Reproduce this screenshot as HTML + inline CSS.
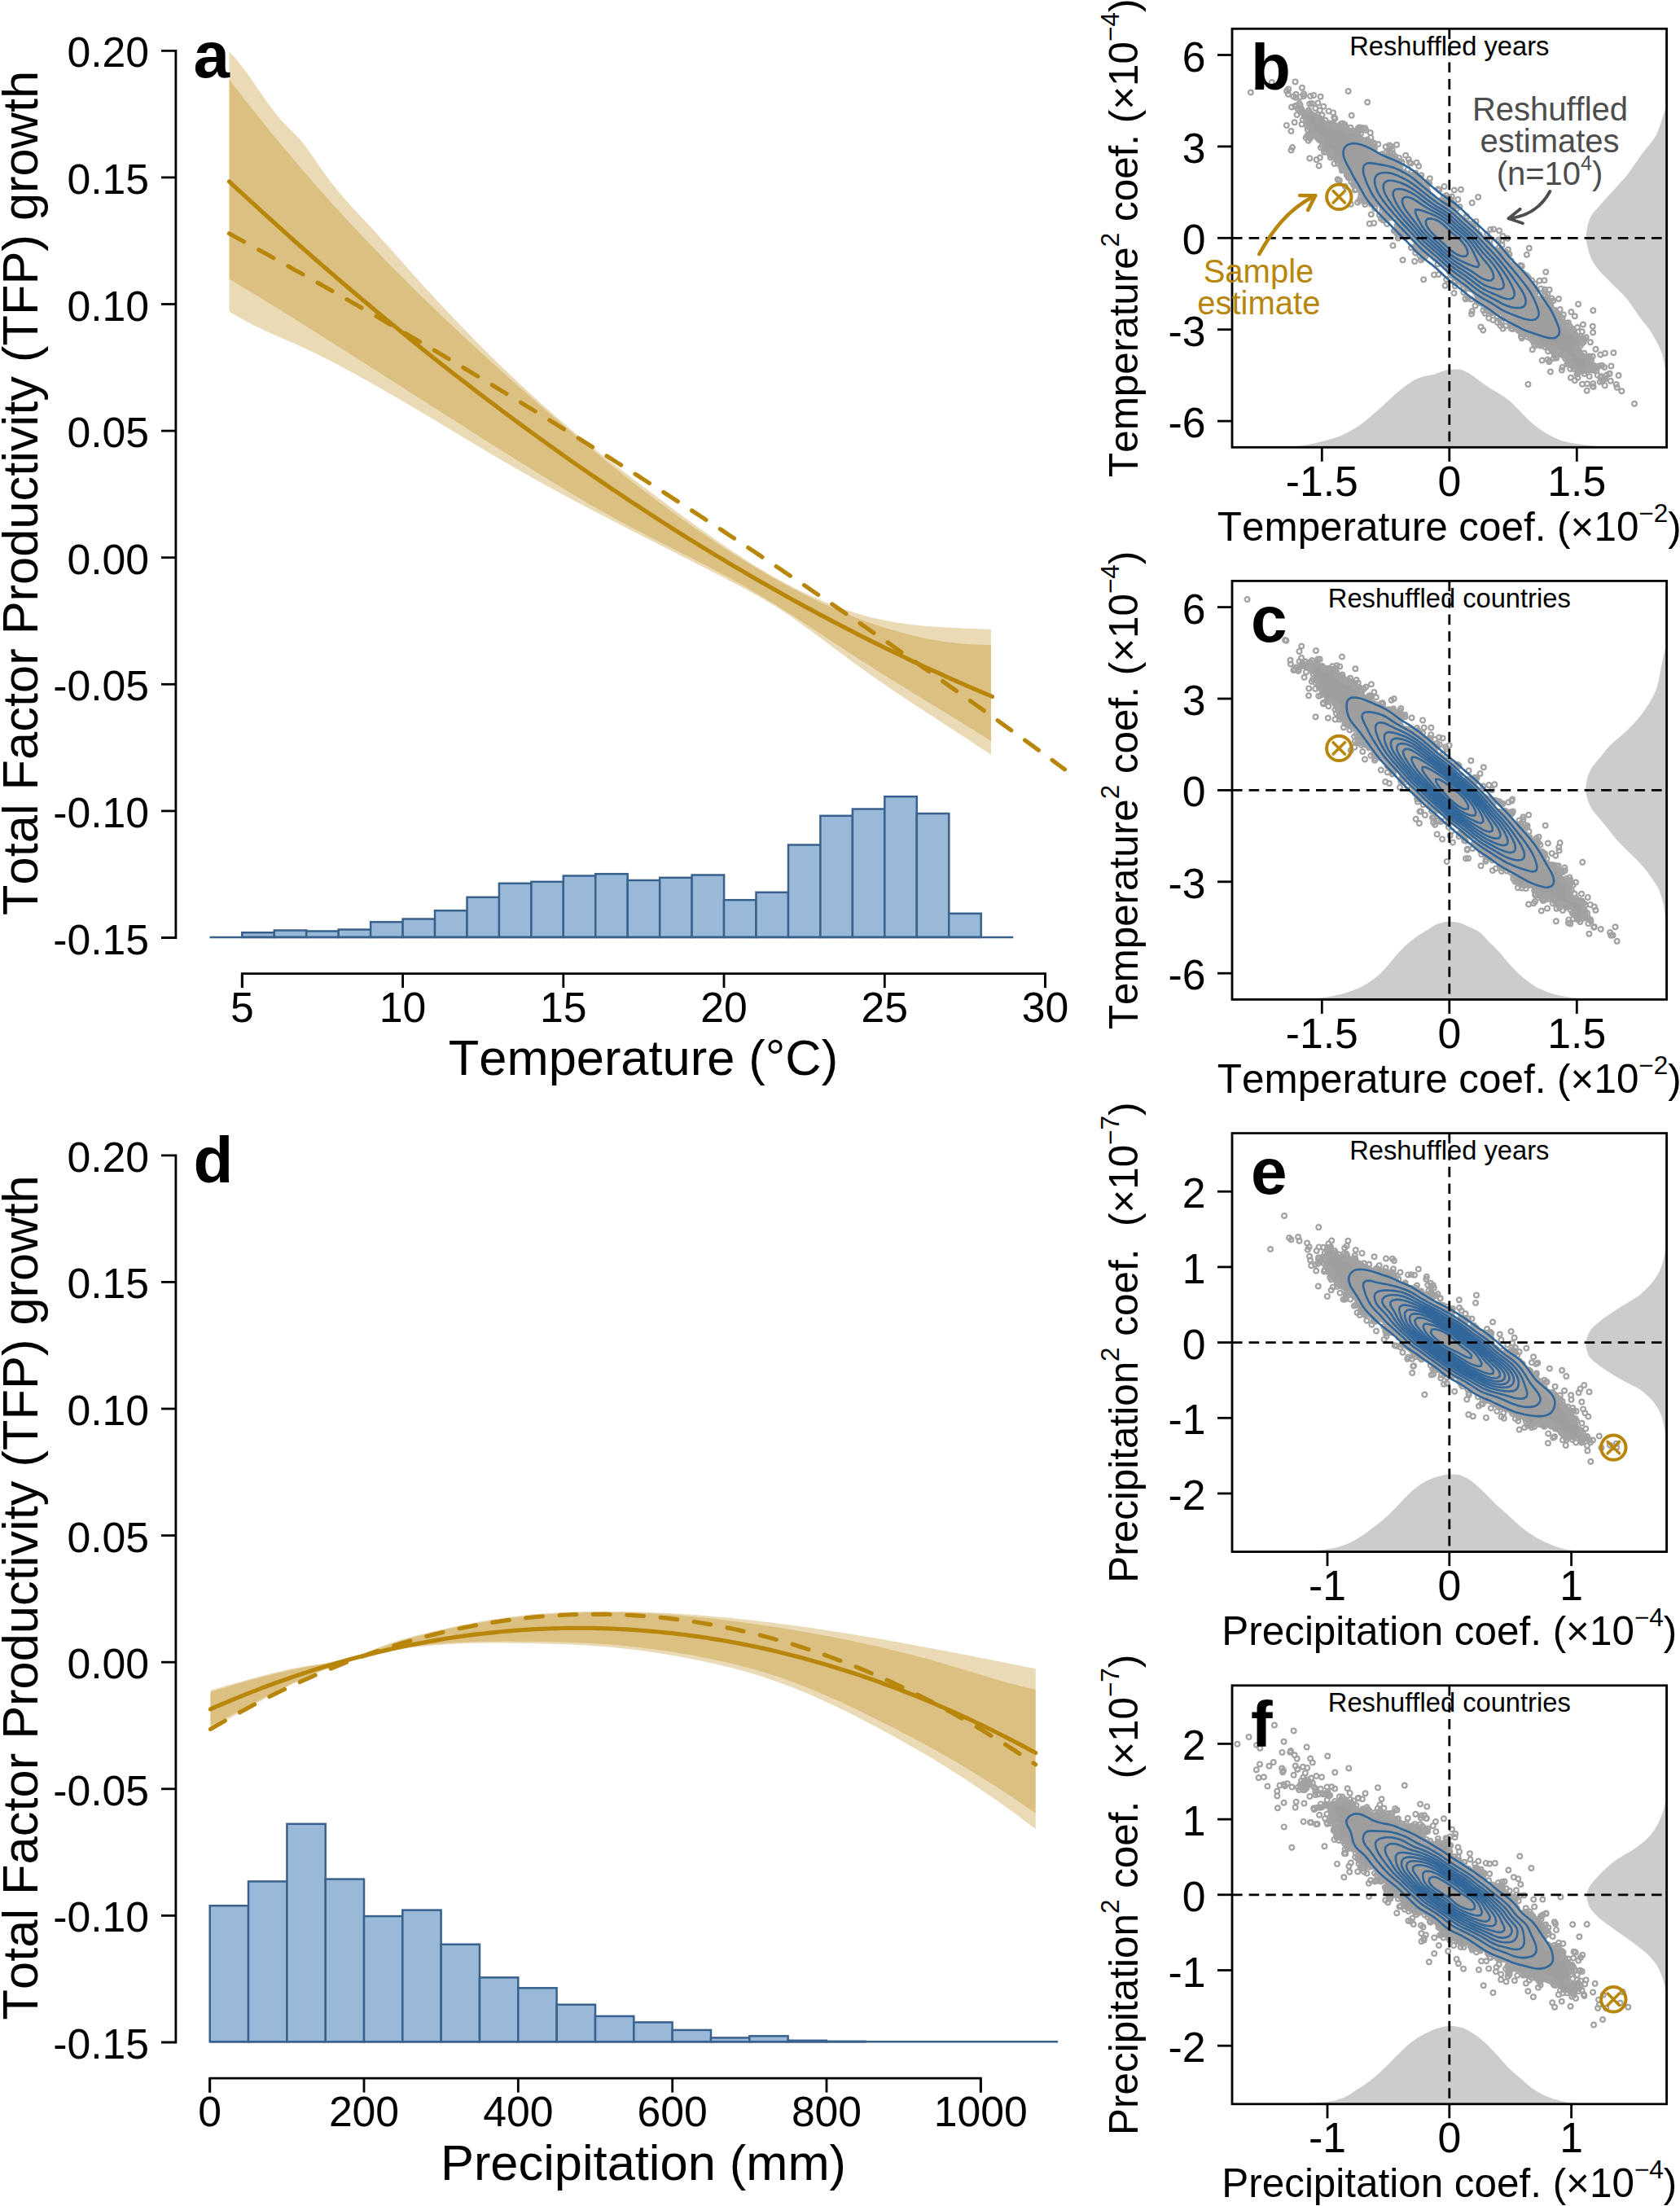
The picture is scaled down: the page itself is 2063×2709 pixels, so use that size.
<!DOCTYPE html>
<html lang="en"><head><meta charset="utf-8"><title>TFP growth response to temperature and precipitation</title><style>
html,body{margin:0;padding:0;background:#fff}
svg{display:block}
text{font-family:"Liberation Sans",sans-serif;fill:#000;font-kerning:none}
.ax{font-size:51.7px}
.rt{font-size:49.4px}
.big{font-size:61.4px}
.let{font-size:80px;font-weight:bold}
.ttl{font-size:32.7px}
.ann{font-size:40px}
.ann text{fill:inherit}
</style></head><body>
<svg width="2063" height="2709" viewBox="0 0 2063 2709">
<rect width="2063" height="2709" fill="#fff"/>
<polygon points="281.5,63.5 287.5,69.8 293.5,76.9 299.5,84.7 305.5,93.0 311.5,101.6 317.5,110.4 323.5,119.1 329.5,127.6 335.5,135.6 341.5,143.2 347.5,150.0 353.5,156.1 359.5,162.0 365.5,168.2 371.5,175.0 377.4,182.8 383.4,191.2 389.4,199.9 395.4,208.6 401.4,217.1 407.4,225.0 413.4,232.6 419.4,239.8 425.4,246.6 431.4,253.3 437.4,259.8 443.4,266.2 449.4,272.6 455.4,279.1 461.4,285.6 467.4,292.2 473.4,298.9 479.4,305.6 485.4,312.3 491.4,319.1 497.4,325.8 503.4,332.5 509.4,339.2 515.4,345.9 521.4,352.5 527.4,359.0 533.4,365.5 539.4,372.0 545.4,378.4 551.4,384.7 557.4,391.0 563.3,397.3 569.3,403.5 575.3,409.7 581.3,415.8 587.3,421.9 593.3,427.9 599.3,433.9 605.3,439.8 611.3,445.7 617.3,451.5 623.3,457.3 629.3,463.0 635.3,468.6 641.3,474.3 647.3,479.8 653.3,485.3 659.3,490.8 665.3,496.2 671.3,501.5 677.3,506.8 683.3,512.1 689.3,517.3 695.3,522.4 701.3,527.5 707.3,532.5 713.3,537.5 719.3,542.4 725.3,547.3 731.3,552.1 737.3,556.9 743.3,561.6 749.2,566.3 755.2,571.0 761.2,575.6 767.2,580.3 773.2,584.8 779.2,589.4 785.2,594.0 791.2,598.5 797.2,603.0 803.2,607.5 809.2,612.0 815.2,616.5 821.2,620.9 827.2,625.4 833.2,629.9 839.2,634.3 845.2,638.7 851.2,643.1 857.2,647.4 863.2,651.7 869.2,656.0 875.2,660.2 881.2,664.4 887.2,668.6 893.2,672.6 899.2,676.7 905.2,680.6 911.2,684.6 917.2,688.4 923.2,692.2 929.2,695.9 935.2,699.5 941.1,703.1 947.1,706.5 953.1,709.9 959.1,713.2 965.1,716.5 971.1,719.6 977.1,722.7 983.1,725.7 989.1,728.5 995.1,731.3 1001.1,734.1 1007.1,736.7 1013.1,739.2 1019.1,741.6 1025.1,744.0 1031.1,746.2 1037.1,748.3 1043.1,750.3 1049.1,752.3 1055.1,754.1 1061.1,755.8 1067.1,757.4 1073.1,758.9 1079.1,760.3 1085.1,761.5 1091.1,762.7 1097.1,763.8 1103.1,764.7 1109.1,765.6 1115.1,766.4 1121.1,767.2 1127.0,767.8 1133.0,768.4 1139.0,769.0 1145.0,769.4 1151.0,769.9 1157.0,770.3 1163.0,770.6 1169.0,770.9 1175.0,771.2 1181.0,771.5 1187.0,771.8 1193.0,772.0 1199.0,772.3 1205.0,772.5 1211.0,772.7 1217.0,773.0 1217.0,927.0 1211.0,922.9 1205.0,918.9 1199.0,914.9 1193.0,910.9 1187.0,907.0 1181.0,903.1 1175.0,899.1 1169.0,895.2 1163.0,891.3 1157.0,887.4 1151.0,883.5 1145.0,879.6 1139.0,875.7 1133.0,871.8 1127.0,867.9 1121.1,863.9 1115.1,860.0 1109.1,856.0 1103.1,852.0 1097.1,848.0 1091.1,843.9 1085.1,839.8 1079.1,835.7 1073.1,831.5 1067.1,827.3 1061.1,823.1 1055.1,818.8 1049.1,814.4 1043.1,810.0 1037.1,805.6 1031.1,801.1 1025.1,796.6 1019.1,792.1 1013.1,787.6 1007.1,783.1 1001.1,778.7 995.1,774.3 989.1,769.9 983.1,765.6 977.1,761.3 971.1,757.1 965.1,753.1 959.1,749.1 953.1,745.2 947.1,741.5 941.1,737.9 935.2,734.4 929.2,731.0 923.2,727.7 917.2,724.4 911.2,721.2 905.2,718.0 899.2,714.9 893.2,711.7 887.2,708.6 881.2,705.5 875.2,702.4 869.2,699.3 863.2,696.2 857.2,693.2 851.2,690.1 845.2,687.0 839.2,684.0 833.2,680.9 827.2,677.8 821.2,674.8 815.2,671.7 809.2,668.7 803.2,665.6 797.2,662.6 791.2,659.5 785.2,656.4 779.2,653.4 773.2,650.3 767.2,647.2 761.2,644.1 755.2,641.0 749.2,637.9 743.3,634.8 737.3,631.7 731.3,628.6 725.3,625.4 719.3,622.3 713.3,619.1 707.3,615.9 701.3,612.7 695.3,609.5 689.3,606.3 683.3,603.0 677.3,599.7 671.3,596.4 665.3,593.1 659.3,589.8 653.3,586.4 647.3,583.1 641.3,579.7 635.3,576.2 629.3,572.8 623.3,569.3 617.3,565.8 611.3,562.3 605.3,558.7 599.3,555.2 593.3,551.6 587.3,548.0 581.3,544.4 575.3,540.9 569.3,537.3 563.3,533.7 557.4,530.1 551.4,526.5 545.4,522.9 539.4,519.3 533.4,515.7 527.4,512.1 521.4,508.5 515.4,505.0 509.4,501.4 503.4,497.9 497.4,494.3 491.4,490.8 485.4,487.3 479.4,483.9 473.4,480.4 467.4,476.9 461.4,473.5 455.4,470.1 449.4,466.7 443.4,463.4 437.4,460.1 431.4,456.8 425.4,453.5 419.4,450.3 413.4,447.1 407.4,444.0 401.4,440.9 395.4,437.9 389.4,434.9 383.4,432.0 377.4,429.2 371.5,426.4 365.5,423.7 359.5,421.0 353.5,418.4 347.5,415.8 341.5,413.2 335.5,410.5 329.5,407.9 323.5,405.1 317.5,402.3 311.5,399.4 305.5,396.3 299.5,393.1 293.5,389.8 287.5,386.2 281.5,382.5" fill="#B8860B" fill-opacity="0.3"/>
<polygon points="281.5,97.5 287.5,105.4 293.5,113.1 299.5,120.9 305.5,128.5 311.5,136.1 317.5,143.7 323.5,151.1 329.5,158.5 335.5,165.9 341.5,173.2 347.5,180.4 353.5,187.5 359.5,194.6 365.5,201.7 371.5,208.7 377.4,215.6 383.4,222.5 389.4,229.3 395.4,236.1 401.4,242.8 407.4,249.5 413.4,256.1 419.4,262.7 425.4,269.2 431.4,275.7 437.4,282.1 443.4,288.5 449.4,294.8 455.4,301.1 461.4,307.3 467.4,313.5 473.4,319.7 479.4,325.8 485.4,331.9 491.4,337.9 497.4,343.9 503.4,349.9 509.4,355.8 515.4,361.7 521.4,367.5 527.4,373.4 533.4,379.1 539.4,384.9 545.4,390.6 551.4,396.3 557.4,402.0 563.3,407.6 569.3,413.2 575.3,418.7 581.3,424.3 587.3,429.8 593.3,435.3 599.3,440.8 605.3,446.2 611.3,451.6 617.3,457.0 623.3,462.4 629.3,467.8 635.3,473.1 641.3,478.4 647.3,483.7 653.3,489.0 659.3,494.2 665.3,499.5 671.3,504.7 677.3,509.9 683.3,515.0 689.3,520.2 695.3,525.3 701.3,530.3 707.3,535.4 713.3,540.4 719.3,545.4 725.3,550.4 731.3,555.4 737.3,560.3 743.3,565.2 749.2,570.0 755.2,574.8 761.2,579.6 767.2,584.4 773.2,589.1 779.2,593.8 785.2,598.4 791.2,603.0 797.2,607.6 803.2,612.2 809.2,616.7 815.2,621.1 821.2,625.5 827.2,629.9 833.2,634.3 839.2,638.6 845.2,642.8 851.2,647.0 857.2,651.2 863.2,655.3 869.2,659.4 875.2,663.5 881.2,667.5 887.2,671.4 893.2,675.3 899.2,679.2 905.2,683.0 911.2,686.7 917.2,690.4 923.2,694.1 929.2,697.7 935.2,701.2 941.1,704.7 947.1,708.2 953.1,711.5 959.1,714.9 965.1,718.2 971.1,721.4 977.1,724.5 983.1,727.6 989.1,730.7 995.1,733.7 1001.1,736.6 1007.1,739.5 1013.1,742.2 1019.1,745.0 1025.1,747.6 1031.1,750.2 1037.1,752.8 1043.1,755.2 1049.1,757.6 1055.1,759.9 1061.1,762.2 1067.1,764.4 1073.1,766.5 1079.1,768.5 1085.1,770.4 1091.1,772.3 1097.1,774.1 1103.1,775.8 1109.1,777.4 1115.1,779.0 1121.1,780.5 1127.0,781.8 1133.0,783.2 1139.0,784.4 1145.0,785.5 1151.0,786.5 1157.0,787.5 1163.0,788.4 1169.0,789.1 1175.0,789.8 1181.0,790.4 1187.0,790.9 1193.0,791.3 1199.0,791.6 1205.0,791.8 1211.0,792.0 1217.0,792.0 1217.0,910.0 1211.0,906.2 1205.0,902.4 1199.0,898.7 1193.0,894.9 1187.0,891.2 1181.0,887.5 1175.0,883.8 1169.0,880.1 1163.0,876.4 1157.0,872.7 1151.0,869.1 1145.0,865.4 1139.0,861.7 1133.0,858.1 1127.0,854.4 1121.1,850.7 1115.1,847.0 1109.1,843.3 1103.1,839.6 1097.1,835.9 1091.1,832.2 1085.1,828.5 1079.1,824.7 1073.1,820.9 1067.1,817.1 1061.1,813.3 1055.1,809.5 1049.1,805.6 1043.1,801.7 1037.1,797.8 1031.1,793.8 1025.1,789.9 1019.1,785.9 1013.1,782.0 1007.1,778.0 1001.1,774.0 995.1,770.1 989.1,766.2 983.1,762.2 977.1,758.3 971.1,754.5 965.1,750.7 959.1,746.9 953.1,743.1 947.1,739.4 941.1,735.8 935.2,732.2 929.2,728.7 923.2,725.2 917.2,721.7 911.2,718.3 905.2,714.9 899.2,711.6 893.2,708.3 887.2,705.1 881.2,701.9 875.2,698.7 869.2,695.6 863.2,692.5 857.2,689.4 851.2,686.3 845.2,683.3 839.2,680.2 833.2,677.2 827.2,674.1 821.2,671.1 815.2,668.1 809.2,665.0 803.2,662.0 797.2,658.9 791.2,655.8 785.2,652.7 779.2,649.6 773.2,646.4 767.2,643.2 761.2,640.0 755.2,636.7 749.2,633.4 743.3,630.1 737.3,626.7 731.3,623.3 725.3,619.9 719.3,616.4 713.3,612.9 707.3,609.3 701.3,605.8 695.3,602.2 689.3,598.6 683.3,595.0 677.3,591.3 671.3,587.6 665.3,583.9 659.3,580.2 653.3,576.5 647.3,572.8 641.3,569.0 635.3,565.3 629.3,561.5 623.3,557.8 617.3,554.0 611.3,550.2 605.3,546.4 599.3,542.7 593.3,538.9 587.3,535.1 581.3,531.3 575.3,527.5 569.3,523.6 563.3,519.8 557.4,516.0 551.4,512.2 545.4,508.4 539.4,504.5 533.4,500.7 527.4,496.9 521.4,493.0 515.4,489.2 509.4,485.4 503.4,481.6 497.4,477.7 491.4,473.9 485.4,470.1 479.4,466.2 473.4,462.4 467.4,458.6 461.4,454.7 455.4,450.9 449.4,447.1 443.4,443.3 437.4,439.5 431.4,435.6 425.4,431.8 419.4,428.0 413.4,424.2 407.4,420.4 401.4,416.7 395.4,412.9 389.4,409.1 383.4,405.3 377.4,401.6 371.5,397.8 365.5,394.1 359.5,390.3 353.5,386.6 347.5,382.8 341.5,379.1 335.5,375.4 329.5,371.7 323.5,368.0 317.5,364.3 311.5,360.7 305.5,357.0 299.5,353.4 293.5,349.7 287.5,346.1 281.5,342.5" fill="#B8860B" fill-opacity="0.3"/>
<polyline points="281.5,222.9 289.4,230.3 297.4,237.6 305.3,244.9 313.3,252.2 321.2,259.4 329.1,266.7 337.1,273.8 345.0,281.0 353.0,288.1 360.9,295.2 368.8,302.2 376.8,309.2 384.7,316.2 392.7,323.1 400.6,330.0 408.6,336.9 416.5,343.7 424.4,350.5 432.4,357.2 440.3,364.0 448.3,370.7 456.2,377.3 464.1,383.9 472.1,390.5 480.0,397.1 488.0,403.6 495.9,410.1 503.8,416.5 511.8,423.0 519.7,429.3 527.7,435.7 535.6,442.0 543.5,448.3 551.5,454.5 559.4,460.7 567.4,466.9 575.3,473.0 583.2,479.1 591.2,485.2 599.1,491.2 607.1,497.2 615.0,503.2 622.9,509.1 630.9,515.0 638.8,520.9 646.8,526.7 654.7,532.5 662.7,538.3 670.6,544.0 678.5,549.7 686.5,555.3 694.4,561.0 702.4,566.6 710.3,572.1 718.2,577.6 726.2,583.1 734.1,588.5 742.1,594.0 750.0,599.3 757.9,604.7 765.9,610.0 773.8,615.3 781.8,620.5 789.7,625.7 797.6,630.9 805.6,636.0 813.5,641.1 821.5,646.2 829.4,651.2 837.3,656.2 845.3,661.2 853.2,666.1 861.2,671.0 869.1,675.9 877.1,680.7 885.0,685.5 892.9,690.2 900.9,694.9 908.8,699.6 916.8,704.3 924.7,708.9 932.6,713.5 940.6,718.0 948.5,722.5 956.5,727.0 964.4,731.5 972.3,735.9 980.3,740.3 988.2,744.6 996.2,748.9 1004.1,753.2 1012.0,757.4 1020.0,761.6 1027.9,765.8 1035.9,769.9 1043.8,774.0 1051.7,778.1 1059.7,782.1 1067.6,786.1 1075.6,790.1 1083.5,794.0 1091.4,797.9 1099.4,801.7 1107.3,805.5 1115.3,809.3 1123.2,813.1 1131.2,816.8 1139.1,820.5 1147.0,824.1 1155.0,827.7 1162.9,831.3 1170.9,834.9 1178.8,838.4 1186.7,841.9 1194.7,845.3 1202.6,848.7 1210.6,852.1 1218.5,855.4" fill="none" stroke="#B8860B" stroke-width="5.2" stroke-linecap="round" stroke-linejoin="round"/>
<polyline points="281.5,286.8 289.5,291.2 297.4,295.5 305.4,299.9 313.3,304.3 321.3,308.7 329.2,313.1 337.2,317.5 345.1,322.0 353.1,326.4 361.0,330.9 369.0,335.3 376.9,339.8 384.9,344.3 392.8,348.8 400.8,353.3 408.8,357.8 416.7,362.4 424.7,366.9 432.6,371.5 440.6,376.1 448.5,380.6 456.5,385.2 464.4,389.8 472.4,394.5 480.3,399.1 488.3,403.7 496.2,408.4 504.2,413.1 512.2,417.7 520.1,422.4 528.1,427.1 536.0,431.8 544.0,436.6 551.9,441.3 559.9,446.0 567.8,450.8 575.8,455.6 583.7,460.4 591.7,465.2 599.6,470.0 607.6,474.8 615.5,479.6 623.5,484.5 631.5,489.3 639.4,494.2 647.4,499.1 655.3,503.9 663.3,508.8 671.2,513.8 679.2,518.7 687.1,523.6 695.1,528.6 703.0,533.5 711.0,538.5 718.9,543.5 726.9,548.5 734.8,553.5 742.8,558.5 750.8,563.5 758.7,568.6 766.7,573.6 774.6,578.7 782.6,583.8 790.5,588.9 798.5,594.0 806.4,599.1 814.4,604.2 822.3,609.3 830.3,614.5 838.2,619.6 846.2,624.8 854.2,630.0 862.1,635.2 870.1,640.4 878.0,645.6 886.0,650.8 893.9,656.1 901.9,661.3 909.8,666.6 917.8,671.9 925.7,677.2 933.7,682.5 941.6,687.8 949.6,693.1 957.5,698.4 965.5,703.8 973.5,709.1 981.4,714.5 989.4,719.9 997.3,725.3 1005.3,730.7 1013.2,736.1 1021.2,741.5 1029.1,747.0 1037.1,752.4 1045.0,757.9 1053.0,763.4 1060.9,768.9 1068.9,774.4 1076.8,779.9 1084.8,785.4 1092.8,790.9 1100.7,796.5 1108.7,802.0 1116.6,807.6 1124.6,813.2 1132.5,818.8 1140.5,824.4 1148.4,830.0 1156.4,835.6 1164.3,841.3 1172.3,846.9 1180.2,852.6 1188.2,858.3 1196.2,864.0 1204.1,869.7 1212.1,875.4 1220.0,881.1 1228.0,886.8 1235.9,892.6 1243.9,898.3 1251.8,904.1 1259.8,909.9 1267.7,915.7 1275.7,921.5 1283.6,927.3 1291.6,933.1 1299.5,939.0 1307.5,944.8" fill="none" stroke="#B8860B" stroke-width="5.2" stroke-linecap="round" stroke-linejoin="round" stroke-dasharray="20.7 20.7"/>
<g fill="#9AB9D8" stroke="#38628D" stroke-width="2.5" stroke-linejoin="miter">
<rect x="297.3" y="1145.2" width="39.5" height="5.7"/>
<rect x="336.8" y="1142.5" width="39.5" height="8.4"/>
<rect x="376.2" y="1143.5" width="39.5" height="7.4"/>
<rect x="415.7" y="1141.5" width="39.5" height="9.4"/>
<rect x="455.1" y="1132.2" width="39.5" height="18.7"/>
<rect x="494.6" y="1128.5" width="39.5" height="22.4"/>
<rect x="534.0" y="1118.2" width="39.5" height="32.7"/>
<rect x="573.5" y="1101.8" width="39.5" height="49.1"/>
<rect x="612.9" y="1084.8" width="39.5" height="66.1"/>
<rect x="652.4" y="1082.8" width="39.5" height="68.1"/>
<rect x="691.8" y="1075.5" width="39.5" height="75.4"/>
<rect x="731.2" y="1073.2" width="39.5" height="77.7"/>
<rect x="770.7" y="1081.0" width="39.5" height="69.9"/>
<rect x="810.2" y="1077.8" width="39.5" height="73.1"/>
<rect x="849.6" y="1074.5" width="39.5" height="76.4"/>
<rect x="889.0" y="1105.2" width="39.5" height="45.7"/>
<rect x="928.5" y="1095.8" width="39.5" height="55.1"/>
<rect x="968.0" y="1037.5" width="39.5" height="113.4"/>
<rect x="1007.4" y="1001.8" width="39.5" height="149.1"/>
<rect x="1046.9" y="993.5" width="39.5" height="157.4"/>
<rect x="1086.3" y="978.2" width="39.5" height="172.7"/>
<rect x="1125.8" y="999.0" width="39.5" height="151.9"/>
<rect x="1165.2" y="1121.8" width="39.5" height="29.1"/>
<path d="M257.5,1150.9H1244.3" fill="none"/>
</g>
<path d="M198,62.3H215.9V1151.5H198" fill="none" stroke="#000" stroke-width="2.8"/>
<text x="183" y="82.3" text-anchor="end" class="ax">0.20</text>
<path d="M198,217.9H215.9" stroke="#000" stroke-width="2.8"/>
<text x="183" y="237.9" text-anchor="end" class="ax">0.15</text>
<path d="M198,373.5H215.9" stroke="#000" stroke-width="2.8"/>
<text x="183" y="393.5" text-anchor="end" class="ax">0.10</text>
<path d="M198,529.1H215.9" stroke="#000" stroke-width="2.8"/>
<text x="183" y="549.1" text-anchor="end" class="ax">0.05</text>
<path d="M198,684.7H215.9" stroke="#000" stroke-width="2.8"/>
<text x="183" y="704.7" text-anchor="end" class="ax">0.00</text>
<path d="M198,840.3H215.9" stroke="#000" stroke-width="2.8"/>
<text x="183" y="860.3" text-anchor="end" class="ax">-0.05</text>
<path d="M198,995.9H215.9" stroke="#000" stroke-width="2.8"/>
<text x="183" y="1015.9" text-anchor="end" class="ax">-0.10</text>
<text x="183" y="1171.5" text-anchor="end" class="ax">-0.15</text>
<path d="M297.3,1213.1V1195.6H1283.5V1213.1" fill="none" stroke="#000" stroke-width="2.8"/>
<path d="M297.3,1195.6V1213.1" stroke="#000" stroke-width="2.8"/>
<text x="297.3" y="1254.6" text-anchor="middle" class="ax">5</text>
<path d="M494.6,1195.6V1213.1" stroke="#000" stroke-width="2.8"/>
<text x="494.6" y="1254.6" text-anchor="middle" class="ax">10</text>
<path d="M691.8,1195.6V1213.1" stroke="#000" stroke-width="2.8"/>
<text x="691.8" y="1254.6" text-anchor="middle" class="ax">15</text>
<path d="M889.0,1195.6V1213.1" stroke="#000" stroke-width="2.8"/>
<text x="889.0" y="1254.6" text-anchor="middle" class="ax">20</text>
<path d="M1086.3,1195.6V1213.1" stroke="#000" stroke-width="2.8"/>
<text x="1086.3" y="1254.6" text-anchor="middle" class="ax">25</text>
<path d="M1283.5,1195.6V1213.1" stroke="#000" stroke-width="2.8"/>
<text x="1283.5" y="1254.6" text-anchor="middle" class="ax">30</text>
<text x="790" y="1320.1" text-anchor="middle" class="big">Temperature (°C)</text>
<text transform="translate(45.6,605.4) rotate(-90)" text-anchor="middle" class="big">Total Factor Productivity (TFP) growth</text>
<text x="237.5" y="95.1" class="let">a</text>
<polygon points="258.4,2075.6 264.4,2073.9 270.4,2072.2 276.4,2070.5 282.4,2068.8 288.4,2067.1 294.4,2065.4 300.4,2063.7 306.4,2062.0 312.4,2060.4 318.4,2058.8 324.4,2057.2 330.4,2055.7 336.3,2054.2 342.3,2052.8 348.3,2051.4 354.3,2050.1 360.3,2048.8 366.3,2047.7 372.3,2046.6 378.3,2045.6 384.3,2044.7 390.3,2043.9 396.3,2043.1 402.3,2042.2 408.3,2041.3 414.3,2040.3 420.3,2039.1 426.3,2037.7 432.3,2036.0 438.3,2034.0 444.3,2031.7 450.3,2029.3 456.3,2026.8 462.3,2024.2 468.3,2021.8 474.3,2019.5 480.2,2017.4 486.2,2015.5 492.2,2013.6 498.2,2011.9 504.2,2010.3 510.2,2008.8 516.2,2007.3 522.2,2005.8 528.2,2004.3 534.2,2002.9 540.2,2001.5 546.2,2000.2 552.2,1998.8 558.2,1997.5 564.2,1996.3 570.2,1995.1 576.2,1993.9 582.2,1992.7 588.2,1991.6 594.2,1990.6 600.2,1989.6 606.2,1988.6 612.2,1987.7 618.2,1986.8 624.1,1986.0 630.1,1985.2 636.1,1984.4 642.1,1983.7 648.1,1983.1 654.1,1982.5 660.1,1982.0 666.1,1981.5 672.1,1981.1 678.1,1980.7 684.1,1980.3 690.1,1980.0 696.1,1979.8 702.1,1979.5 708.1,1979.3 714.1,1979.2 720.1,1979.1 726.1,1979.0 732.1,1978.9 738.1,1978.9 744.1,1978.8 750.1,1978.9 756.1,1978.9 762.1,1979.0 768.0,1979.1 774.0,1979.2 780.0,1979.3 786.0,1979.5 792.0,1979.7 798.0,1979.9 804.0,1980.2 810.0,1980.4 816.0,1980.7 822.0,1981.1 828.0,1981.4 834.0,1981.8 840.0,1982.2 846.0,1982.6 852.0,1983.0 858.0,1983.4 864.0,1983.9 870.0,1984.4 876.0,1984.9 882.0,1985.5 888.0,1986.0 894.0,1986.6 900.0,1987.2 906.0,1987.8 911.9,1988.4 917.9,1989.1 923.9,1989.8 929.9,1990.5 935.9,1991.2 941.9,1991.9 947.9,1992.6 953.9,1993.4 959.9,1994.2 965.9,1994.9 971.9,1995.7 977.9,1996.6 983.9,1997.4 989.9,1998.3 995.9,1999.1 1001.9,2000.0 1007.9,2000.9 1013.9,2001.8 1019.9,2002.7 1025.9,2003.7 1031.9,2004.6 1037.9,2005.6 1043.9,2006.5 1049.9,2007.5 1055.8,2008.5 1061.8,2009.5 1067.8,2010.5 1073.8,2011.5 1079.8,2012.6 1085.8,2013.6 1091.8,2014.7 1097.8,2015.8 1103.8,2016.8 1109.8,2017.9 1115.8,2019.0 1121.8,2020.1 1127.8,2021.2 1133.8,2022.3 1139.8,2023.4 1145.8,2024.6 1151.8,2025.7 1157.8,2026.8 1163.8,2028.0 1169.8,2029.1 1175.8,2030.3 1181.8,2031.5 1187.8,2032.6 1193.8,2033.8 1199.7,2035.0 1205.7,2036.2 1211.7,2037.3 1217.7,2038.5 1223.7,2039.7 1229.7,2040.9 1235.7,2042.1 1241.7,2043.3 1247.7,2044.5 1253.7,2045.7 1259.7,2046.9 1265.7,2048.1 1271.7,2049.3 1271.7,2246.0 1265.7,2241.4 1259.7,2236.9 1253.7,2232.5 1247.7,2228.0 1241.7,2223.7 1235.7,2219.3 1229.7,2215.1 1223.7,2210.8 1217.7,2206.6 1211.7,2202.5 1205.7,2198.4 1199.7,2194.4 1193.8,2190.4 1187.8,2186.4 1181.8,2182.5 1175.8,2178.7 1169.8,2174.9 1163.8,2171.1 1157.8,2167.4 1151.8,2163.7 1145.8,2160.1 1139.8,2156.6 1133.8,2153.0 1127.8,2149.5 1121.8,2146.1 1115.8,2142.7 1109.8,2139.3 1103.8,2135.9 1097.8,2132.6 1091.8,2129.3 1085.8,2126.0 1079.8,2122.8 1073.8,2119.6 1067.8,2116.4 1061.8,2113.3 1055.8,2110.2 1049.9,2107.1 1043.9,2104.1 1037.9,2101.1 1031.9,2098.2 1025.9,2095.3 1019.9,2092.5 1013.9,2089.7 1007.9,2086.9 1001.9,2084.2 995.9,2081.6 989.9,2079.1 983.9,2076.6 977.9,2074.1 971.9,2071.7 965.9,2069.4 959.9,2067.2 953.9,2065.0 947.9,2063.0 941.9,2060.9 935.9,2059.0 929.9,2057.1 923.9,2055.3 917.9,2053.5 911.9,2051.8 906.0,2050.2 900.0,2048.6 894.0,2047.1 888.0,2045.6 882.0,2044.2 876.0,2042.8 870.0,2041.5 864.0,2040.2 858.0,2038.9 852.0,2037.7 846.0,2036.5 840.0,2035.4 834.0,2034.3 828.0,2033.2 822.0,2032.2 816.0,2031.2 810.0,2030.2 804.0,2029.3 798.0,2028.5 792.0,2027.6 786.0,2026.8 780.0,2026.1 774.0,2025.3 768.0,2024.7 762.1,2024.0 756.1,2023.4 750.1,2022.8 744.1,2022.3 738.1,2021.8 732.1,2021.4 726.1,2020.9 720.1,2020.5 714.1,2020.2 708.1,2019.9 702.1,2019.6 696.1,2019.3 690.1,2019.1 684.1,2018.9 678.1,2018.7 672.1,2018.5 666.1,2018.4 660.1,2018.2 654.1,2018.1 648.1,2018.0 642.1,2017.9 636.1,2017.8 630.1,2017.7 624.1,2017.7 618.2,2017.6 612.2,2017.6 606.2,2017.6 600.2,2017.6 594.2,2017.7 588.2,2017.8 582.2,2017.9 576.2,2018.0 570.2,2018.2 564.2,2018.5 558.2,2018.7 552.2,2019.1 546.2,2019.4 540.2,2019.9 534.2,2020.3 528.2,2020.9 522.2,2021.5 516.2,2022.1 510.2,2022.8 504.2,2023.6 498.2,2024.5 492.2,2025.4 486.2,2026.4 480.2,2027.5 474.3,2028.7 468.3,2029.9 462.3,2031.2 456.3,2032.6 450.3,2034.1 444.3,2035.7 438.3,2037.3 432.3,2039.1 426.3,2040.9 420.3,2042.8 414.3,2044.9 408.3,2047.0 402.3,2049.2 396.3,2051.5 390.3,2054.0 384.3,2056.5 378.3,2059.1 372.3,2061.9 366.3,2064.7 360.3,2067.6 354.3,2070.6 348.3,2073.7 342.3,2076.8 336.3,2080.0 330.4,2083.2 324.4,2086.5 318.4,2089.8 312.4,2093.1 306.4,2096.5 300.4,2099.9 294.4,2103.2 288.4,2106.6 282.4,2109.9 276.4,2113.2 270.4,2116.5 264.4,2119.8 258.4,2123.0" fill="#B8860B" fill-opacity="0.3"/>
<polygon points="258.4,2078.0 264.4,2076.1 270.4,2074.2 276.4,2072.4 282.4,2070.6 288.4,2068.8 294.4,2067.0 300.4,2065.3 306.4,2063.6 312.4,2061.9 318.4,2060.3 324.4,2058.7 330.4,2057.2 336.3,2055.7 342.3,2054.3 348.3,2052.9 354.3,2051.5 360.3,2050.2 366.3,2048.9 372.3,2047.7 378.3,2046.6 384.3,2045.5 390.3,2044.5 396.3,2043.4 402.3,2042.4 408.3,2041.3 414.3,2040.1 420.3,2038.8 426.3,2037.4 432.3,2035.8 438.3,2033.9 444.3,2031.9 450.3,2029.8 456.3,2027.6 462.3,2025.4 468.3,2023.2 474.3,2021.1 480.2,2019.0 486.2,2017.1 492.2,2015.2 498.2,2013.4 504.2,2011.7 510.2,2010.1 516.2,2008.4 522.2,2006.9 528.2,2005.4 534.2,2003.9 540.2,2002.5 546.2,2001.1 552.2,1999.8 558.2,1998.5 564.2,1997.2 570.2,1996.0 576.2,1994.9 582.2,1993.8 588.2,1992.7 594.2,1991.7 600.2,1990.7 606.2,1989.8 612.2,1988.9 618.2,1988.1 624.1,1987.3 630.1,1986.5 636.1,1985.8 642.1,1985.2 648.1,1984.5 654.1,1983.9 660.1,1983.4 666.1,1982.9 672.1,1982.4 678.1,1982.0 684.1,1981.6 690.1,1981.3 696.1,1981.0 702.1,1980.7 708.1,1980.5 714.1,1980.3 720.1,1980.1 726.1,1980.0 732.1,1979.9 738.1,1979.9 744.1,1979.9 750.1,1979.9 756.1,1979.9 762.1,1980.0 768.0,1980.2 774.0,1980.3 780.0,1980.5 786.0,1980.8 792.0,1981.0 798.0,1981.3 804.0,1981.7 810.0,1982.0 816.0,1982.4 822.0,1982.8 828.0,1983.3 834.0,1983.7 840.0,1984.2 846.0,1984.8 852.0,1985.3 858.0,1985.9 864.0,1986.5 870.0,1987.1 876.0,1987.8 882.0,1988.5 888.0,1989.2 894.0,1989.9 900.0,1990.7 906.0,1991.4 911.9,1992.2 917.9,1993.0 923.9,1993.9 929.9,1994.7 935.9,1995.6 941.9,1996.5 947.9,1997.4 953.9,1998.3 959.9,1999.3 965.9,2000.3 971.9,2001.3 977.9,2002.3 983.9,2003.3 989.9,2004.3 995.9,2005.4 1001.9,2006.5 1007.9,2007.6 1013.9,2008.7 1019.9,2009.8 1025.9,2011.0 1031.9,2012.2 1037.9,2013.4 1043.9,2014.6 1049.9,2015.9 1055.8,2017.2 1061.8,2018.5 1067.8,2019.8 1073.8,2021.1 1079.8,2022.5 1085.8,2023.9 1091.8,2025.3 1097.8,2026.8 1103.8,2028.3 1109.8,2029.8 1115.8,2031.3 1121.8,2032.8 1127.8,2034.4 1133.8,2036.0 1139.8,2037.6 1145.8,2039.3 1151.8,2041.0 1157.8,2042.7 1163.8,2044.5 1169.8,2046.2 1175.8,2048.0 1181.8,2049.8 1187.8,2051.7 1193.8,2053.5 1199.7,2055.3 1205.7,2057.1 1211.7,2058.9 1217.7,2060.7 1223.7,2062.4 1229.7,2064.2 1235.7,2065.9 1241.7,2067.5 1247.7,2069.1 1253.7,2070.7 1259.7,2072.2 1265.7,2073.6 1271.7,2075.0 1271.7,2226.7 1265.7,2222.5 1259.7,2218.3 1253.7,2214.2 1247.7,2210.2 1241.7,2206.1 1235.7,2202.2 1229.7,2198.2 1223.7,2194.3 1217.7,2190.5 1211.7,2186.7 1205.7,2182.9 1199.7,2179.2 1193.8,2175.5 1187.8,2171.9 1181.8,2168.3 1175.8,2164.8 1169.8,2161.3 1163.8,2157.8 1157.8,2154.4 1151.8,2151.0 1145.8,2147.7 1139.8,2144.4 1133.8,2141.1 1127.8,2137.9 1121.8,2134.7 1115.8,2131.5 1109.8,2128.4 1103.8,2125.2 1097.8,2122.1 1091.8,2119.1 1085.8,2116.0 1079.8,2113.0 1073.8,2110.0 1067.8,2107.0 1061.8,2104.0 1055.8,2101.1 1049.9,2098.2 1043.9,2095.4 1037.9,2092.6 1031.9,2089.8 1025.9,2087.1 1019.9,2084.4 1013.9,2081.8 1007.9,2079.2 1001.9,2076.7 995.9,2074.2 989.9,2071.8 983.9,2069.4 977.9,2067.1 971.9,2064.9 965.9,2062.7 959.9,2060.6 953.9,2058.5 947.9,2056.6 941.9,2054.7 935.9,2052.9 929.9,2051.1 923.9,2049.4 917.9,2047.8 911.9,2046.2 906.0,2044.7 900.0,2043.2 894.0,2041.8 888.0,2040.4 882.0,2039.1 876.0,2037.9 870.0,2036.6 864.0,2035.4 858.0,2034.3 852.0,2033.1 846.0,2032.1 840.0,2031.0 834.0,2030.0 828.0,2029.0 822.0,2028.1 816.0,2027.2 810.0,2026.3 804.0,2025.5 798.0,2024.7 792.0,2023.9 786.0,2023.2 780.0,2022.5 774.0,2021.9 768.0,2021.2 762.1,2020.7 756.1,2020.1 750.1,2019.6 744.1,2019.2 738.1,2018.7 732.1,2018.3 726.1,2018.0 720.1,2017.6 714.1,2017.4 708.1,2017.1 702.1,2016.9 696.1,2016.7 690.1,2016.5 684.1,2016.3 678.1,2016.2 672.1,2016.1 666.1,2016.0 660.1,2015.9 654.1,2015.8 648.1,2015.8 642.1,2015.7 636.1,2015.7 630.1,2015.7 624.1,2015.6 618.2,2015.6 612.2,2015.7 606.2,2015.7 600.2,2015.8 594.2,2015.9 588.2,2016.0 582.2,2016.2 576.2,2016.4 570.2,2016.6 564.2,2016.9 558.2,2017.3 552.2,2017.6 546.2,2018.1 540.2,2018.5 534.2,2019.1 528.2,2019.6 522.2,2020.3 516.2,2021.0 510.2,2021.8 504.2,2022.6 498.2,2023.5 492.2,2024.5 486.2,2025.6 480.2,2026.7 474.3,2027.9 468.3,2029.2 462.3,2030.5 456.3,2032.0 450.3,2033.5 444.3,2035.1 438.3,2036.7 432.3,2038.5 426.3,2040.3 420.3,2042.3 414.3,2044.3 408.3,2046.4 402.3,2048.6 396.3,2050.9 390.3,2053.2 384.3,2055.7 378.3,2058.3 372.3,2060.9 366.3,2063.7 360.3,2066.5 354.3,2069.4 348.3,2072.3 342.3,2075.3 336.3,2078.4 330.4,2081.5 324.4,2084.6 318.4,2087.8 312.4,2091.0 306.4,2094.2 300.4,2097.4 294.4,2100.6 288.4,2103.7 282.4,2106.9 276.4,2110.0 270.4,2113.0 264.4,2116.1 258.4,2119.0" fill="#B8860B" fill-opacity="0.3"/>
<polyline points="258.4,2098.9 266.4,2095.4 274.4,2092.0 282.3,2088.6 290.3,2085.3 298.3,2082.1 306.3,2078.9 314.3,2075.8 322.2,2072.7 330.2,2069.7 338.2,2066.8 346.2,2064.0 354.1,2061.2 362.1,2058.4 370.1,2055.7 378.1,2053.1 386.1,2050.6 394.0,2048.1 402.0,2045.7 410.0,2043.3 418.0,2041.0 426.0,2038.7 433.9,2036.6 441.9,2034.4 449.9,2032.4 457.9,2030.4 465.8,2028.5 473.8,2026.6 481.8,2024.8 489.8,2023.0 497.8,2021.3 505.7,2019.7 513.7,2018.2 521.7,2016.7 529.7,2015.2 537.7,2013.9 545.6,2012.5 553.6,2011.3 561.6,2010.1 569.6,2009.0 577.5,2007.9 585.5,2006.9 593.5,2006.0 601.5,2005.1 609.5,2004.3 617.4,2003.5 625.4,2002.8 633.4,2002.2 641.4,2001.6 649.4,2001.1 657.3,2000.7 665.3,2000.3 673.3,2000.0 681.3,1999.7 689.3,1999.5 697.2,1999.4 705.2,1999.3 713.2,1999.3 721.2,1999.3 729.1,1999.4 737.1,1999.6 745.1,1999.9 753.1,2000.2 761.1,2000.5 769.0,2000.9 777.0,2001.4 785.0,2002.0 793.0,2002.6 801.0,2003.3 808.9,2004.0 816.9,2004.8 824.9,2005.6 832.9,2006.6 840.8,2007.5 848.8,2008.6 856.8,2009.7 864.8,2010.8 872.8,2012.1 880.7,2013.4 888.7,2014.7 896.7,2016.1 904.7,2017.6 912.7,2019.1 920.6,2020.7 928.6,2022.4 936.6,2024.1 944.6,2025.9 952.6,2027.8 960.5,2029.7 968.5,2031.7 976.5,2033.7 984.5,2035.8 992.4,2037.9 1000.4,2040.2 1008.4,2042.4 1016.4,2044.8 1024.4,2047.2 1032.3,2049.7 1040.3,2052.2 1048.3,2054.8 1056.3,2057.4 1064.3,2060.2 1072.2,2062.9 1080.2,2065.8 1088.2,2068.7 1096.2,2071.6 1104.1,2074.7 1112.1,2077.7 1120.1,2080.9 1128.1,2084.1 1136.1,2087.4 1144.0,2090.7 1152.0,2094.1 1160.0,2097.6 1168.0,2101.1 1176.0,2104.7 1183.9,2108.3 1191.9,2112.0 1199.9,2115.8 1207.9,2119.6 1215.8,2123.5 1223.8,2127.5 1231.8,2131.5 1239.8,2135.6 1247.8,2139.7 1255.7,2143.9 1263.7,2148.2 1271.7,2152.5" fill="none" stroke="#B8860B" stroke-width="5.2" stroke-linecap="round" stroke-linejoin="round"/>
<polyline points="258.4,2123.5 266.4,2118.8 274.4,2114.2 282.3,2109.6 290.3,2105.1 298.3,2100.7 306.3,2096.4 314.3,2092.1 322.2,2088.0 330.2,2083.9 338.2,2079.9 346.2,2076.0 354.1,2072.1 362.1,2068.4 370.1,2064.7 378.1,2061.1 386.1,2057.6 394.0,2054.1 402.0,2050.8 410.0,2047.5 418.0,2044.3 426.0,2041.2 433.9,2038.1 441.9,2035.2 449.9,2032.3 457.9,2029.5 465.8,2026.8 473.8,2024.1 481.8,2021.6 489.8,2019.1 497.8,2016.7 505.7,2014.4 513.7,2012.2 521.7,2010.0 529.7,2007.9 537.7,2006.0 545.6,2004.0 553.6,2002.2 561.6,2000.5 569.6,1998.8 577.5,1997.2 585.5,1995.7 593.5,1994.3 601.5,1992.9 609.5,1991.7 617.4,1990.5 625.4,1989.4 633.4,1988.3 641.4,1987.4 649.4,1986.5 657.3,1985.7 665.3,1985.0 673.3,1984.4 681.3,1983.9 689.3,1983.4 697.2,1983.0 705.2,1982.7 713.2,1982.5 721.2,1982.3 729.1,1982.3 737.1,1982.3 745.1,1982.4 753.1,1982.6 761.1,1982.8 769.0,1983.2 777.0,1983.6 785.0,1984.1 793.0,1984.7 801.0,1985.4 808.9,1986.1 816.9,1986.9 824.9,1987.8 832.9,1988.8 840.8,1989.9 848.8,1991.0 856.8,1992.2 864.8,1993.6 872.8,1994.9 880.7,1996.4 888.7,1998.0 896.7,1999.6 904.7,2001.3 912.7,2003.1 920.6,2004.9 928.6,2006.9 936.6,2008.9 944.6,2011.0 952.6,2013.2 960.5,2015.5 968.5,2017.8 976.5,2020.3 984.5,2022.8 992.4,2025.4 1000.4,2028.1 1008.4,2030.8 1016.4,2033.6 1024.4,2036.6 1032.3,2039.6 1040.3,2042.6 1048.3,2045.8 1056.3,2049.0 1064.3,2052.3 1072.2,2055.7 1080.2,2059.2 1088.2,2062.8 1096.2,2066.4 1104.1,2070.1 1112.1,2073.9 1120.1,2077.8 1128.1,2081.8 1136.1,2085.8 1144.0,2089.9 1152.0,2094.1 1160.0,2098.4 1168.0,2102.8 1176.0,2107.2 1183.9,2111.8 1191.9,2116.4 1199.9,2121.0 1207.9,2125.8 1215.8,2130.7 1223.8,2135.6 1231.8,2140.6 1239.8,2145.7 1247.8,2150.8 1255.7,2156.1 1263.7,2161.4 1271.7,2166.8" fill="none" stroke="#B8860B" stroke-width="5.2" stroke-linecap="round" stroke-linejoin="round" stroke-dasharray="20.7 20.7"/>
<g fill="#9AB9D8" stroke="#38628D" stroke-width="2.5" stroke-linejoin="miter">
<rect x="257.7" y="2340.2" width="47.3" height="167.1"/>
<rect x="305.0" y="2310.4" width="47.3" height="196.9"/>
<rect x="352.4" y="2239.8" width="47.3" height="267.5"/>
<rect x="399.7" y="2307.6" width="47.3" height="199.7"/>
<rect x="447.0" y="2353.1" width="47.3" height="154.2"/>
<rect x="494.3" y="2345.6" width="47.3" height="161.7"/>
<rect x="541.7" y="2387.7" width="47.3" height="119.6"/>
<rect x="589.0" y="2428.4" width="47.3" height="78.9"/>
<rect x="636.3" y="2441.3" width="47.3" height="66.0"/>
<rect x="683.7" y="2461.7" width="47.3" height="45.6"/>
<rect x="731.0" y="2475.9" width="47.3" height="31.4"/>
<rect x="778.3" y="2483.4" width="47.3" height="23.9"/>
<rect x="825.7" y="2492.9" width="47.3" height="14.4"/>
<rect x="873.0" y="2502.4" width="47.3" height="4.9"/>
<rect x="920.3" y="2500.3" width="47.3" height="7.0"/>
<rect x="967.6" y="2505.8" width="47.3" height="1.5"/>
<rect x="1015.0" y="2506.8" width="47.3" height="0.5"/>
<path d="M257.7,2507.3H1299.0" fill="none"/>
</g>
<path d="M198,1418.8H215.9V2508.0H198" fill="none" stroke="#000" stroke-width="2.8"/>
<text x="183" y="1438.8" text-anchor="end" class="ax">0.20</text>
<path d="M198,1574.4H215.9" stroke="#000" stroke-width="2.8"/>
<text x="183" y="1594.4" text-anchor="end" class="ax">0.15</text>
<path d="M198,1730.0H215.9" stroke="#000" stroke-width="2.8"/>
<text x="183" y="1750.0" text-anchor="end" class="ax">0.10</text>
<path d="M198,1885.6H215.9" stroke="#000" stroke-width="2.8"/>
<text x="183" y="1905.6" text-anchor="end" class="ax">0.05</text>
<path d="M198,2041.2H215.9" stroke="#000" stroke-width="2.8"/>
<text x="183" y="2061.2" text-anchor="end" class="ax">0.00</text>
<path d="M198,2196.8H215.9" stroke="#000" stroke-width="2.8"/>
<text x="183" y="2216.8" text-anchor="end" class="ax">-0.05</text>
<path d="M198,2352.4H215.9" stroke="#000" stroke-width="2.8"/>
<text x="183" y="2372.4" text-anchor="end" class="ax">-0.10</text>
<text x="183" y="2528.0" text-anchor="end" class="ax">-0.15</text>
<path d="M257.7,2569.6V2552.1H1204.3V2569.6" fill="none" stroke="#000" stroke-width="2.8"/>
<path d="M257.7,2552.1V2569.6" stroke="#000" stroke-width="2.8"/>
<text x="257.7" y="2611.1" text-anchor="middle" class="ax">0</text>
<path d="M447.0,2552.1V2569.6" stroke="#000" stroke-width="2.8"/>
<text x="447.0" y="2611.1" text-anchor="middle" class="ax">200</text>
<path d="M636.3,2552.1V2569.6" stroke="#000" stroke-width="2.8"/>
<text x="636.3" y="2611.1" text-anchor="middle" class="ax">400</text>
<path d="M825.7,2552.1V2569.6" stroke="#000" stroke-width="2.8"/>
<text x="825.7" y="2611.1" text-anchor="middle" class="ax">600</text>
<path d="M1015.0,2552.1V2569.6" stroke="#000" stroke-width="2.8"/>
<text x="1015.0" y="2611.1" text-anchor="middle" class="ax">800</text>
<path d="M1204.3,2552.1V2569.6" stroke="#000" stroke-width="2.8"/>
<text x="1204.3" y="2611.1" text-anchor="middle" class="ax">1000</text>
<text x="790" y="2676.6" text-anchor="middle" class="big">Precipitation (mm)</text>
<text transform="translate(45.6,1961.9) rotate(-90)" text-anchor="middle" class="big">Total Factor Productivity (TFP) growth</text>
<text x="237.5" y="1451.6" class="let">d</text>
<defs>
<marker id="rg" markerUnits="userSpaceOnUse" markerWidth="8" markerHeight="8" refX="4" refY="4" overflow="visible"><circle cx="4" cy="4" r="2.9" fill="none" stroke="#A2A2A2" stroke-width="2.2"/></marker>
<clipPath id="clipb"><rect x="1513.0" y="35.3" width="533.6" height="514.0"/></clipPath>
<clipPath id="clipc"><rect x="1513.0" y="713.4" width="533.6" height="514.0"/></clipPath>
<clipPath id="clipe"><rect x="1513.0" y="1391.6" width="533.6" height="514.0"/></clipPath>
<clipPath id="clipf"><rect x="1513.0" y="2069.8" width="533.6" height="514.0"/></clipPath>
</defs>
<g id="pb">
<g clip-path="url(#clipb)">
<polygon points="2046.6,125.0 2046.6,125.0 2046.1,128.0 2045.4,130.9 2044.7,133.9 2043.9,136.9 2042.9,139.9 2042.0,142.8 2041.1,145.8 2040.2,148.8 2039.3,151.8 2038.3,154.7 2037.2,157.7 2036.0,160.7 2034.7,163.7 2033.3,166.6 2031.5,169.6 2029.4,172.6 2027.2,175.6 2024.8,178.5 2022.3,181.5 2019.8,184.5 2017.4,187.5 2015.2,190.4 2013.1,193.4 2011.0,196.4 2009.0,199.4 2007.0,202.3 2004.9,205.3 2002.9,208.3 2000.7,211.2 1998.5,214.2 1996.1,217.2 1993.6,220.2 1991.0,223.1 1988.4,226.1 1985.6,229.1 1982.9,232.1 1980.1,235.0 1977.3,238.0 1974.6,241.0 1971.9,244.0 1969.2,246.9 1966.5,249.9 1963.9,252.9 1961.3,255.9 1958.6,258.8 1956.1,261.8 1954.1,264.8 1952.6,267.8 1951.4,270.7 1950.4,273.7 1949.6,276.7 1949.0,279.7 1948.5,282.6 1948.1,285.6 1947.8,288.6 1947.7,291.6 1947.8,294.5 1948.3,297.5 1948.9,300.5 1949.6,303.4 1950.3,306.4 1951.1,309.4 1952.1,312.4 1953.1,315.3 1954.4,318.3 1956.0,321.3 1957.8,324.3 1959.9,327.2 1962.1,330.2 1964.6,333.2 1967.3,336.2 1970.2,339.1 1973.1,342.1 1976.0,345.1 1979.0,348.1 1982.0,351.0 1985.0,354.0 1988.1,357.0 1991.2,360.0 1994.2,362.9 1996.9,365.9 1999.3,368.9 2001.4,371.9 2003.4,374.8 2005.4,377.8 2007.5,380.8 2009.5,383.8 2011.6,386.7 2013.7,389.7 2015.9,392.7 2018.2,395.6 2020.7,398.6 2023.1,401.6 2025.3,404.6 2027.3,407.5 2029.1,410.5 2030.8,413.5 2032.5,416.5 2034.1,419.4 2035.8,422.4 2037.3,425.4 2038.6,428.4 2039.7,431.3 2040.8,434.3 2041.7,437.3 2042.5,440.3 2043.1,443.2 2043.7,446.2 2044.1,449.2 2044.6,452.2 2045.0,455.1 2045.3,458.1 2045.7,461.1 2046.0,464.1 2046.3,467.0 2046.6,470.0 2046.6,470.0" fill="#CCCCCC"/>
<polygon points="1578.0,549.3 1578.0,549.3 1581.0,549.1 1584.0,548.9 1587.0,548.6 1589.9,548.3 1592.9,547.9 1595.9,547.5 1598.9,547.2 1601.9,546.7 1604.9,546.2 1607.9,545.7 1610.8,545.1 1613.8,544.4 1616.8,543.7 1619.8,543.0 1622.8,542.3 1625.8,541.6 1628.8,540.8 1631.7,540.0 1634.7,539.1 1637.7,538.2 1640.7,537.2 1643.7,536.1 1646.7,534.9 1649.7,533.5 1652.6,532.1 1655.6,530.6 1658.6,529.0 1661.6,527.3 1664.6,525.6 1667.6,523.7 1670.6,521.6 1673.5,519.4 1676.5,517.0 1679.5,514.5 1682.5,511.9 1685.5,509.3 1688.5,506.8 1691.4,504.2 1694.4,501.6 1697.4,498.9 1700.4,496.1 1703.4,493.3 1706.4,490.5 1709.4,487.8 1712.3,485.1 1715.3,482.5 1718.3,480.0 1721.3,477.6 1724.3,475.2 1727.3,473.0 1730.3,470.9 1733.2,468.9 1736.2,467.1 1739.2,465.5 1742.2,464.2 1745.2,463.2 1748.2,462.3 1751.2,461.7 1754.1,461.1 1757.1,460.6 1760.1,460.0 1763.1,459.1 1766.1,457.9 1769.1,456.6 1772.1,455.7 1775.0,454.8 1778.0,454.1 1781.0,453.9 1784.0,453.7 1787.0,453.6 1790.0,453.5 1793.0,453.7 1795.9,454.6 1798.9,456.0 1801.9,457.6 1804.9,459.1 1807.9,461.1 1810.9,463.2 1813.9,465.5 1816.8,467.7 1819.8,469.8 1822.8,472.0 1825.8,474.1 1828.8,476.1 1831.8,477.9 1834.8,479.7 1837.7,481.4 1840.7,483.3 1843.7,485.2 1846.7,487.1 1849.7,489.2 1852.7,491.4 1855.7,493.9 1858.6,496.8 1861.6,499.9 1864.6,503.1 1867.6,506.1 1870.6,509.2 1873.6,512.3 1876.6,515.2 1879.5,518.0 1882.5,520.6 1885.5,523.0 1888.5,525.3 1891.5,527.5 1894.5,529.5 1897.4,531.4 1900.4,533.2 1903.4,534.8 1906.4,536.3 1909.4,537.8 1912.4,539.1 1915.4,540.3 1918.3,541.2 1921.3,542.0 1924.3,542.7 1927.3,543.4 1930.3,544.0 1933.3,544.5 1936.3,545.0 1939.2,545.5 1942.2,545.9 1945.2,546.3 1948.2,546.7 1951.2,547.0 1954.2,547.3 1957.2,547.6 1960.1,547.9 1963.1,548.1 1966.1,548.3 1969.1,548.5 1972.1,548.7 1975.1,548.8 1978.1,549.0 1981.0,549.1 1984.0,549.2 1987.0,549.3 1990.0,549.3 1990.0,549.3" fill="#CCCCCC"/>
<path d="M1590.5,116.2 1592.5,116.6 1594.2,117.9 1595.6,119.6 1594.4,121.2 1592.3,120.6 1590.3,119.6 1589.2,117.9ZM1609.0,126.2 1611.0,126.6 1612.3,128.3 1611.3,130.1 1609.4,129.9 1608.1,128.1ZM1594.5,127.8 1596.4,128.5 1596.9,130.6 1597.8,132.6 1599.3,134.3 1601.0,135.6 1603.0,136.4 1605.1,135.9 1606.9,134.6 1608.6,133.2 1610.4,134.1 1611.6,136.0 1613.2,137.5 1615.2,138.4 1617.2,139.3 1619.0,140.4 1621.2,141.0 1623.1,141.7 1624.3,143.6 1625.5,145.5 1627.0,147.0 1628.5,148.6 1630.2,150.0 1632.2,150.8 1634.3,150.2 1636.2,149.2 1638.0,150.2 1639.2,152.1 1641.0,153.4 1643.1,153.8 1645.0,152.8 1646.9,151.6 1649.0,151.3 1650.9,152.4 1652.4,154.0 1653.8,155.7 1655.7,156.7 1657.9,156.7 1659.8,157.8 1661.6,159.0 1663.7,159.4 1665.7,158.5 1667.4,157.1 1669.3,156.1 1671.5,156.5 1673.7,156.9 1675.8,157.5 1676.5,159.3 1674.9,160.7 1673.1,162.0 1671.8,163.8 1670.7,165.7 1670.7,167.8 1671.8,169.7 1673.3,171.3 1675.3,172.2 1677.4,172.0 1679.5,171.7 1681.3,173.0 1683.3,173.9 1685.5,174.1 1687.1,175.6 1689.0,176.7 1690.1,178.5 1689.1,180.4 1688.3,182.4 1687.6,184.5 1687.8,186.6 1689.0,188.5 1690.9,189.6 1693.0,190.3 1695.1,189.9 1697.1,189.1 1699.3,188.7 1701.2,187.7 1702.5,186.0 1703.0,183.9 1702.3,181.8 1703.2,179.9 1705.1,178.8 1707.2,178.6 1709.1,179.7 1710.4,181.4 1710.2,183.6 1709.9,185.8 1710.6,187.8 1711.8,189.7 1713.3,191.3 1715.0,192.7 1717.0,193.5 1719.1,194.2 1721.2,194.9 1723.3,195.0 1724.3,196.8 1723.0,198.5 1721.5,200.1 1720.3,202.0 1720.1,204.1 1721.1,206.0 1722.6,207.7 1724.1,209.2 1725.5,211.0 1727.2,212.3 1729.3,212.8 1731.5,212.7 1733.4,213.6 1735.6,213.6 1737.6,212.7 1739.5,213.5 1741.3,214.8 1743.2,215.9 1744.5,217.5 1744.4,219.7 1745.1,221.8 1746.6,223.4 1748.6,224.3 1750.7,223.8 1752.8,223.6 1754.1,225.2 1753.1,227.0 1751.9,228.8 1751.5,231.0 1752.5,232.9 1753.6,234.8 1754.4,236.9 1755.7,238.7 1757.3,240.1 1758.9,241.6 1759.8,243.6 1761.0,245.5 1762.6,246.9 1764.6,247.9 1766.7,247.5 1768.6,246.4 1770.2,244.9 1771.5,243.1 1772.8,241.3 1774.6,240.1 1776.7,239.9 1778.6,241.0 1780.8,241.5 1782.9,241.6 1784.5,243.1 1785.4,245.1 1786.3,247.1 1787.7,248.8 1789.2,250.4 1790.6,252.1 1791.6,254.0 1790.2,255.6 1788.6,257.0 1787.1,258.6 1786.1,260.6 1786.3,262.7 1787.6,264.5 1789.4,265.6 1791.4,266.6 1793.4,267.6 1795.4,268.4 1797.5,267.9 1799.6,267.8 1800.8,269.6 1801.6,271.6 1803.0,273.3 1804.9,274.4 1807.0,274.9 1809.1,274.6 1810.6,276.1 1811.5,278.1 1812.8,279.9 1813.2,282.0 1813.1,284.1 1814.1,286.1 1815.6,287.7 1817.2,289.2 1818.9,290.6 1820.9,291.4 1823.1,291.3 1825.1,292.2 1827.2,292.9 1828.8,294.4 1829.5,296.4 1829.4,298.6 1830.2,300.6 1831.1,302.6 1832.4,304.4 1834.2,305.5 1836.4,306.0 1838.4,305.2 1840.2,303.9 1841.5,302.2 1843.4,301.2 1844.8,302.8 1845.9,304.7 1847.5,306.2 1849.5,307.1 1851.3,308.4 1852.5,310.1 1853.4,312.1 1852.7,314.2 1852.7,316.3 1853.8,318.2 1855.2,319.9 1856.0,321.9 1857.0,323.9 1858.6,325.3 1860.4,326.6 1862.4,327.4 1864.6,327.1 1866.6,326.2 1868.2,327.3 1867.6,329.3 1867.5,331.5 1868.5,333.4 1870.0,335.1 1871.8,336.3 1873.7,337.5 1875.4,338.9 1876.9,340.5 1878.3,342.2 1880.0,343.5 1881.8,344.8 1883.5,346.2 1885.0,347.7 1885.0,349.9 1885.5,352.0 1886.7,353.8 1888.1,355.5 1887.2,357.4 1886.2,359.3 1885.8,361.4 1886.5,363.5 1887.8,365.3 1889.6,366.5 1891.6,367.3 1893.7,366.8 1895.5,365.5 1896.7,363.7 1897.2,361.6 1897.7,359.5 1899.7,359.7 1900.8,361.6 1901.8,363.5 1903.3,365.1 1905.3,366.1 1907.0,367.5 1907.4,369.5 1906.0,371.2 1905.0,373.1 1904.8,375.3 1905.7,377.3 1907.0,379.0 1908.8,380.4 1910.3,381.9 1911.9,383.5 1913.7,384.7 1915.8,385.3 1917.9,385.0 1919.6,386.4 1919.3,388.5 1918.8,390.6 1919.3,392.7 1920.5,394.5 1922.4,395.6 1924.5,396.3 1926.2,397.8 1927.3,399.6 1928.6,401.4 1930.2,403.0 1932.1,404.0 1933.8,405.3 1935.7,406.5 1937.3,408.0 1938.5,409.8 1940.0,411.4 1942.0,412.3 1944.2,412.2 1946.2,413.1 1947.8,414.5 1948.4,416.6 1947.1,418.4 1945.4,419.7 1943.8,421.2 1942.4,422.9 1941.0,424.6 1939.6,426.3 1938.9,428.4 1939.5,430.5 1940.8,432.2 1942.7,433.2 1944.8,433.8 1946.6,435.1 1948.4,436.4 1950.4,437.0 1952.6,437.5 1954.4,438.6 1954.5,440.7 1954.3,442.9 1954.6,445.1 1955.6,447.0 1957.2,448.5 1959.1,449.5 1961.0,450.6 1961.6,452.6 1960.9,454.7 1960.8,456.8 1960.1,458.8 1958.0,458.7 1955.8,458.7 1953.8,457.8 1951.7,457.2 1949.6,457.9 1947.7,458.9 1945.5,459.1 1943.5,458.4 1941.3,458.5 1939.5,459.7 1938.2,461.5 1936.6,462.9 1935.1,461.6 1935.6,459.5 1935.6,457.3 1934.6,455.4 1933.0,453.9 1930.9,453.1 1928.8,452.9 1927.1,451.5 1925.6,449.8 1924.0,448.4 1924.1,446.3 1924.5,444.2 1923.5,442.2 1922.1,440.6 1920.8,438.8 1919.4,437.2 1917.4,436.2 1915.2,436.6 1913.4,437.7 1911.7,439.1 1909.6,439.0 1908.7,437.2 1908.2,435.0 1907.1,433.2 1905.3,431.9 1903.3,431.2 1901.2,430.7 1899.8,429.1 1898.2,427.5 1896.5,426.1 1894.6,425.0 1892.5,424.8 1890.4,424.4 1888.3,423.7 1886.2,424.2 1884.3,423.3 1883.3,421.3 1882.3,419.4 1880.9,417.6 1879.3,416.2 1877.5,414.9 1875.5,414.1 1873.3,413.6 1871.2,414.1 1869.2,414.9 1867.5,413.7 1867.7,411.5 1867.2,409.4 1866.0,407.6 1864.3,406.2 1862.6,404.8 1860.6,403.8 1858.5,404.0 1856.3,403.9 1854.6,402.6 1852.8,401.3 1851.7,399.5 1852.8,397.7 1853.9,395.8 1853.8,393.6 1852.6,391.8 1850.9,390.4 1848.9,389.7 1846.8,390.5 1845.2,392.0 1844.1,393.9 1844.3,396.0 1845.4,397.9 1847.1,399.3 1848.1,401.1 1846.7,402.8 1844.7,402.7 1843.1,401.2 1841.8,399.5 1840.5,397.7 1838.8,396.3 1838.3,394.4 1840.0,392.9 1841.8,391.7 1843.1,389.9 1843.5,387.8 1842.6,385.8 1841.0,384.3 1839.1,383.3 1837.0,383.7 1835.1,384.9 1833.8,386.7 1831.9,387.6 1830.1,386.5 1828.0,385.7 1825.9,386.1 1824.0,385.0 1822.5,383.4 1821.3,381.6 1821.8,379.5 1822.0,377.3 1821.1,375.4 1819.6,373.7 1817.8,372.6 1815.6,372.4 1813.5,372.4 1812.1,370.8 1810.9,369.0 1809.7,367.2 1810.7,365.4 1812.0,363.6 1812.5,361.5 1811.7,359.5 1810.3,357.8 1808.5,356.5 1806.5,355.6 1804.4,355.1 1802.2,354.9 1800.3,355.8 1798.3,355.7 1797.3,353.8 1796.8,351.7 1795.7,349.8 1794.0,348.4 1791.9,347.7 1789.8,348.4 1787.9,347.9 1786.6,346.1 1786.2,344.0 1785.7,341.9 1784.4,340.1 1782.7,338.7 1781.3,337.0 1780.2,335.1 1779.3,333.1 1778.5,331.0 1777.9,328.9 1776.8,327.0 1775.1,325.7 1773.0,325.0 1771.1,324.0 1769.0,323.2 1766.9,322.8 1765.5,321.1 1764.5,319.2 1762.8,317.8 1761.0,316.5 1760.1,314.5 1759.2,312.5 1757.6,311.0 1755.6,310.2 1753.6,310.9 1751.9,312.3 1750.4,314.0 1748.5,313.5 1747.3,311.7 1745.8,310.0 1743.9,308.9 1741.8,309.0 1739.8,309.9 1737.9,309.0 1737.1,307.0 1737.8,304.9 1738.0,302.8 1738.7,300.7 1739.2,298.6 1738.7,296.5 1737.5,294.6 1736.0,293.1 1734.3,291.6 1732.6,290.3 1730.6,289.3 1728.5,289.7 1726.7,290.9 1724.7,291.6 1722.8,290.6 1720.6,290.2 1718.6,291.0 1716.7,290.1 1715.8,288.1 1714.7,286.3 1713.1,284.7 1712.5,282.7 1713.9,281.0 1714.9,279.1 1715.3,276.9 1715.8,274.8 1716.1,272.7 1715.3,270.7 1713.8,269.1 1711.9,268.0 1709.9,266.9 1707.8,267.0 1705.9,268.1 1704.0,269.3 1702.0,270.0 1700.0,270.9 1697.9,270.5 1696.2,269.2 1695.1,267.3 1694.2,265.3 1694.8,263.3 1696.0,261.5 1696.9,259.4 1696.8,257.3 1695.7,255.4 1694.0,254.2 1692.1,253.0 1690.4,251.7 1688.4,250.8 1686.3,251.3 1684.1,251.4 1682.2,250.3 1680.2,249.7 1678.1,250.4 1676.0,250.4 1674.6,248.8 1672.9,247.4 1671.1,246.1 1670.1,244.3 1670.4,242.1 1671.1,240.0 1670.8,237.9 1669.9,235.9 1668.5,234.2 1666.5,233.2 1664.6,232.1 1663.4,230.3 1662.3,228.4 1661.2,226.5 1660.0,224.6 1658.7,222.9 1657.7,221.0 1656.2,219.3 1654.8,217.6 1653.7,215.7 1653.0,213.6 1652.0,211.7 1650.3,210.3 1648.5,209.0 1647.5,207.1 1646.5,205.2 1645.1,203.4 1643.6,201.8 1641.7,200.8 1639.8,199.8 1638.5,198.0 1637.4,196.1 1635.7,194.7 1633.9,193.4 1633.1,191.4 1632.1,189.4 1630.5,188.0 1628.5,187.1 1626.4,186.7 1624.8,185.1 1623.7,183.3 1622.3,181.6 1622.5,179.5 1623.4,177.5 1623.2,175.4 1621.9,173.6 1620.2,172.2 1618.6,170.7 1617.1,169.1 1615.3,167.8 1613.2,167.3 1611.2,168.1 1609.6,169.6 1608.2,171.3 1606.3,172.1 1604.6,170.7 1603.6,168.8 1604.4,166.8 1605.7,165.0 1606.6,163.0 1606.2,160.9 1605.3,158.9 1605.0,156.7 1604.1,154.7 1603.6,152.6 1602.7,150.6 1601.3,148.9 1599.8,147.3 1598.9,145.3 1597.8,143.4 1597.5,141.2 1597.0,139.1 1595.8,137.4 1594.3,135.8 1593.1,133.9 1591.7,132.2 1591.0,130.3 1592.6,128.9ZM1841.5,293.8 1843.4,294.4 1844.3,296.2 1843.0,297.8 1841.1,297.2 1840.2,295.4ZM1973.0,459.7 1975.0,460.2 1974.9,462.4 1974.0,464.5 1972.7,466.3 1970.9,467.8 1968.8,468.8 1966.6,469.3 1965.1,467.7 1965.1,465.4 1965.0,463.2 1967.0,462.2 1969.2,462.2 1971.3,461.2Z" fill="#9E9E9E" fill-rule="evenodd"/>
<polyline points="1813.5,290.0 1965.2,435.5 1966.1,462.3 1710.4,301.6 1635.8,191.3 1692.2,177.1 1766.4,337.0 1623.3,173.7 1802.8,366.5 1838.5,388.4 1841.0,283.3 1821.4,381.3 1942.7,407.2 1710.2,188.2 1888.6,422.6 1651.7,229.1 1921.4,399.6 1917.9,395.8 1685.7,183.4 1763.1,249.0 1952.5,438.1 1604.8,149.0 1768.8,319.5 1763.2,310.1 1952.9,420.3 1655.7,218.2 1851.1,292.7 1748.4,232.0 1902.6,443.5 1706.9,266.7 1950.6,444.9 1957.7,454.0 1833.2,392.9 1914.0,367.0 1889.8,367.2 1713.1,196.3 1717.8,269.7 1649.0,207.8 1662.1,227.3 1641.2,155.4 1655.6,112.0 1754.0,225.7 1955.9,474.6 1669.3,232.4 1607.0,135.8 1944.5,419.9 1867.1,406.8 1741.8,301.8 1921.8,436.3 1770.5,322.6 1810.0,284.2 1928.3,452.9 1828.3,390.7 1666.0,168.0 1882.3,365.2 1851.7,314.8 1750.8,236.0 1606.6,172.7 1918.3,390.4 1752.6,309.8 1737.3,290.0 1535.8,113.5 1699.4,270.6 1947.7,414.2 1805.6,355.0 1647.3,156.1 1692.8,192.4 1884.8,363.8 1911.6,432.5 1644.8,221.7 1608.1,127.5 1731.3,287.1 1615.3,133.1 1724.5,212.9 1839.9,294.4 1716.2,271.0 1834.6,309.2 1786.7,351.3 1672.5,158.4 1779.8,326.9 1848.8,318.3 1853.3,388.1 1923.5,396.7 1721.9,210.9 1885.5,418.2 1886.8,367.8 1605.2,155.6 1670.5,242.9 1868.5,404.5 1801.0,276.1 1634.7,190.6 1987.5,461.1 1620.8,193.6 1721.3,288.8 1910.2,387.0 1687.3,193.0 1888.3,370.0 1742.2,221.2 1905.1,430.1 1842.3,382.2 1731.9,215.9 1638.5,200.9 1860.3,330.8 1622.7,173.3 1845.3,290.0 1642.8,200.6 1898.2,334.0 1686.9,188.9 1652.6,155.8 1761.7,316.7 1777.2,325.7 1592.5,140.9 1960.5,455.6 1838.9,395.9 1823.6,384.8 1621.5,118.8 1659.6,141.7 1800.7,267.3 1787.1,345.9 1808.7,279.2 1731.5,217.4 1625.2,130.8 1675.2,172.8 1715.8,265.2 1914.0,386.9 1759.4,249.7 1956.2,471.0 1748.9,312.0 1807.9,355.2 1936.9,413.7 1631.6,153.2 1738.1,310.4 1763.8,250.4 1939.4,456.3 1761.6,308.6 1856.0,328.9 1790.3,244.9 1588.3,118.5 1909.0,436.5 1621.8,181.2 1613.0,117.1 1561.7,101.1 1590.3,130.3 1679.1,125.5 1966.7,448.8 1601.0,115.3 1762.8,310.7 1905.6,366.4 1691.6,247.5 1684.6,189.7 1885.6,416.7 1604.5,146.9 1712.4,267.6 1742.8,305.2 1733.2,290.2 1734.5,215.0 1632.7,189.3 1887.1,369.7 1773.5,228.9 1793.9,232.7 1618.5,169.8 1755.6,307.4 1681.7,274.7 1683.3,168.9 1653.6,215.0 1716.6,292.4 1774.6,350.8 1669.6,156.4 1580.0,111.8 1770.3,250.0 1734.8,288.9 1830.0,301.5 1752.4,240.1 1742.9,306.8 1949.4,440.9 1654.6,159.4 1619.6,203.6 1772.7,324.6 1742.1,204.0 1928.5,404.7 1951.7,437.7 1847.3,389.3 1668.0,157.0 1804.0,274.6 1722.5,319.3 1876.1,345.3 1716.9,275.6 1719.6,204.6 1881.9,361.6 1634.8,186.2 1970.9,433.8 1635.5,153.4 1750.2,314.4 1745.3,215.3 1970.8,465.8 1930.9,404.1 1938.1,430.8 1596.6,129.3 1715.6,276.5 1933.7,467.2 1796.0,349.5 1695.7,193.6 1585.4,161.0 1909.1,381.0 1882.4,364.2 1945.6,416.6 1587.0,181.0 1751.7,233.5 1893.3,370.9 1881.7,429.3 1793.2,268.1 1641.6,195.8 1691.1,250.1 1963.4,449.6 1873.0,337.6 1659.4,223.5 1834.0,380.4 1599.8,147.0 1850.7,388.4 1874.1,342.2 1976.6,458.8 1595.4,127.0 1598.5,152.6 1967.2,449.1 1642.6,155.9 1887.2,419.6 1830.1,304.4 1596.8,137.5 1914.7,388.3 1737.1,320.9 1744.5,224.3 1619.7,171.6 1925.0,441.9 1884.8,348.6 1940.6,412.8 1686.4,188.3 1639.4,145.6 1918.4,451.0 1689.4,191.4 1924.6,399.8 1591.4,115.8 1890.3,344.8 1597.6,136.4 1826.4,293.8 1842.5,399.9 1591.6,129.8 1868.4,408.7 1607.0,135.3 1965.6,463.4 1818.4,401.5 1749.6,231.0 1891.7,424.3 1648.7,205.2 1817.5,291.5 1658.7,160.9 1586.0,131.5 1621.8,172.1 1747.8,307.4 1761.4,248.3 1741.8,294.5 1829.2,382.3 1709.9,262.5 1616.6,196.1 1694.0,264.3 1956.1,408.3 1956.3,381.3 1663.8,233.3 1890.9,367.9 1783.2,338.5 1736.7,293.3 1953.9,443.0 1759.0,245.0 1760.6,315.3 1740.2,292.8 1952.2,449.2 1687.9,182.8 1756.9,246.5 1813.1,280.7 1937.4,431.5 1941.0,424.0 1890.2,370.3 1711.2,193.2 1953.4,442.6 1697.3,255.6 1579.8,153.9 1651.2,157.1 1888.2,366.9 1741.2,300.1 1919.3,434.8 1633.8,193.4 1907.6,380.9 1956.9,448.9 1985.6,475.8 1738.0,305.8 1687.8,176.7 1901.1,431.5 1893.6,442.6 1761.4,246.5 1925.9,396.2 1917.8,454.5 1765.5,324.2 1726.1,190.7 1900.2,441.5 1822.3,376.4 1637.4,153.0 1685.7,185.0 1809.1,283.8 1888.7,369.3 1638.2,144.3 1776.1,343.1 1621.1,168.7 1740.6,307.8 1876.8,341.1 1779.8,333.6 1864.5,334.8 1802.9,275.9 1698.4,270.1 1919.1,436.4 1851.8,306.6 1841.0,303.9 1668.4,171.6 1884.0,422.6 1920.3,436.3 1686.1,181.6 1896.4,358.2 1647.8,209.3 1610.7,167.0 1809.9,282.6 1631.9,152.1 1740.0,294.9 1845.6,403.6 1658.8,250.8 1615.9,165.2 1667.8,167.3 1933.8,388.3 1927.3,405.8 1618.1,140.8 1967.7,467.9 1799.5,366.5 1743.1,313.6 1610.8,127.1 1677.3,159.8 1738.5,290.6 1752.3,223.6 1875.8,343.1 1909.1,436.2 1956.4,451.5 1834.0,281.4 1873.4,409.8 1633.6,153.4 1831.5,384.2 1649.3,155.5 1639.5,156.5 1713.3,191.9 1698.8,193.1 1892.1,354.5 1646.6,152.1 1824.2,294.9 1685.5,185.2 1874.8,409.7 1937.0,402.0 1715.2,286.2 1843.5,395.1 1671.9,156.9 1741.5,299.3 1936.3,459.5 1738.8,301.7 1679.5,173.3 1875.1,340.3 1688.5,246.8 1870.7,339.0 1781.8,337.7 1638.2,153.4 1785.7,263.2 1978.4,449.6 1767.4,233.2 1782.8,241.4 1868.7,326.7 1897.8,362.6 1939.6,435.3 1684.2,182.8 1961.7,460.7 1721.6,199.2 1706.0,267.5 1896.9,355.5 1863.7,405.3 1791.8,345.1 1630.4,153.8 1808.0,277.2 1937.4,463.7 1589.6,150.3 1972.9,460.4 1772.9,241.5 1696.2,190.0 1886.8,355.5 1879.5,415.7 1816.0,358.8 1869.6,335.1 1783.0,259.3 1628.2,186.4 1760.1,312.0 1686.2,175.2 1942.7,456.0 1738.3,212.6 1768.4,317.6 1653.7,207.7 1850.8,320.4 1695.8,268.7 1590.5,100.4 1679.1,175.6 1831.8,309.1 1935.6,428.9 1764.3,318.1 1785.4,360.0 1582.2,109.4 1816.2,288.3 1785.1,264.5 1849.3,309.6 1814.3,286.8 1887.0,369.2 1846.3,390.0 1830.2,281.8 1742.1,296.4 1656.5,212.3 1843.3,380.8 1717.2,282.7 1859.0,326.2 1709.9,262.1 1748.1,343.3 1902.2,444.1 1600.9,118.0 1729.8,214.7 1636.5,153.3 1810.5,357.7 1641.9,154.8 1604.0,138.2 1752.6,234.0 1813.2,361.3 1691.3,193.5 1685.7,189.4 1916.2,394.0 1854.1,387.1 1603.6,169.1 1928.2,405.7 1776.1,239.9 1704.8,264.7 1702.9,265.4 1608.2,194.4 1758.9,311.3 1758.3,310.0 1616.8,143.9 1650.9,156.9 1890.1,423.6 1701.6,180.3 1732.4,200.6 1755.1,241.0 1805.3,351.5 1630.5,152.9 1742.5,305.0 1855.7,403.5 1711.8,283.5 1709.3,263.8 1687.1,273.9 1640.6,194.6 1977.7,467.8 1964.7,468.8 1884.3,365.0 1683.8,250.6 1618.4,126.4 1751.9,233.0 1807.0,385.6 1637.1,138.4 1740.3,295.6 1717.2,279.9 1686.7,190.7 1814.5,357.5 1789.8,342.1 1883.9,363.6 1769.0,318.9 1786.7,338.4 1919.9,386.6 1632.9,151.5 1874.8,312.8 1910.8,439.3 1809.7,274.5 1779.4,242.0 1609.0,118.0 1852.7,390.7 1867.8,337.2 1943.9,398.5 1749.2,229.8 1908.5,384.6 1686.1,189.0 1925.6,445.4 1785.7,233.5 1728.1,217.1 1773.0,324.4 1698.1,255.4 1882.5,418.1 1867.8,413.2 1908.8,380.8 1703.0,275.0 1924.3,447.1 1949.0,471.2 1805.6,353.0 1726.2,215.3 1718.2,276.7 1718.0,193.9 1598.9,107.8 1804.0,350.7 1766.2,315.9 1784.7,266.0 1774.2,320.7 1795.8,272.1 1751.6,239.9 1697.2,260.0 1813.8,370.6 1679.3,173.1 1938.9,431.4 1750.3,314.8 1727.1,287.6 1658.4,156.8 1892.4,369.1 1861.8,327.9 1940.9,436.5 1623.6,179.0 1769.5,246.2 1907.3,432.1 1765.4,318.4 1790.3,266.4 1774.9,323.0 1631.6,136.4 1684.0,186.7 1871.6,341.5 1642.6,220.3 1753.3,235.1 1812.1,284.7 1819.1,369.5 1877.2,411.1 1751.9,307.8 1945.3,458.9 1932.2,449.4 1844.3,295.5 1671.4,238.0 1761.4,310.7 1834.5,381.3 1829.6,295.1 1608.7,153.7 1948.5,454.2 1799.7,367.3 1601.7,140.4 1591.3,119.8 1671.0,164.1 1955.7,400.7 1740.1,298.7 1739.7,299.4 1610.3,166.7 1744.9,319.3 1851.1,318.0 1902.6,355.7 1959.5,428.8 1848.9,400.3 1779.5,325.3 1907.3,369.3 1851.1,321.2 1669.2,230.0 1877.7,304.7 1679.0,171.6 1615.3,165.6 1605.6,159.1 1945.2,433.8 1900.7,426.2 1708.1,262.5 1778.5,330.1 1684.4,180.5 1758.9,249.5 1814.4,358.7 1826.1,287.4 1758.2,241.9 1783.1,263.0 1757.5,248.0 1684.1,250.4 1676.1,157.2 1815.1,242.1 1797.6,353.8 1801.5,354.3 1706.1,178.4 1960.4,452.3 1772.7,321.4 1938.0,373.4 1585.4,184.4 1581.8,115.7 1698.5,254.8 1854.8,395.5 1729.8,195.8 1731.5,217.2 1708.2,264.4 1908.4,429.6 1919.1,435.2 1637.2,151.1 1885.0,424.6 1661.6,160.4 1717.8,202.7 1734.9,291.3 1885.4,359.7 1724.0,213.7 1593.6,133.1 1840.4,382.8 1834.5,306.3 1886.1,420.4 1883.6,365.7 1836.6,308.6 1874.9,338.8 1885.5,416.9 1852.5,389.0 1984.6,472.0 1885.6,368.9 1915.3,388.7 1593.1,132.9 1721.4,212.8 1850.1,386.3 1867.1,325.9 1857.4,403.9 1725.5,291.7 1800.7,265.5 1792.4,254.0 1949.1,437.8 1918.5,391.6 1608.7,170.0 1655.4,216.1 1773.7,246.3 1929.3,383.1 1907.8,440.0 1812.9,358.9 1797.2,359.0 1900.8,371.3 1860.9,329.7 1755.2,306.7 1876.4,471.9 1927.9,401.1 1715.0,177.7 1747.1,317.1 1970.7,473.4 1707.4,262.8 1903.8,456.5 1716.8,289.6 1870.2,406.7 1934.9,429.5 1676.2,251.1 1605.3,166.5 1728.3,217.1 1765.8,232.2 1731.3,288.8 1623.5,141.3 1713.3,282.4 1646.5,204.6 1970.1,451.0 1863.7,329.1 1685.7,189.8 1620.8,135.6 1881.0,344.6 1732.9,304.1 1690.4,193.6 1668.0,158.3 1648.7,151.6 1756.5,240.2 1853.9,389.7 1761.7,249.9 1948.6,479.8 1786.9,268.4 1628.9,153.4 1789.0,256.1 1739.5,199.8 1808.1,352.2 1665.2,232.7 1922.2,440.3 1717.1,269.3 1744.1,218.6 1755.8,219.2 1617.1,168.6 1976.1,459.0 1676.2,247.6 1739.0,292.7 1892.1,424.5 1708.1,179.7 1825.4,298.8 1915.6,380.0 1855.5,320.3 1682.7,163.1 1667.1,248.4 1950.3,437.7 1853.9,325.3 1866.0,406.9 1853.4,312.2 1666.9,165.6 1719.3,269.2 1956.6,474.9 1957.8,449.6 1896.4,344.2 1928.0,442.4 1840.4,296.0 1951.5,439.7 1781.8,260.8 1627.5,147.7 1675.3,240.7 1651.3,153.1 1932.4,453.0 1912.4,435.6 1786.1,338.4 1730.8,199.6 1807.6,249.1 1806.4,367.5 1741.5,296.6 1897.5,426.5 1911.3,439.4 1695.5,193.2 1932.9,408.0 1852.2,388.9 1910.5,387.9 1900.4,361.0 1903.7,374.0 1850.0,387.8 1657.8,214.4 1683.7,263.3 1669.8,246.3 1755.0,225.4 1951.7,462.2 1598.4,134.2 1662.1,225.3 1625.9,186.7 1821.2,405.4 1811.5,375.4 1785.4,266.4 1868.6,415.3 1679.3,246.9 1688.0,255.9 1991.3,480.2 1633.2,186.5 1943.0,471.7 1670.8,172.6 1699.5,255.5 1608.5,156.9 1821.9,371.4 1669.8,168.4 1785.4,251.1 2007.0,495.8 1812.5,271.9 1701.5,188.1 1697.2,189.3 1672.0,236.6 1709.7,184.1 1728.8,207.9 1882.4,355.3 1761.0,337.4 1864.4,331.2 1758.6,241.6 1904.5,376.0 1664.7,226.5 1867.1,336.3 1815.0,291.0 1817.5,371.9 1633.2,152.5 1942.9,421.3 1685.4,248.1 1793.6,346.7 1691.3,190.3 1928.9,463.8 1653.6,211.7 1888.6,369.0 1688.4,189.8 1981.3,433.2 1908.0,432.4 1596.4,119.1 1673.6,172.0 1786.4,344.7 1784.7,259.6 1876.0,345.6 1807.6,382.1 1749.8,231.2 1939.0,430.9 1882.3,418.6 1951.5,454.3 1895.5,367.8 1955.7,437.4 1913.2,434.7 1900.2,424.7 1937.8,457.4 1875.5,413.7 1666.9,168.3 1689.5,190.2 1844.5,300.9 1942.5,436.2 1649.0,204.9" fill="none" stroke="none" marker-start="url(#rg)" marker-mid="url(#rg)" marker-end="url(#rg)"/>
<path d="M1657.0,176.9 1660.9,176.1 1664.9,176.3 1668.9,177.0 1672.7,178.1 1676.5,179.5 1680.2,181.1 1683.8,182.9 1687.3,184.8 1690.8,186.8 1694.3,188.8 1697.8,190.6 1701.5,192.3 1705.2,193.8 1708.9,195.3 1712.6,196.9 1716.3,198.5 1719.9,200.3 1723.4,202.2 1726.9,204.2 1730.3,206.2 1733.7,208.4 1737.0,210.7 1740.1,213.2 1743.2,215.7 1746.2,218.4 1749.2,221.1 1752.2,223.8 1755.2,226.4 1758.3,229.0 1761.3,231.6 1764.4,234.1 1767.5,236.7 1770.7,239.2 1774.0,241.5 1777.3,243.7 1780.7,245.9 1784.0,248.1 1787.3,250.4 1790.4,253.0 1793.4,255.6 1796.3,258.4 1799.1,261.2 1802.0,264.1 1804.8,266.9 1807.8,269.6 1810.8,272.3 1813.8,275.0 1816.7,277.7 1819.6,280.4 1822.5,283.2 1825.5,285.9 1828.4,288.6 1831.4,291.3 1834.3,294.1 1837.2,296.8 1840.0,299.7 1842.7,302.7 1845.4,305.7 1847.9,308.8 1850.5,311.9 1853.0,315.0 1855.7,318.0 1858.4,320.9 1861.2,323.8 1864.1,326.6 1866.9,329.5 1869.6,332.4 1872.3,335.4 1874.9,338.4 1877.5,341.5 1880.0,344.7 1882.4,347.8 1884.8,351.1 1887.1,354.4 1889.3,357.7 1891.5,361.1 1893.6,364.5 1895.8,367.8 1898.1,371.1 1900.3,374.5 1902.6,377.8 1904.7,381.2 1906.6,384.7 1908.3,388.3 1910.0,392.0 1911.6,395.7 1913.1,399.4 1914.4,403.2 1915.0,407.1 1914.2,411.0 1911.5,413.9 1907.7,415.2 1903.7,415.3 1899.7,414.6 1895.9,413.5 1892.1,412.2 1888.3,410.9 1884.5,409.7 1880.7,408.5 1876.8,407.2 1873.1,405.8 1869.5,404.1 1865.9,402.2 1862.4,400.4 1858.8,398.5 1855.2,396.7 1851.6,394.9 1848.1,393.0 1844.6,391.0 1841.2,388.9 1837.9,386.6 1834.7,384.2 1831.5,381.8 1828.2,379.5 1824.9,377.3 1821.5,375.1 1818.1,373.0 1814.6,370.9 1811.3,368.7 1808.0,366.5 1804.8,364.1 1801.6,361.5 1798.6,359.0 1795.4,356.4 1792.3,354.0 1789.1,351.5 1785.9,349.1 1782.7,346.7 1779.6,344.1 1776.6,341.5 1773.6,338.8 1770.7,336.0 1767.8,333.3 1764.9,330.5 1761.9,327.9 1758.8,325.3 1755.6,322.9 1752.4,320.4 1749.3,317.9 1746.2,315.4 1743.2,312.7 1740.3,309.9 1737.4,307.1 1734.7,304.2 1732.0,301.2 1729.2,298.3 1726.4,295.4 1723.6,292.6 1720.7,289.8 1717.9,287.0 1715.0,284.1 1712.2,281.3 1709.4,278.4 1706.6,275.5 1703.8,272.7 1700.9,269.9 1698.0,267.1 1695.2,264.3 1692.4,261.4 1689.7,258.4 1687.0,255.4 1684.4,252.4 1681.8,249.3 1679.4,246.1 1677.2,242.8 1675.1,239.3 1673.1,235.8 1671.2,232.3 1669.2,228.8 1667.2,225.4 1665.1,222.0 1663.1,218.5 1661.1,215.0 1659.3,211.4 1657.4,207.9 1655.5,204.3 1653.6,200.8 1651.9,197.2 1650.4,193.5 1649.6,189.5 1649.6,185.5 1650.9,181.7 1653.5,178.7ZM1678.0,200.7 1681.9,200.1 1685.9,200.6 1689.9,201.3 1693.8,201.9 1697.8,202.6 1701.7,203.3 1705.6,204.2 1709.5,205.3 1713.2,206.6 1716.9,208.2 1720.5,210.0 1724.0,211.9 1727.5,213.9 1730.9,216.0 1734.2,218.3 1737.4,220.7 1740.5,223.2 1743.5,225.8 1746.6,228.4 1749.7,230.9 1752.8,233.5 1755.9,236.0 1759.0,238.5 1762.1,241.0 1765.3,243.5 1768.5,245.8 1771.8,248.1 1775.2,250.2 1778.5,252.4 1781.8,254.7 1785.0,257.1 1788.1,259.7 1791.0,262.4 1793.9,265.2 1796.8,267.9 1799.7,270.7 1802.7,273.4 1805.7,276.1 1808.7,278.7 1811.6,281.4 1814.5,284.1 1817.4,287.0 1820.2,289.8 1823.0,292.7 1825.8,295.5 1828.7,298.3 1831.5,301.1 1834.4,303.9 1837.1,306.9 1839.8,309.8 1842.4,312.9 1844.9,316.0 1847.4,319.1 1850.0,322.1 1852.6,325.2 1855.2,328.2 1857.9,331.2 1860.5,334.3 1863.0,337.4 1865.5,340.5 1868.0,343.7 1870.5,346.8 1872.9,349.9 1875.3,353.1 1877.6,356.4 1879.8,359.8 1881.7,363.3 1883.5,366.9 1885.1,370.5 1886.7,374.2 1888.1,378.0 1889.2,381.8 1889.6,385.8 1888.6,389.6 1885.6,392.1 1881.7,393.0 1877.7,392.8 1873.8,392.0 1869.9,390.9 1866.1,389.6 1862.4,388.2 1858.6,386.8 1854.9,385.4 1851.2,383.8 1847.6,382.1 1844.1,380.3 1840.6,378.2 1837.3,376.0 1833.9,373.9 1830.5,371.7 1827.0,369.7 1823.5,367.8 1820.1,365.8 1816.6,363.7 1813.3,361.5 1810.1,359.2 1806.9,356.7 1803.8,354.1 1800.8,351.6 1797.6,349.1 1794.4,346.7 1791.2,344.3 1787.9,342.0 1784.7,339.6 1781.6,337.1 1778.5,334.5 1775.6,331.8 1772.6,329.1 1769.7,326.4 1766.8,323.7 1763.8,321.0 1760.7,318.4 1757.6,315.9 1754.5,313.4 1751.4,310.8 1748.4,308.2 1745.4,305.5 1742.5,302.7 1739.7,299.9 1737.0,297.0 1734.2,294.1 1731.5,291.2 1728.7,288.3 1725.9,285.4 1723.1,282.5 1720.3,279.7 1717.6,276.8 1714.8,273.9 1712.1,270.9 1709.3,268.0 1706.6,265.1 1703.8,262.2 1701.1,259.3 1698.4,256.3 1695.8,253.3 1693.3,250.2 1690.8,247.0 1688.4,243.8 1686.2,240.4 1684.2,237.0 1682.4,233.4 1680.7,229.8 1679.0,226.2 1677.5,222.5 1676.1,218.7 1674.8,214.9 1674.0,211.0 1673.9,207.0 1675.0,203.2ZM1699.0,212.0 1703.0,212.0 1707.0,212.6 1710.9,213.6 1714.7,215.0 1718.4,216.6 1722.0,218.3 1725.6,220.2 1729.1,222.2 1732.5,224.3 1735.8,226.6 1739.0,229.0 1742.2,231.5 1745.3,234.0 1748.5,236.5 1751.6,239.0 1754.8,241.5 1758.0,244.0 1761.2,246.4 1764.4,248.8 1767.8,251.0 1771.2,253.2 1774.6,255.3 1778.0,257.5 1781.2,259.9 1784.3,262.4 1787.3,265.1 1790.3,267.9 1793.2,270.7 1796.1,273.4 1799.1,276.1 1802.1,278.8 1805.2,281.4 1808.2,284.1 1811.1,286.9 1813.9,289.8 1816.6,292.8 1819.3,295.7 1822.1,298.7 1824.8,301.6 1827.6,304.5 1830.4,307.4 1833.2,310.3 1835.9,313.3 1838.5,316.3 1841.1,319.4 1843.7,322.6 1846.2,325.7 1848.7,328.8 1851.2,332.0 1853.6,335.2 1856.0,338.4 1858.4,341.7 1860.7,345.0 1863.0,348.3 1865.3,351.6 1867.5,355.0 1869.6,358.4 1871.5,361.9 1872.9,365.7 1873.7,369.7 1873.2,373.6 1870.8,376.7 1867.0,378.0 1863.0,378.1 1859.0,377.7 1855.0,376.9 1851.2,375.7 1847.4,374.2 1843.8,372.5 1840.3,370.5 1836.8,368.5 1833.3,366.6 1829.7,364.8 1826.1,362.9 1822.5,361.1 1819.1,359.0 1815.7,356.8 1812.4,354.5 1809.3,352.0 1806.2,349.4 1803.0,346.9 1799.9,344.4 1796.6,342.0 1793.3,339.7 1790.0,337.4 1786.8,335.0 1783.6,332.6 1780.4,330.1 1777.4,327.4 1774.4,324.7 1771.4,322.0 1768.5,319.3 1765.5,316.6 1762.5,313.9 1759.4,311.3 1756.3,308.7 1753.3,306.0 1750.3,303.4 1747.3,300.7 1744.4,297.9 1741.5,295.1 1738.7,292.1 1736.0,289.2 1733.3,286.2 1730.5,283.3 1727.8,280.4 1725.0,277.5 1722.2,274.5 1719.5,271.6 1716.8,268.6 1714.2,265.5 1711.5,262.5 1708.9,259.4 1706.3,256.3 1703.8,253.2 1701.3,250.1 1698.8,246.9 1696.5,243.6 1694.3,240.2 1692.3,236.7 1690.6,233.1 1689.2,229.3 1688.3,225.4 1688.0,221.4 1688.9,217.5 1691.4,214.4 1695.0,212.7ZM1705.0,221.8 1709.0,221.7 1712.9,222.4 1716.8,223.4 1720.6,224.8 1724.3,226.3 1727.9,228.0 1731.4,230.0 1734.8,232.1 1738.1,234.3 1741.4,236.7 1744.6,239.1 1747.7,241.5 1750.9,244.0 1754.1,246.4 1757.3,248.8 1760.6,251.1 1764.0,253.3 1767.4,255.4 1770.8,257.4 1774.2,259.6 1777.5,261.8 1780.7,264.3 1783.7,266.9 1786.6,269.6 1789.5,272.4 1792.5,275.1 1795.4,277.8 1798.5,280.4 1801.5,283.0 1804.5,285.7 1807.4,288.5 1810.2,291.4 1812.8,294.3 1815.4,297.4 1818.0,300.4 1820.6,303.5 1823.3,306.5 1826.0,309.4 1828.8,312.3 1831.5,315.3 1834.2,318.2 1836.8,321.3 1839.3,324.4 1841.7,327.6 1844.1,330.8 1846.4,334.1 1848.7,337.4 1850.9,340.8 1852.9,344.2 1854.9,347.7 1856.7,351.2 1858.3,354.9 1859.6,358.7 1859.8,362.7 1857.9,366.0 1854.1,367.2 1850.1,367.0 1846.2,365.9 1842.5,364.5 1838.8,362.9 1835.1,361.3 1831.4,359.7 1827.8,358.1 1824.2,356.4 1820.7,354.5 1817.3,352.3 1814.1,349.9 1810.9,347.5 1807.8,345.0 1804.6,342.5 1801.4,340.1 1798.1,337.8 1794.8,335.6 1791.5,333.3 1788.2,331.0 1785.0,328.6 1781.8,326.2 1778.7,323.6 1775.7,321.0 1772.8,318.3 1769.9,315.5 1766.9,312.8 1763.9,310.1 1760.9,307.5 1757.9,304.8 1754.9,302.2 1751.9,299.6 1748.9,296.9 1746.0,294.1 1743.2,291.3 1740.5,288.3 1737.8,285.3 1735.2,282.3 1732.5,279.4 1729.8,276.4 1727.1,273.5 1724.4,270.5 1721.7,267.5 1719.1,264.4 1716.6,261.3 1714.2,258.2 1711.8,254.9 1709.4,251.7 1707.2,248.4 1705.0,245.1 1702.9,241.6 1701.0,238.1 1699.5,234.4 1698.7,230.5 1699.0,226.5 1701.3,223.3ZM1717.0,232.0 1721.0,232.3 1724.9,233.3 1728.6,234.7 1732.2,236.4 1735.7,238.4 1739.1,240.5 1742.3,242.8 1745.5,245.2 1748.8,247.6 1752.0,249.9 1755.3,252.2 1758.7,254.3 1762.1,256.4 1765.6,258.4 1769.0,260.4 1772.5,262.5 1775.8,264.7 1778.9,267.2 1781.9,269.8 1784.8,272.6 1787.7,275.4 1790.7,278.1 1793.7,280.7 1796.7,283.3 1799.7,285.9 1802.7,288.6 1805.5,291.4 1808.2,294.4 1810.8,297.5 1813.3,300.6 1815.7,303.8 1818.2,306.9 1820.7,310.0 1823.4,313.0 1826.1,316.0 1828.8,318.9 1831.4,321.9 1833.9,325.0 1836.3,328.3 1838.5,331.6 1840.6,335.0 1842.6,338.5 1844.3,342.1 1845.8,345.8 1846.7,349.7 1846.0,353.5 1842.5,355.3 1838.6,355.1 1834.6,354.3 1830.8,353.3 1827.0,351.9 1823.4,350.3 1819.9,348.3 1816.6,346.1 1813.3,343.7 1810.2,341.3 1806.9,338.9 1803.7,336.6 1800.4,334.4 1797.0,332.2 1793.6,330.0 1790.3,327.8 1787.0,325.5 1783.8,323.2 1780.6,320.7 1777.6,318.1 1774.6,315.4 1771.7,312.7 1768.8,310.0 1765.8,307.3 1762.9,304.6 1759.9,301.9 1756.9,299.3 1753.9,296.6 1750.9,293.9 1748.0,291.2 1745.2,288.3 1742.6,285.3 1740.0,282.3 1737.4,279.2 1734.9,276.1 1732.2,273.1 1729.6,270.1 1727.0,267.1 1724.4,264.0 1721.9,260.8 1719.6,257.6 1717.4,254.3 1715.4,250.8 1713.5,247.3 1711.9,243.6 1710.7,239.8 1710.7,235.8 1713.1,232.8ZM1725.0,242.0 1729.0,242.0 1732.8,243.3 1736.5,245.0 1739.9,247.2 1743.2,249.4 1746.6,251.7 1750.0,253.8 1753.5,255.9 1757.0,257.8 1760.5,259.7 1764.1,261.6 1767.7,263.5 1771.1,265.6 1774.4,267.9 1777.6,270.4 1780.6,273.1 1783.5,275.9 1786.4,278.7 1789.4,281.4 1792.5,284.0 1795.5,286.6 1798.6,289.2 1801.5,292.0 1804.2,295.0 1806.8,298.1 1809.2,301.3 1811.5,304.6 1813.8,308.0 1816.1,311.3 1818.5,314.5 1821.0,317.6 1823.7,320.7 1826.3,323.8 1828.7,327.0 1831.0,330.3 1832.8,333.9 1834.0,337.8 1834.0,341.7 1831.1,344.4 1827.1,344.5 1823.3,343.3 1819.6,341.6 1816.2,339.5 1812.9,337.2 1809.5,334.9 1806.2,332.7 1802.7,330.6 1799.2,328.6 1795.8,326.5 1792.3,324.5 1788.9,322.3 1785.5,320.1 1782.3,317.7 1779.2,315.2 1776.1,312.5 1773.2,309.7 1770.2,307.0 1767.3,304.2 1764.4,301.5 1761.4,298.8 1758.4,296.1 1755.3,293.4 1752.4,290.7 1749.5,287.9 1746.8,284.9 1744.2,281.8 1741.8,278.5 1739.4,275.3 1737.0,272.1 1734.5,268.9 1732.0,265.7 1729.5,262.6 1727.1,259.3 1724.9,255.9 1723.1,252.3 1721.9,248.5 1722.1,244.5ZM1738.0,257.6 1741.9,257.4 1745.8,258.5 1749.6,259.8 1753.4,261.2 1757.1,262.6 1760.9,264.2 1764.5,265.9 1768.1,267.8 1771.5,269.9 1774.6,272.4 1777.6,275.1 1780.5,277.9 1783.5,280.7 1786.4,283.4 1789.5,286.0 1792.6,288.6 1795.6,291.3 1798.5,294.1 1801.3,297.0 1803.7,300.2 1806.0,303.6 1808.0,307.1 1809.8,310.7 1811.5,314.3 1813.2,318.0 1814.9,321.6 1816.4,325.4 1814.7,328.1 1810.7,327.2 1806.9,325.9 1803.1,324.5 1799.4,322.9 1795.7,321.3 1792.1,319.5 1788.6,317.5 1785.2,315.4 1782.0,313.0 1778.9,310.4 1775.9,307.7 1772.9,304.9 1770.0,302.2 1767.1,299.4 1764.1,296.7 1761.1,294.0 1758.1,291.3 1755.1,288.5 1752.3,285.7 1749.7,282.6 1747.3,279.3 1745.2,275.9 1743.2,272.4 1741.4,268.8 1739.6,265.2 1738.1,261.5ZM1753.0,268.6 1757.0,268.4 1761.0,269.3 1764.8,270.7 1768.3,272.7 1771.6,275.1 1774.6,277.8 1777.5,280.6 1780.4,283.5 1783.4,286.2 1786.5,288.8 1789.7,291.4 1792.7,294.1 1795.5,297.0 1798.1,300.2 1800.3,303.6 1801.8,307.4 1802.4,311.4 1800.3,314.6 1796.3,314.9 1792.4,313.9 1788.7,312.2 1785.2,310.1 1782.0,307.7 1778.9,305.1 1775.8,302.3 1772.9,299.5 1769.9,296.8 1767.0,294.0 1764.0,291.2 1761.0,288.5 1758.0,285.7 1755.3,282.7 1753.0,279.3 1751.3,275.7 1750.7,271.7Z" fill="none" stroke="#31679A" stroke-width="2.6" stroke-linejoin="round"/>
</g>
<path d="M1513.0,292.3H2046.6M1779.8,35.3V549.3" fill="none" stroke="#000" stroke-width="2.8" stroke-dasharray="12.6 8"/>
<rect x="1513.0" y="35.3" width="533.6" height="514.0" fill="none" stroke="#000" stroke-width="2.8"/>
<path d="M1495,67.5H1513.0" stroke="#000" stroke-width="2.8"/>
<text x="1480.5" y="87.5" text-anchor="end" class="ax">6</text>
<path d="M1495,179.9H1513.0" stroke="#000" stroke-width="2.8"/>
<text x="1480.5" y="199.9" text-anchor="end" class="ax">3</text>
<path d="M1495,292.3H1513.0" stroke="#000" stroke-width="2.8"/>
<text x="1480.5" y="312.3" text-anchor="end" class="ax">0</text>
<path d="M1495,404.7H1513.0" stroke="#000" stroke-width="2.8"/>
<text x="1480.5" y="424.7" text-anchor="end" class="ax">-3</text>
<path d="M1495,517.1H1513.0" stroke="#000" stroke-width="2.8"/>
<text x="1480.5" y="537.1" text-anchor="end" class="ax">-6</text>
<path d="M1623.3,549.3V566.8" stroke="#000" stroke-width="2.8"/>
<text x="1623.3" y="608.8" text-anchor="middle" class="ax">-1.5</text>
<path d="M1779.8,549.3V566.8" stroke="#000" stroke-width="2.8"/>
<text x="1779.8" y="608.8" text-anchor="middle" class="ax">0</text>
<path d="M1936.3,549.3V566.8" stroke="#000" stroke-width="2.8"/>
<text x="1936.3" y="608.8" text-anchor="middle" class="ax">1.5</text>
<text x="1779.8" y="67.5" text-anchor="middle" class="ttl">Reshuffled years</text>
<text x="1536" y="110.0" class="let">b</text>
<text x="1779.8" y="663.8" text-anchor="middle" class="rt">Temperature coef. (×10<tspan dy="-23" font-size="31.5">−2</tspan><tspan dy="23">)</tspan></text>
<text transform="translate(1397,292.3) rotate(-90)" text-anchor="middle" class="rt">Temperature<tspan dy="-23" font-size="31.5">2</tspan><tspan dy="23"> coef. (×10</tspan><tspan dy="-23" font-size="31.5">−4</tspan><tspan dy="23">)</tspan></text>
<g stroke="#B8860B" fill="none" stroke-linecap="round"><circle cx="1644.3" cy="241.8" r="15.2" stroke-width="4"/><path d="M1637.1,234.6l14.4,14.4m0,-14.4l-14.4,14.4" stroke-width="3.6"/></g>
</g>
<g id="pc">
<g clip-path="url(#clipc)">
<polygon points="2046.6,785.0 2046.6,785.0 2046.1,788.0 2045.6,791.0 2045.1,793.9 2044.6,796.9 2044.0,799.9 2043.4,802.9 2042.8,805.8 2042.1,808.8 2041.4,811.8 2040.8,814.8 2040.1,817.7 2039.6,820.7 2039.0,823.7 2038.5,826.7 2038.0,829.6 2037.5,832.6 2036.9,835.6 2036.2,838.6 2035.5,841.5 2034.6,844.5 2033.5,847.5 2032.2,850.5 2030.7,853.5 2029.2,856.4 2027.5,859.4 2025.8,862.4 2024.0,865.4 2022.1,868.3 2020.1,871.3 2018.0,874.3 2015.8,877.3 2013.4,880.2 2010.9,883.2 2008.3,886.2 2005.7,889.2 2002.9,892.1 2000.0,895.1 1996.9,898.1 1993.5,901.1 1990.0,904.0 1986.4,907.0 1982.9,910.0 1979.6,913.0 1976.6,916.0 1973.8,918.9 1971.3,921.9 1969.0,924.9 1966.7,927.9 1964.4,930.8 1961.8,933.8 1959.2,936.8 1956.8,939.8 1954.8,942.7 1953.1,945.7 1951.6,948.7 1950.4,951.7 1949.4,954.6 1948.8,957.6 1948.2,960.6 1947.7,963.6 1947.4,966.5 1947.2,969.5 1947.4,972.5 1947.9,975.5 1948.6,978.5 1949.4,981.4 1950.4,984.4 1951.6,987.4 1953.1,990.4 1954.7,993.3 1956.7,996.3 1959.1,999.3 1961.8,1002.3 1964.3,1005.2 1966.7,1008.2 1969.1,1011.2 1971.5,1014.2 1973.9,1017.1 1976.3,1020.1 1978.6,1023.1 1980.9,1026.1 1983.3,1029.0 1985.9,1032.0 1988.8,1035.0 1991.8,1038.0 1994.8,1041.0 1997.8,1043.9 2000.8,1046.9 2003.9,1049.9 2006.8,1052.9 2009.8,1055.8 2012.6,1058.8 2015.4,1061.8 2018.1,1064.8 2020.6,1067.7 2023.0,1070.7 2025.1,1073.7 2027.2,1076.7 2029.2,1079.6 2031.1,1082.6 2033.1,1085.6 2035.0,1088.6 2036.7,1091.5 2038.0,1094.5 2039.0,1097.5 2040.0,1100.5 2040.9,1103.5 2041.7,1106.4 2042.4,1109.4 2043.1,1112.4 2043.6,1115.4 2044.0,1118.3 2044.3,1121.3 2044.6,1124.3 2044.9,1127.3 2045.1,1130.2 2045.3,1133.2 2045.5,1136.2 2045.6,1139.2 2045.8,1142.1 2045.9,1145.1 2046.1,1148.1 2046.2,1151.1 2046.4,1154.0 2046.5,1157.0 2046.6,1160.0 2046.6,1160.0" fill="#CCCCCC"/>
<polygon points="1596.0,1227.4 1596.0,1227.4 1599.0,1227.3 1602.0,1227.1 1604.9,1226.9 1607.9,1226.7 1610.9,1226.4 1613.9,1226.1 1616.8,1225.8 1619.8,1225.5 1622.8,1225.2 1625.8,1224.8 1628.7,1224.4 1631.7,1223.9 1634.7,1223.4 1637.7,1222.9 1640.6,1222.3 1643.6,1221.6 1646.6,1220.9 1649.6,1220.1 1652.5,1219.2 1655.5,1218.3 1658.5,1217.3 1661.5,1216.2 1664.4,1215.1 1667.4,1213.9 1670.4,1212.5 1673.4,1211.0 1676.3,1209.3 1679.3,1207.5 1682.3,1205.6 1685.3,1203.5 1688.2,1201.3 1691.2,1199.0 1694.2,1196.4 1697.2,1193.3 1700.2,1190.1 1703.1,1186.8 1706.1,1183.4 1709.1,1179.7 1712.1,1176.0 1715.0,1172.5 1718.0,1169.3 1721.0,1166.2 1724.0,1163.2 1726.9,1160.4 1729.9,1157.8 1732.9,1155.3 1735.9,1152.9 1738.8,1150.7 1741.8,1148.7 1744.8,1146.8 1747.8,1145.0 1750.7,1143.3 1753.7,1141.5 1756.7,1139.6 1759.7,1137.5 1762.6,1135.7 1765.6,1134.4 1768.6,1133.5 1771.6,1132.7 1774.5,1132.1 1777.5,1131.8 1780.5,1131.7 1783.5,1131.9 1786.5,1132.3 1789.4,1132.7 1792.4,1133.3 1795.4,1134.2 1798.4,1135.5 1801.3,1136.9 1804.3,1138.3 1807.3,1139.6 1810.3,1140.9 1813.2,1142.4 1816.2,1144.2 1819.2,1146.6 1822.2,1149.7 1825.1,1153.0 1828.1,1156.2 1831.1,1159.2 1834.1,1162.1 1837.0,1165.0 1840.0,1168.0 1843.0,1171.3 1846.0,1174.9 1848.9,1178.6 1851.9,1182.2 1854.9,1185.6 1857.9,1188.7 1860.8,1191.8 1863.8,1194.7 1866.8,1197.4 1869.8,1200.0 1872.8,1202.5 1875.7,1204.8 1878.7,1207.0 1881.7,1209.0 1884.7,1210.9 1887.6,1212.7 1890.6,1214.3 1893.6,1215.6 1896.6,1216.8 1899.5,1217.9 1902.5,1219.0 1905.5,1220.0 1908.5,1220.9 1911.4,1221.7 1914.4,1222.4 1917.4,1223.0 1920.4,1223.5 1923.3,1224.0 1926.3,1224.5 1929.3,1224.9 1932.3,1225.2 1935.2,1225.6 1938.2,1225.9 1941.2,1226.1 1944.2,1226.4 1947.1,1226.6 1950.1,1226.8 1953.1,1226.9 1956.1,1227.1 1959.0,1227.2 1962.0,1227.3 1965.0,1227.4 1965.0,1227.4" fill="#CCCCCC"/>
<path d="M1598.0,809.4 1599.9,810.1 1601.7,811.4 1603.6,812.5 1605.6,813.4 1607.7,812.9 1609.5,811.7 1611.4,810.9 1613.5,811.5 1615.6,811.0 1617.5,809.8 1619.4,810.2 1619.5,812.3 1619.9,814.4 1621.1,816.2 1623.0,817.3 1624.7,818.8 1626.5,820.0 1628.6,820.5 1630.8,820.5 1632.9,820.1 1634.7,818.9 1636.6,818.0 1638.8,818.0 1640.9,817.1 1642.9,817.6 1643.0,819.6 1641.7,821.3 1640.9,823.4 1641.7,825.4 1643.0,827.1 1644.9,828.2 1647.1,828.7 1648.7,830.1 1649.7,832.0 1651.2,833.6 1653.2,834.5 1655.4,834.1 1657.3,833.0 1659.2,833.4 1661.1,834.6 1663.2,835.1 1665.3,835.2 1666.8,836.8 1667.9,838.7 1668.0,840.8 1668.9,842.8 1670.4,844.4 1672.3,845.5 1673.5,847.3 1672.9,849.4 1672.3,851.5 1673.0,853.5 1674.3,855.3 1676.2,856.3 1678.3,856.1 1680.2,854.9 1682.0,853.7 1684.0,854.2 1684.4,856.3 1685.1,858.4 1686.5,860.1 1688.0,861.7 1689.4,863.4 1691.2,864.6 1693.3,864.8 1695.3,863.8 1697.3,864.0 1698.2,866.0 1698.7,868.1 1699.9,869.9 1701.7,871.1 1703.9,871.3 1706.0,871.0 1708.2,871.0 1710.3,870.4 1712.2,871.3 1714.0,872.5 1716.1,872.9 1718.2,872.2 1720.0,873.3 1721.1,875.1 1722.9,876.5 1724.8,877.5 1725.5,879.4 1723.6,880.2 1721.5,880.8 1719.7,882.1 1718.6,884.0 1718.7,886.1 1719.3,888.2 1720.1,890.3 1721.2,892.2 1722.8,893.6 1724.8,894.5 1726.9,895.1 1729.1,895.5 1731.1,894.7 1733.2,894.7 1735.3,895.5 1737.4,895.1 1739.3,894.1 1741.3,894.8 1743.2,895.9 1745.2,896.9 1746.7,898.5 1747.7,900.4 1748.8,902.3 1750.4,903.7 1752.5,904.5 1754.5,903.7 1756.5,902.7 1758.0,904.2 1757.5,906.2 1756.9,908.3 1757.6,910.4 1759.0,912.1 1760.9,913.2 1763.0,913.2 1765.0,912.2 1766.9,912.7 1767.7,914.6 1766.3,916.3 1764.6,917.7 1763.1,919.2 1762.1,921.2 1762.3,923.3 1763.5,925.1 1765.2,926.6 1767.2,927.4 1769.3,927.0 1771.2,927.9 1772.5,929.7 1773.8,931.4 1775.6,932.7 1777.4,933.9 1779.4,934.9 1781.5,935.7 1783.5,936.4 1785.3,937.8 1787.2,938.8 1789.4,939.0 1790.6,940.6 1789.2,942.2 1787.4,943.4 1786.2,945.3 1785.8,947.4 1786.7,949.4 1788.1,951.0 1790.1,952.0 1792.0,953.1 1793.2,955.0 1794.3,956.9 1796.1,958.1 1798.2,958.3 1800.2,957.4 1802.3,956.7 1804.5,956.6 1806.6,956.1 1808.7,955.4 1810.7,954.5 1812.7,954.9 1813.3,956.9 1812.2,958.8 1811.3,960.8 1810.4,962.8 1810.0,964.9 1810.9,966.9 1812.6,968.4 1814.4,969.5 1816.6,970.1 1818.2,971.3 1818.4,973.5 1819.2,975.5 1820.6,977.2 1822.5,978.3 1824.4,979.4 1826.3,980.4 1828.5,980.5 1830.5,981.1 1832.4,982.2 1834.5,982.9 1835.6,984.7 1834.3,986.4 1833.2,988.3 1833.2,990.4 1834.3,992.3 1835.8,993.9 1837.4,995.4 1839.4,996.4 1841.5,996.0 1843.3,994.8 1845.1,993.6 1847.0,994.5 1848.9,995.6 1850.7,996.9 1852.8,997.4 1854.9,996.9 1856.6,998.1 1855.7,999.9 1854.3,1001.6 1853.5,1003.7 1854.0,1005.7 1855.0,1007.7 1856.3,1009.5 1858.1,1010.8 1860.1,1011.5 1862.2,1010.7 1863.9,1009.3 1865.4,1007.7 1867.2,1006.4 1869.2,1005.8 1870.4,1007.4 1870.5,1009.6 1871.6,1011.6 1873.3,1012.9 1875.0,1014.2 1875.1,1016.3 1873.7,1018.0 1872.7,1019.9 1872.7,1022.0 1873.8,1023.9 1875.5,1025.3 1877.4,1026.5 1878.9,1028.1 1880.6,1029.5 1882.6,1030.4 1884.7,1029.9 1886.7,1029.3 1888.1,1030.8 1888.9,1032.9 1889.9,1034.9 1891.0,1036.7 1891.2,1038.8 1890.4,1040.9 1891.2,1042.9 1892.5,1044.6 1894.3,1045.9 1896.0,1047.3 1897.8,1048.5 1899.4,1050.1 1899.5,1052.2 1899.6,1054.4 1899.4,1056.5 1900.0,1058.6 1901.3,1060.3 1903.3,1061.4 1905.4,1061.9 1907.6,1062.1 1909.7,1062.6 1911.9,1062.7 1914.0,1063.2 1915.6,1064.7 1917.5,1065.8 1919.7,1066.0 1921.4,1067.2 1921.3,1069.3 1919.8,1070.9 1918.7,1072.8 1918.7,1074.9 1919.8,1076.8 1921.6,1078.0 1923.7,1078.6 1925.8,1078.0 1927.7,1078.9 1929.0,1080.6 1930.3,1082.3 1932.2,1083.5 1933.1,1085.3 1931.9,1087.2 1930.6,1088.9 1929.9,1091.0 1930.1,1093.2 1929.3,1095.2 1928.5,1097.2 1929.1,1099.3 1930.4,1101.0 1932.3,1102.1 1934.4,1102.3 1936.3,1101.2 1938.3,1101.1 1940.1,1102.3 1942.2,1103.0 1944.3,1103.5 1945.9,1105.0 1947.6,1106.4 1949.2,1107.9 1950.1,1109.7 1948.5,1111.2 1946.8,1112.5 1945.7,1114.4 1945.7,1116.5 1946.7,1118.5 1948.1,1120.2 1949.2,1122.0 1949.0,1124.2 1949.8,1126.2 1951.4,1127.7 1953.0,1129.2 1953.7,1131.2 1952.9,1133.2 1950.9,1133.0 1949.8,1131.2 1948.6,1129.3 1946.7,1128.2 1944.6,1128.0 1942.7,1129.1 1941.3,1130.8 1939.4,1131.4 1937.6,1130.1 1935.7,1128.9 1933.7,1128.2 1931.6,1127.6 1931.3,1125.6 1931.4,1123.5 1930.5,1121.5 1929.6,1119.4 1928.4,1117.6 1926.8,1116.1 1924.9,1115.0 1922.8,1114.6 1920.9,1113.5 1918.8,1112.8 1916.8,1113.7 1915.1,1115.0 1913.0,1115.4 1911.3,1113.9 1910.2,1112.1 1908.6,1110.6 1906.8,1109.4 1905.5,1107.6 1904.1,1105.9 1902.2,1104.9 1900.1,1104.3 1898.0,1104.8 1896.0,1105.8 1894.0,1105.6 1892.3,1104.2 1890.2,1103.4 1888.1,1103.4 1886.4,1101.9 1885.3,1100.0 1884.8,1097.9 1884.5,1095.8 1883.9,1093.7 1884.0,1091.5 1883.1,1089.5 1881.5,1088.0 1879.4,1087.3 1877.4,1088.1 1875.7,1089.5 1874.1,1091.0 1872.0,1091.0 1869.8,1090.7 1867.7,1090.6 1865.7,1089.7 1864.3,1088.0 1863.4,1086.0 1862.1,1084.3 1860.6,1082.7 1859.2,1081.0 1858.1,1079.1 1858.1,1076.9 1857.6,1074.8 1856.3,1073.0 1854.7,1071.5 1852.8,1070.5 1850.7,1070.0 1848.6,1069.1 1846.5,1068.9 1844.4,1069.4 1842.6,1068.2 1840.9,1066.9 1839.4,1065.3 1840.0,1063.2 1840.5,1061.1 1839.7,1059.1 1838.2,1057.5 1836.3,1056.5 1834.1,1056.4 1832.0,1056.4 1829.9,1055.5 1827.8,1055.6 1825.7,1056.0 1824.3,1054.5 1823.4,1052.5 1822.0,1050.8 1820.1,1049.7 1818.8,1047.9 1818.1,1045.8 1817.0,1044.0 1815.8,1042.1 1814.0,1040.8 1812.3,1039.5 1810.8,1037.9 1809.9,1036.0 1810.8,1034.0 1811.6,1031.9 1810.8,1029.9 1809.4,1028.3 1807.4,1027.3 1805.2,1027.2 1803.2,1028.0 1801.5,1029.3 1800.3,1031.2 1798.4,1031.9 1797.0,1030.2 1795.7,1028.5 1793.8,1027.3 1792.3,1025.8 1791.8,1023.7 1793.1,1022.0 1794.2,1020.1 1794.4,1018.0 1793.3,1016.1 1791.7,1014.6 1789.7,1013.7 1787.5,1013.4 1785.5,1014.2 1783.5,1013.6 1781.9,1012.1 1780.0,1011.0 1778.2,1009.8 1776.3,1008.7 1774.8,1007.2 1775.0,1005.1 1775.5,1003.0 1774.6,1001.0 1773.1,999.4 1771.2,998.3 1769.5,996.9 1767.5,995.9 1765.4,995.6 1763.3,994.9 1762.0,993.2 1760.3,991.7 1758.3,990.9 1756.2,991.1 1754.4,990.0 1753.0,988.3 1752.1,986.3 1750.8,984.5 1749.0,983.3 1746.9,982.9 1744.9,983.9 1742.9,984.7 1741.0,983.6 1739.9,981.8 1740.0,979.6 1739.7,977.5 1738.5,975.6 1737.1,973.9 1735.9,972.1 1734.2,970.6 1732.6,969.2 1732.5,967.1 1733.0,965.0 1732.1,963.0 1730.6,961.4 1728.7,960.4 1726.5,960.8 1724.7,962.0 1722.9,963.0 1721.2,961.7 1720.2,959.8 1720.5,957.7 1721.1,955.6 1722.0,953.5 1721.8,951.4 1720.8,949.5 1719.2,947.9 1717.4,946.7 1715.3,946.5 1713.3,947.5 1711.9,949.1 1710.2,950.5 1708.7,949.3 1708.2,947.1 1707.1,945.3 1705.4,943.9 1703.9,942.2 1703.7,940.1 1704.0,937.9 1703.1,935.9 1701.9,934.1 1700.6,932.3 1698.8,931.2 1696.6,930.8 1694.5,930.7 1692.3,930.4 1690.4,931.4 1688.4,932.2 1686.8,930.8 1685.3,929.2 1683.9,927.6 1684.7,925.6 1685.5,923.6 1684.9,921.5 1683.5,919.9 1681.6,918.9 1679.4,918.3 1677.3,918.6 1675.2,918.6 1673.3,917.4 1671.7,915.9 1669.9,914.7 1667.7,914.2 1665.9,913.1 1664.4,911.5 1663.7,909.5 1664.0,907.4 1663.2,905.4 1663.8,903.4 1665.0,901.6 1665.5,899.5 1664.6,897.5 1663.0,896.0 1660.9,895.3 1658.9,896.0 1656.9,895.5 1655.2,894.0 1653.3,892.9 1651.6,891.6 1651.2,889.5 1650.4,887.5 1649.3,885.6 1647.5,884.3 1645.4,883.8 1643.3,883.4 1641.5,882.1 1641.3,880.0 1641.3,877.9 1640.5,875.9 1640.0,873.8 1639.1,871.8 1638.1,869.8 1637.0,867.9 1636.3,865.8 1635.2,863.9 1633.5,862.5 1631.4,861.8 1629.3,862.4 1627.5,863.6 1625.6,864.0 1625.1,862.2 1626.2,860.2 1626.4,858.1 1625.4,856.2 1623.7,854.9 1621.8,853.8 1620.6,852.0 1620.3,849.9 1619.2,848.0 1617.5,846.6 1616.1,844.9 1616.5,842.8 1616.0,840.7 1614.7,838.9 1612.9,837.7 1611.3,836.2 1611.5,834.1 1612.5,832.2 1613.0,830.1 1612.2,828.1 1611.2,826.1 1609.8,824.4 1608.2,822.9 1606.6,821.4 1604.6,820.4 1602.5,820.8 1600.5,821.8 1598.4,821.8 1596.3,822.6 1594.5,823.8 1592.4,823.5 1590.5,822.4 1589.4,820.7 1590.9,819.2 1592.9,818.3 1594.6,816.9 1595.5,814.9 1595.4,812.7 1596.4,810.8ZM1759.5,1003.4 1761.6,1004.2 1763.3,1005.9 1765.1,1007.4 1765.1,1009.5 1763.5,1011.2 1761.4,1011.9 1759.9,1010.1 1760.1,1007.7 1759.2,1005.5ZM1927.5,1129.4 1929.1,1129.9 1929.2,1131.6 1928.1,1132.9 1926.5,1132.4 1926.4,1130.7Z" fill="#9E9E9E" fill-rule="evenodd"/>
<polyline points="1947.4,1127.5 1832.0,970.1 1806.3,934.1 1703.5,930.5 1836.7,1055.2 1857.4,1068.4 1879.8,1031.8 1726.0,952.7 1744.9,996.5 1717.7,884.1 1793.6,1013.6 1686.6,918.3 1790.3,1013.1 1838.3,998.1 1839.7,1058.2 1644.8,883.5 1752.0,980.9 1760.8,989.0 1893.5,1046.0 1952.7,1129.2 1711.7,858.0 1868.6,1090.5 1798.1,960.4 1856.3,983.4 1797.0,959.5 1822.2,979.8 1812.6,957.4 1610.7,836.8 1832.2,993.0 1836.6,1066.6 1930.9,1121.6 1598.2,793.5 1898.4,1063.3 1889.1,1034.7 1856.8,1014.6 1952.7,1110.9 1760.3,922.1 1797.2,962.7 1793.3,959.3 1835.5,996.3 1762.0,1012.7 1871.7,1012.5 1641.5,817.2 1718.6,891.7 1663.0,904.5 1657.5,896.4 1777.6,1000.8 1629.6,820.8 1719.4,945.6 1856.5,1068.0 1807.2,956.4 1755.9,988.0 1815.7,1034.0 1764.8,913.2 1675.9,932.5 1794.2,958.6 1818.1,1039.6 1624.9,864.3 1669.2,844.6 1841.2,996.7 1854.7,1010.3 1886.0,1090.5 1849.3,1002.0 1738.6,1005.8 1811.4,968.6 1668.1,845.2 1860.7,1072.4 1686.6,864.0 1642.7,869.9 1703.9,940.8 1647.9,806.5 1853.3,1068.2 1665.5,835.1 1764.3,990.5 1631.3,867.2 1721.8,879.0 1923.1,1114.5 1740.1,980.8 1670.4,851.8 1790.7,941.1 1705.4,871.3 1672.3,849.3 1810.5,971.0 1921.3,1065.6 1688.0,933.7 1787.6,1010.4 1957.7,1138.0 1778.2,1003.8 1911.1,1109.5 1651.4,888.4 1902.8,1062.3 1899.6,1061.3 1686.8,926.4 1705.2,932.8 1669.8,844.5 1638.5,863.4 1837.6,983.5 1847.6,997.2 1762.2,924.2 1598.1,808.1 1827.4,983.0 1814.8,1029.1 1926.6,1090.0 1817.8,978.2 1943.2,1058.8 1742.4,899.7 1856.7,1010.4 1914.6,1044.4 1652.2,836.8 1721.3,879.9 1771.3,997.9 1780.6,1026.1 1803.7,957.2 1782.1,1007.5 1767.1,905.5 1886.8,1032.8 1615.2,845.9 1741.6,979.8 1789.3,954.8 1618.8,837.8 1883.2,1109.3 1656.2,838.3 1909.8,1107.7 1854.1,1006.9 1594.8,822.3 1980.5,1148.5 1695.8,945.6 1697.6,863.2 1957.7,1113.5 1681.0,918.3 1649.9,893.3 1895.1,1106.1 1885.1,1099.1 1661.5,894.7 1928.3,1080.5 1830.2,982.6 1876.8,1029.6 1931.7,1086.8 1775.9,936.1 1877.5,1021.0 1602.8,818.5 1603.9,825.3 1911.2,1063.3 1623.9,819.1 1704.8,930.9 1724.1,950.2 1847.3,995.4 1763.7,994.1 1607.6,816.0 1811.0,954.7 1682.5,859.0 1782.7,949.1 1929.9,1093.4 1628.6,860.8 1703.7,948.5 1765.4,994.7 1817.1,1043.2 1725.4,880.3 1748.6,893.5 1915.6,1035.1 1940.4,1132.1 1771.1,1030.4 1822.6,1045.9 1808.1,1042.0 1709.7,950.6 1783.5,936.8 1791.4,1027.1 1733.0,969.4 1747.0,884.4 1636.1,859.5 1687.1,867.1 1896.4,1051.5 1828.3,964.1 1778.2,937.7 1710.7,872.3 1817.8,1044.4 1756.4,988.9 1603.0,812.6 1904.5,1064.6 1859.6,1070.5 1779.7,935.6 1673.2,923.0 1851.8,1007.0 1683.9,840.3 1875.0,1016.0 1707.6,936.6 1648.3,828.4 1805.6,1026.4 1719.3,876.1 1648.1,834.4 1665.5,902.1 1902.0,1063.7 1706.2,939.8 1760.4,924.2 1615.4,838.4 1760.1,1010.0 1623.5,817.9 1699.9,930.8 1818.1,971.4 1795.0,1022.6 1608.4,817.2 1724.4,948.7 1655.4,835.0 1832.3,993.3 1579.4,786.7 1594.2,823.9 1821.6,982.6 1911.4,1115.8 1723.7,950.3 1913.7,1063.2 1776.1,998.5 1870.4,1003.3 1759.9,918.4 1957.3,1138.7 1743.4,996.5 1914.2,1040.5 1733.8,899.1 1671.6,915.0 1873.7,1025.9 1618.2,809.6 1896.0,1105.3 1940.5,1106.3 1852.6,1011.4 1886.3,1041.5 1936.5,1128.5 1776.5,919.7 1710.9,870.3 1945.8,1124.6 1698.2,926.2 1754.9,913.9 1654.2,838.0 1819.4,1040.8 1774.5,995.4 1778.9,1002.1 1677.3,843.5 1789.6,1013.2 1856.4,1010.2 1602.4,812.5 1726.1,895.4 1901.1,1099.7 1778.9,1015.7 1612.2,833.8 1773.6,1008.0 1578.0,786.0 1607.7,815.9 1935.0,1102.7 1919.0,1070.9 1595.5,812.3 1798.0,1032.1 1698.0,864.6 1700.1,931.1 1775.2,1000.0 1769.2,1009.1 1736.4,972.0 1629.4,823.4 1728.0,965.4 1897.2,1100.2 1865.4,1007.5 1782.5,944.6 1791.8,959.7 1923.3,1079.0 1810.1,1035.8 1896.7,1104.7 1683.4,927.8 1886.3,1088.1 1977.0,1145.1 1766.5,991.6 1949.1,1121.5 1760.9,1004.0 1784.9,953.8 1807.7,958.9 1674.5,912.8 1884.8,1091.1 1832.4,987.8 1736.1,964.1 1805.0,1024.3 1674.9,845.8 1639.4,871.5 1748.5,980.1 1884.2,1093.7 1615.5,880.3 1704.4,935.5 1810.7,961.2 1761.2,924.3 1710.5,872.8 1922.1,1112.1 1794.0,1016.0 1792.9,960.4 1928.0,1102.4 1742.2,977.2 1829.3,980.7 1918.9,1117.9 1965.7,1141.0 1917.2,1070.8 1813.1,969.4 1873.7,1091.1 1700.4,871.0 1747.1,900.3 1663.6,892.0 1607.0,854.3 1765.4,995.1 1860.3,1082.6 1880.9,1083.8 1640.6,825.1 1763.2,992.0 1708.0,874.8 1870.5,1006.3 1929.0,1117.7 1793.5,959.6 1877.0,1110.5 1891.7,1045.9 1766.7,993.5 1705.9,962.0 1672.8,857.8 1771.5,906.4 1742.0,981.3 1641.9,830.4 1606.3,815.8 1589.9,822.0 1777.2,998.1 1843.9,1069.9 1680.8,855.9 1824.7,1049.9 1735.3,962.2 1789.0,953.7 1857.0,981.6 1631.0,861.2 1684.3,854.6 1721.4,955.7 1791.8,955.3 1665.5,893.8 1627.9,821.5 1758.0,996.0 1704.8,872.2 1738.1,974.5 1872.7,1086.8 1790.6,958.9 1985.6,1155.8 1787.2,939.4 1772.0,925.6 1664.1,842.7 1608.9,820.5 1818.6,1038.9 1925.9,1133.4 1901.4,1101.6 1663.4,917.6 1897.1,1048.5 1719.1,891.5 1933.5,1097.6 1612.5,827.6 1883.7,1088.5 1652.0,883.5 1761.6,918.5 1816.1,1032.7 1690.3,865.2 1795.6,1023.1 1619.2,854.7 1695.0,926.2 1666.6,912.2 1692.8,869.5 1700.4,871.8 1926.7,1113.1 1776.6,1057.9 1818.5,1063.2 1784.4,953.2 1951.4,1146.7 1790.1,938.9 1835.8,982.8 1800.0,1054.2 1624.8,821.6 1755.4,985.7 1824.7,1055.3 1906.8,1109.4 1880.0,1085.4 1701.1,960.1 1720.2,870.1 1720.4,948.3 1695.0,869.6 1810.0,966.8 1831.4,1052.3 1838.2,1000.6 1782.7,1020.2 1776.0,933.6 1855.6,1071.7 1793.5,1013.5 1800.0,961.1 1738.5,970.0 1703.3,872.4 1803.0,1053.9 1675.8,858.7 1833.3,993.2 1897.6,1013.7 1747.5,988.1 1820.4,981.0 1621.8,853.8 1878.4,1028.3 1785.6,949.2 1929.6,1102.5 1761.4,922.1 1946.2,1118.8 1718.6,891.0 1857.8,996.5 1795.4,959.3 1901.5,1104.0 1857.7,1013.4 1620.7,809.4 1895.5,1047.6 1801.3,956.9 1767.9,914.4 1915.0,1114.7 1742.0,977.5 1885.4,1097.6 1688.6,926.2 1927.3,1077.4 1723.9,953.4 1879.3,1085.4 1888.6,1102.6 1788.7,1009.0 1608.8,813.3 1919.0,1079.9 1695.4,930.7 1814.7,1035.5 1764.9,917.0 1607.2,845.4 1873.6,1016.3 1652.0,836.3 1908.4,1104.3 1891.4,1037.6 1900.8,1035.5 1703.3,935.1 1829.8,985.1 1645.4,829.8 1671.4,855.8 1786.2,949.8 1687.3,850.0 1797.6,1019.1 1802.7,961.1 1781.4,1007.4 1708.6,859.8 1841.7,1063.2 1664.3,821.2 1852.3,985.2 1892.7,1118.5 1658.7,921.4 1682.4,854.7 1791.7,940.5 1953.5,1131.2 1872.7,1026.2 1732.4,957.4 1791.7,953.5 1924.8,1082.0 1926.3,1129.4 1823.4,1048.4 1949.7,1101.9 1705.5,938.7 1796.2,1015.2 1840.5,999.8 1757.3,893.6 1785.6,952.9 1754.4,989.6 1821.0,978.8 1862.6,1082.8 1904.6,1065.3 1719.5,893.9 1726.1,953.3 1889.5,1027.7 1813.6,955.0 1720.1,891.5 1641.7,867.2 1720.5,894.1 1885.4,1087.3 1645.1,818.4 1921.8,1111.8 1761.6,923.9 1931.9,1128.2 1863.9,1090.2 1944.9,1116.0 1796.0,1014.5 1814.5,1030.5 1803.5,946.3 1722.2,950.9 1837.8,1055.0 1757.1,902.2 1634.5,821.5 1638.3,861.5 1798.4,961.4 1725.8,953.8 1687.2,923.0 1797.1,962.2 1768.2,995.1 1718.2,890.9 1930.3,1104.5 1829.5,1053.4 1785.2,941.2 1783.8,947.6 1615.9,799.1 1584.4,810.8 1725.1,877.7 1785.0,952.8 1694.9,870.1 1627.8,822.2 1811.8,1035.5 1619.1,817.7 1819.8,1042.4 1854.8,997.3 1870.2,1023.2 1619.8,844.5 1899.3,1054.6 1740.8,984.6 1944.7,1122.0 1823.4,979.1 1888.9,1096.0 1836.3,1055.2 1806.1,964.4 1717.7,881.4 1723.0,953.2 1814.2,1031.2 1943.8,1127.5 1689.2,931.4 1848.6,996.1 1749.8,1000.9 1716.3,891.6 1819.2,1049.2 1840.5,997.6 1681.5,916.9 1584.9,815.5 1914.3,1075.7 1946.5,1121.5 1858.1,1078.8 1939.1,1127.9 1640.8,876.0 1832.9,986.8 1916.0,1110.8 1742.9,1011.1 1610.9,811.0 1667.7,838.4 1718.9,872.7 1696.9,926.8 1901.9,1061.5 1779.5,1009.2 1856.9,1014.7 1887.8,1042.9 1782.8,949.3 1718.2,894.6 1811.0,1024.7 1739.8,894.0 1794.7,1015.3 1927.5,1100.8 1689.8,856.3 1755.4,906.2 1832.8,1068.9 1741.1,897.0 1959.4,1117.8 1757.5,915.8 1791.9,1023.8 1775.2,917.2 1925.8,1100.7 1719.0,966.8 1792.7,956.7 1778.0,1000.2 1814.4,1033.7 1782.9,949.1 1775.3,933.2 1783.9,1034.6 1665.0,892.3 1640.9,828.1 1722.9,898.1 1837.0,996.8 1724.0,946.9 1726.3,953.5 1588.4,822.9 1835.0,1052.0 1760.4,922.6 1611.4,824.1 1630.8,881.7 1845.3,987.1 1938.1,1129.5 1910.8,1131.3 1639.5,883.4 1669.1,911.9 1815.5,1031.8 1710.7,950.2 1768.8,929.3 1886.6,1029.3 1658.0,832.7 1844.4,987.1 1705.8,874.3 1821.2,965.6 1821.2,1046.2 1779.6,915.3 1801.6,1043.7 1845.1,1066.5 1791.8,959.0 1652.5,888.4 1713.8,875.2 1810.7,969.2 1821.8,942.2 1905.6,1047.9 1772.6,933.6 1859.0,1075.7 1742.2,900.1 1780.6,1008.0 1921.7,1069.0 1792.7,951.8 1718.5,894.9 1947.1,1111.3 1877.1,1000.7 1894.3,1048.3 1897.2,1050.1 1928.3,1134.4 1796.9,1025.7 1935.0,1083.6 1932.4,1120.7 1697.6,927.6 1907.4,1062.3 1825.1,984.4 1641.0,825.3 1913.1,1067.0 1595.5,799.9 1832.6,1053.1 1821.7,979.8 1715.8,891.6 1764.6,1024.4 1711.5,946.8 1730.3,898.5 1910.2,1050.7 1783.9,950.8 1858.4,1014.5 1674.1,856.0 1804.3,1024.3 1942.0,1097.7 1646.0,829.8 1591.5,819.5 1774.8,997.2 1799.3,960.0 1806.2,1026.9 1601.6,831.7 1785.2,946.9 1766.1,1008.0 1906.7,1064.5 1732.1,894.5 1856.6,999.1 1799.6,1032.7 1733.5,881.5 1905.3,1064.3 1777.9,937.5 1860.1,1074.8 1925.3,1094.6 1869.7,1017.5 1841.0,984.3 1885.0,1106.9 1877.8,1087.1 1900.0,1115.4 1624.1,820.2 1950.4,1127.6 1818.4,975.7 1672.1,856.4 1894.3,1105.2 1842.3,986.4 1809.3,1026.4 1937.6,1129.3 1810.8,972.6 1917.5,1110.3 1764.7,927.6 1663.8,910.5 1732.8,896.1 1817.5,950.0 1942.6,1106.4 1785.3,954.2 1697.1,868.4 1701.4,928.9 1835.2,963.3 1854.4,1000.1 1782.1,1007.4 1636.1,818.2 1898.8,1063.1 1887.7,1092.4 1667.2,895.1 1729.1,899.4 1725.4,895.2 1783.1,950.8 1919.2,1111.3 1747.7,978.4 1718.6,887.6 1875.5,1014.0 1832.6,1056.4 1824.3,1057.7 1720.2,959.3 1649.6,832.7 1801.9,1042.5 1809.7,960.4 1933.5,1105.0 1978.1,1148.7 1647.2,881.5 1773.7,936.4 1902.2,1065.5 1617.2,813.1 1815.9,1040.0 1830.8,987.4 1830.2,983.5 1670.8,850.1 1917.9,1111.3 1834.4,993.0 1850.6,1069.6 1903.9,1061.9 1706.5,933.7 1696.2,863.7 1761.9,908.1 1624.8,863.1 1681.4,854.2 1927.7,1095.1 1758.9,1004.2 1735.0,962.5 1983.5,1138.3 1950.4,1134.1 1704.3,935.1 1531.5,736.0" fill="none" stroke="none" marker-start="url(#rg)" marker-mid="url(#rg)" marker-end="url(#rg)"/>
<path d="M1659.0,856.9 1663.0,856.5 1667.0,856.9 1670.9,857.8 1674.7,859.0 1678.4,860.5 1682.1,862.0 1685.8,863.6 1689.5,865.2 1693.2,866.8 1696.8,868.5 1700.4,870.3 1703.9,872.3 1707.2,874.5 1710.5,876.8 1713.7,879.3 1716.9,881.7 1720.2,883.9 1723.6,886.1 1727.1,888.1 1730.5,890.2 1733.8,892.4 1737.1,894.7 1740.4,897.1 1743.6,899.5 1746.8,901.9 1749.9,904.5 1753.0,907.0 1756.0,909.7 1759.0,912.3 1762.0,915.0 1765.0,917.7 1768.0,920.3 1771.1,922.9 1774.2,925.4 1777.4,927.9 1780.5,930.4 1783.6,932.9 1786.7,935.5 1789.7,938.2 1792.6,940.9 1795.6,943.6 1798.6,946.3 1801.6,948.9 1804.7,951.5 1807.7,954.2 1810.7,956.8 1813.7,959.5 1816.6,962.2 1819.5,965.0 1822.3,967.9 1825.0,970.9 1827.7,973.9 1830.4,976.9 1833.0,979.9 1835.7,982.9 1838.4,985.8 1841.2,988.7 1844.0,991.6 1846.9,994.4 1849.7,997.2 1852.5,1000.1 1855.2,1003.1 1857.8,1006.1 1860.4,1009.1 1863.1,1012.2 1865.7,1015.2 1868.4,1018.2 1871.1,1021.2 1873.8,1024.1 1876.4,1027.2 1879.0,1030.2 1881.5,1033.4 1884.0,1036.5 1886.3,1039.8 1888.5,1043.1 1890.6,1046.5 1892.7,1050.0 1894.7,1053.5 1896.7,1057.0 1898.6,1060.5 1900.6,1063.9 1902.6,1067.4 1904.6,1070.9 1906.3,1074.5 1907.7,1078.3 1908.2,1082.3 1907.2,1086.1 1904.3,1088.8 1900.4,1089.7 1896.4,1089.5 1892.5,1088.6 1888.6,1087.5 1884.9,1086.1 1881.1,1084.6 1877.5,1083.0 1873.9,1081.1 1870.4,1079.2 1866.9,1077.2 1863.4,1075.2 1859.9,1073.2 1856.4,1071.3 1852.9,1069.3 1849.4,1067.4 1845.9,1065.4 1842.5,1063.3 1839.1,1061.1 1835.8,1058.8 1832.6,1056.5 1829.3,1054.1 1826.0,1051.8 1822.7,1049.6 1819.4,1047.3 1816.1,1045.0 1812.9,1042.6 1809.8,1040.1 1806.7,1037.6 1803.6,1035.0 1800.5,1032.4 1797.4,1029.9 1794.3,1027.3 1791.2,1024.7 1788.2,1022.2 1785.0,1019.6 1782.0,1017.1 1778.9,1014.5 1775.9,1011.8 1773.0,1009.0 1770.1,1006.3 1767.1,1003.6 1764.1,1000.9 1761.0,998.3 1757.9,995.8 1754.9,993.2 1751.8,990.6 1748.9,987.9 1746.0,985.1 1743.1,982.3 1740.2,979.5 1737.3,976.7 1734.4,973.9 1731.5,971.2 1728.6,968.4 1725.7,965.6 1722.9,962.7 1720.2,959.8 1717.4,956.9 1714.7,954.0 1711.9,951.0 1709.2,948.1 1706.4,945.2 1703.6,942.3 1700.9,939.4 1698.2,936.4 1695.5,933.4 1692.9,930.3 1690.5,927.2 1688.0,924.0 1685.7,920.7 1683.3,917.5 1681.0,914.2 1678.6,911.0 1676.2,907.8 1673.8,904.5 1671.5,901.3 1669.1,898.1 1666.6,895.0 1664.0,891.9 1661.4,888.8 1659.0,885.6 1657.0,882.1 1655.5,878.4 1654.4,874.5 1653.7,870.6 1653.5,866.6 1653.9,862.6 1655.6,859.0ZM1676.0,874.7 1680.0,874.2 1684.0,874.6 1687.9,875.3 1691.8,876.3 1695.7,877.5 1699.4,879.0 1702.9,880.9 1706.3,883.1 1709.6,885.3 1713.0,887.6 1716.4,889.7 1719.9,891.7 1723.5,893.6 1727.0,895.5 1730.4,897.5 1733.9,899.7 1737.2,901.9 1740.5,904.2 1743.7,906.6 1746.9,909.1 1749.9,911.7 1753.0,914.3 1756.0,917.0 1759.1,919.6 1762.1,922.2 1765.2,924.8 1768.3,927.4 1771.5,929.8 1774.7,932.3 1777.9,934.7 1781.0,937.2 1784.1,939.8 1787.1,942.5 1790.0,945.2 1793.0,948.0 1796.0,950.6 1799.0,953.3 1802.1,955.9 1805.1,958.5 1808.1,961.2 1811.1,963.9 1814.0,966.7 1816.8,969.6 1819.6,972.5 1822.3,975.4 1825.0,978.4 1827.7,981.4 1830.3,984.5 1833.0,987.5 1835.6,990.5 1838.3,993.5 1841.1,996.4 1843.9,999.3 1846.7,1002.2 1849.4,1005.1 1852.1,1008.2 1854.6,1011.2 1857.2,1014.4 1859.7,1017.5 1862.2,1020.6 1864.7,1023.8 1867.2,1026.9 1869.7,1030.1 1872.1,1033.3 1874.4,1036.6 1876.7,1039.9 1878.9,1043.3 1880.9,1046.7 1882.7,1050.3 1884.4,1054.0 1885.8,1057.8 1886.9,1061.6 1887.5,1065.6 1886.3,1069.3 1882.5,1070.4 1878.6,1069.8 1874.7,1068.8 1870.8,1067.6 1867.0,1066.3 1863.2,1064.9 1859.5,1063.5 1855.8,1061.9 1852.1,1060.3 1848.5,1058.5 1845.0,1056.5 1841.6,1054.4 1838.2,1052.3 1834.8,1050.1 1831.4,1047.9 1828.0,1045.7 1824.6,1043.6 1821.2,1041.4 1817.9,1039.2 1814.7,1036.8 1811.5,1034.4 1808.3,1031.9 1805.2,1029.3 1802.1,1026.8 1799.0,1024.2 1795.9,1021.6 1792.8,1019.1 1789.6,1016.6 1786.5,1014.1 1783.3,1011.6 1780.3,1009.0 1777.3,1006.3 1774.4,1003.6 1771.4,1000.8 1768.4,998.1 1765.4,995.4 1762.4,992.8 1759.3,990.2 1756.3,987.5 1753.3,984.8 1750.4,982.1 1747.5,979.3 1744.7,976.4 1741.8,973.6 1738.9,970.9 1735.9,968.1 1733.0,965.4 1730.1,962.5 1727.3,959.7 1724.6,956.7 1721.9,953.8 1719.2,950.8 1716.5,947.8 1713.8,944.8 1711.1,941.8 1708.4,938.9 1705.7,935.9 1703.0,932.9 1700.4,929.8 1698.0,926.6 1695.6,923.3 1693.4,920.0 1691.2,916.6 1689.1,913.2 1687.0,909.8 1684.9,906.3 1682.9,902.8 1681.0,899.3 1679.2,895.7 1677.4,892.1 1675.6,888.5 1673.9,884.9 1672.6,881.1 1673.0,877.1ZM1692.0,887.8 1695.9,887.2 1699.8,888.0 1703.5,889.5 1707.1,891.3 1710.7,893.1 1714.3,894.9 1718.0,896.5 1721.6,898.2 1725.2,900.0 1728.8,901.8 1732.3,903.8 1735.7,905.9 1739.0,908.1 1742.2,910.5 1745.4,913.0 1748.5,915.6 1751.5,918.1 1754.6,920.7 1757.7,923.3 1760.7,925.9 1763.8,928.4 1767.0,930.9 1770.2,933.3 1773.4,935.7 1776.6,938.2 1779.7,940.7 1782.7,943.3 1785.7,946.0 1788.7,948.7 1791.7,951.4 1794.7,954.1 1797.7,956.7 1800.7,959.3 1803.8,962.0 1806.7,964.6 1809.7,967.4 1812.5,970.2 1815.3,973.0 1818.1,976.0 1820.8,978.9 1823.5,981.9 1826.1,985.0 1828.7,988.0 1831.3,991.1 1833.9,994.1 1836.6,997.1 1839.3,1000.1 1842.0,1003.0 1844.7,1005.9 1847.4,1009.0 1849.9,1012.1 1852.4,1015.2 1854.8,1018.4 1857.2,1021.7 1859.5,1024.9 1861.8,1028.2 1864.0,1031.6 1866.1,1035.0 1868.1,1038.5 1869.8,1042.1 1871.3,1045.8 1872.1,1049.7 1871.4,1053.6 1868.3,1056.0 1864.3,1056.4 1860.3,1056.0 1856.4,1055.0 1852.6,1053.8 1848.9,1052.2 1845.3,1050.4 1841.8,1048.5 1838.3,1046.5 1834.9,1044.5 1831.4,1042.4 1827.9,1040.4 1824.5,1038.4 1821.1,1036.3 1817.7,1034.0 1814.5,1031.7 1811.3,1029.3 1808.2,1026.8 1805.1,1024.2 1802.0,1021.7 1798.8,1019.1 1795.7,1016.7 1792.5,1014.2 1789.3,1011.8 1786.1,1009.4 1783.0,1006.8 1780.0,1004.2 1777.0,1001.5 1774.1,998.7 1771.2,996.0 1768.2,993.3 1765.2,990.7 1762.2,988.0 1759.2,985.3 1756.2,982.6 1753.3,979.8 1750.5,977.0 1747.6,974.2 1744.8,971.4 1741.9,968.6 1738.9,965.9 1736.0,963.1 1733.2,960.3 1730.4,957.4 1727.6,954.5 1725.0,951.5 1722.3,948.5 1719.7,945.5 1717.0,942.5 1714.4,939.4 1711.7,936.4 1709.1,933.4 1706.6,930.3 1704.1,927.1 1701.8,923.9 1699.6,920.5 1697.5,917.0 1695.7,913.5 1693.9,909.9 1692.3,906.2 1690.8,902.5 1689.6,898.7 1689.0,894.7 1689.4,890.8ZM1702.0,899.9 1705.9,899.0 1709.9,899.6 1713.8,900.5 1717.6,901.7 1721.4,903.0 1725.2,904.5 1728.8,906.2 1732.4,908.1 1735.9,910.2 1739.2,912.4 1742.4,914.8 1745.5,917.4 1748.7,919.9 1751.8,922.5 1754.9,925.0 1758.0,927.6 1761.1,930.1 1764.3,932.6 1767.5,935.0 1770.8,937.4 1774.0,939.9 1777.1,942.3 1780.2,944.9 1783.2,947.6 1786.2,950.3 1789.2,953.0 1792.3,955.7 1795.3,958.3 1798.3,960.9 1801.4,963.6 1804.4,966.3 1807.3,969.0 1810.2,971.8 1813.0,974.7 1815.7,977.7 1818.5,980.7 1821.1,983.7 1823.8,986.7 1826.3,989.8 1828.9,992.9 1831.4,996.0 1834.1,999.1 1836.7,1002.1 1839.4,1005.1 1842.1,1008.2 1844.7,1011.2 1847.1,1014.4 1849.5,1017.7 1851.8,1021.0 1854.0,1024.4 1856.0,1027.8 1857.9,1031.4 1859.6,1035.1 1860.7,1038.9 1860.9,1042.9 1858.8,1046.2 1854.9,1047.1 1850.9,1046.5 1847.1,1045.3 1843.4,1043.8 1839.7,1042.1 1836.1,1040.3 1832.6,1038.4 1829.0,1036.5 1825.5,1034.6 1822.0,1032.5 1818.6,1030.3 1815.3,1028.0 1812.1,1025.6 1808.9,1023.2 1805.8,1020.6 1802.6,1018.1 1799.5,1015.6 1796.2,1013.2 1793.0,1010.9 1789.7,1008.5 1786.5,1006.0 1783.4,1003.5 1780.4,1000.8 1777.4,998.1 1774.5,995.4 1771.5,992.6 1768.5,989.9 1765.5,987.2 1762.5,984.5 1759.6,981.8 1756.7,979.0 1753.8,976.2 1751.0,973.3 1748.1,970.5 1745.2,967.6 1742.3,964.9 1739.4,962.1 1736.5,959.3 1733.7,956.4 1730.9,953.5 1728.3,950.5 1725.6,947.4 1723.0,944.4 1720.4,941.3 1717.8,938.2 1715.2,935.1 1712.7,932.0 1710.2,928.8 1707.9,925.5 1705.7,922.1 1703.7,918.6 1702.1,915.0 1700.7,911.1 1699.9,907.2 1699.9,903.2ZM1713.0,906.9 1717.0,906.9 1720.9,907.6 1724.8,908.7 1728.5,910.2 1732.2,911.9 1735.6,913.9 1738.9,916.2 1742.1,918.6 1745.3,921.1 1748.4,923.6 1751.6,926.1 1754.7,928.5 1757.9,931.0 1761.0,933.5 1764.2,935.9 1767.5,938.3 1770.7,940.7 1773.9,943.1 1777.0,945.6 1780.1,948.2 1783.1,950.8 1786.1,953.5 1789.1,956.2 1792.1,958.8 1795.2,961.4 1798.2,964.1 1801.2,966.7 1804.2,969.4 1807.0,972.2 1809.8,975.1 1812.6,978.0 1815.3,981.0 1818.0,984.0 1820.6,987.0 1823.1,990.1 1825.6,993.2 1828.1,996.4 1830.5,999.6 1833.1,1002.7 1835.7,1005.7 1838.3,1008.8 1840.8,1011.9 1843.2,1015.1 1845.4,1018.4 1847.5,1021.9 1849.3,1025.5 1850.8,1029.2 1851.6,1033.1 1850.6,1036.9 1846.9,1038.2 1843.0,1037.7 1839.1,1036.5 1835.4,1035.1 1831.7,1033.5 1828.1,1031.8 1824.5,1029.9 1821.1,1027.9 1817.7,1025.7 1814.4,1023.4 1811.2,1021.0 1808.0,1018.6 1804.9,1016.1 1801.7,1013.7 1798.4,1011.4 1795.1,1009.1 1791.8,1006.8 1788.6,1004.4 1785.4,1001.9 1782.4,999.3 1779.4,996.6 1776.4,993.9 1773.5,991.2 1770.5,988.5 1767.6,985.8 1764.6,983.0 1761.7,980.3 1758.8,977.5 1756.0,974.7 1753.2,971.8 1750.4,969.0 1747.5,966.1 1744.7,963.3 1741.8,960.5 1738.9,957.7 1736.1,954.8 1733.4,951.9 1730.7,948.9 1728.1,945.8 1725.6,942.8 1723.1,939.6 1720.5,936.5 1718.1,933.3 1715.7,930.1 1713.4,926.8 1711.3,923.4 1709.5,919.8 1708.2,916.0 1707.8,912.1 1709.4,908.5ZM1721.0,913.0 1725.0,913.4 1728.9,914.5 1732.6,916.2 1736.1,918.2 1739.4,920.5 1742.7,922.9 1745.9,925.3 1749.1,927.7 1752.4,930.2 1755.6,932.6 1758.8,935.0 1762.0,937.5 1765.3,939.8 1768.6,942.2 1771.8,944.6 1775.0,947.1 1778.1,949.7 1781.2,952.3 1784.2,955.0 1787.3,957.6 1790.3,960.3 1793.4,962.9 1796.4,965.6 1799.5,968.2 1802.4,971.0 1805.3,973.8 1808.1,976.7 1810.9,979.7 1813.6,982.7 1816.2,985.7 1818.8,988.8 1821.3,992.0 1823.7,995.3 1826.1,998.5 1828.5,1001.8 1830.9,1005.0 1833.4,1008.2 1835.8,1011.4 1838.1,1014.7 1840.2,1018.2 1841.9,1021.9 1842.7,1025.8 1841.1,1029.3 1837.1,1029.8 1833.2,1029.1 1829.3,1027.8 1825.6,1026.1 1822.0,1024.3 1818.6,1022.2 1815.2,1020.0 1811.9,1017.7 1808.6,1015.3 1805.4,1012.9 1802.0,1010.6 1798.7,1008.4 1795.3,1006.2 1792.0,1003.9 1788.7,1001.5 1785.5,999.0 1782.5,996.3 1779.5,993.6 1776.5,990.9 1773.5,988.2 1770.6,985.4 1767.6,982.6 1764.7,979.9 1761.8,977.0 1758.9,974.2 1756.1,971.3 1753.3,968.4 1750.5,965.5 1747.6,962.6 1744.8,959.8 1741.9,956.9 1739.1,954.0 1736.4,951.0 1733.7,948.0 1731.1,944.9 1728.6,941.7 1726.1,938.5 1723.7,935.3 1721.4,932.0 1719.1,928.6 1717.2,925.1 1715.6,921.4 1715.2,917.4 1717.1,914.0ZM1725.0,919.9 1729.0,919.8 1732.8,921.0 1736.3,922.9 1739.7,925.0 1743.0,927.2 1746.3,929.5 1749.6,931.8 1752.9,934.1 1756.1,936.4 1759.4,938.7 1762.6,941.1 1765.9,943.4 1769.1,945.7 1772.3,948.1 1775.5,950.6 1778.6,953.2 1781.6,955.8 1784.6,958.4 1787.7,961.0 1790.7,963.6 1793.8,966.2 1796.8,968.8 1799.7,971.5 1802.6,974.3 1805.4,977.1 1808.1,980.1 1810.7,983.1 1813.3,986.1 1815.8,989.3 1818.2,992.4 1820.5,995.7 1822.7,999.1 1824.9,1002.5 1827.0,1005.8 1829.2,1009.2 1831.2,1012.7 1832.7,1016.3 1832.6,1020.2 1829.0,1021.4 1825.1,1020.6 1821.4,1019.1 1817.9,1017.2 1814.4,1015.2 1811.1,1013.0 1807.7,1010.8 1804.3,1008.7 1800.9,1006.6 1797.5,1004.6 1794.1,1002.4 1790.8,1000.1 1787.6,997.7 1784.5,995.2 1781.5,992.6 1778.6,989.9 1775.6,987.2 1772.7,984.4 1769.8,981.6 1767.0,978.9 1764.1,976.0 1761.3,973.2 1758.6,970.3 1755.8,967.4 1753.1,964.5 1750.3,961.6 1747.5,958.7 1744.7,955.9 1742.0,953.0 1739.3,950.0 1736.7,946.9 1734.2,943.8 1731.8,940.6 1729.5,937.3 1727.3,934.0 1725.3,930.5 1723.6,926.9 1722.8,923.0ZM1734.0,929.8 1738.0,929.9 1741.7,931.5 1745.3,933.3 1748.8,935.4 1752.2,937.5 1755.6,939.8 1759.0,942.0 1762.4,944.3 1765.7,946.6 1769.0,948.9 1772.3,951.3 1775.5,953.8 1778.6,956.4 1781.7,959.0 1784.9,961.6 1788.0,964.2 1791.1,966.8 1794.1,969.5 1797.2,972.2 1800.1,975.0 1802.9,977.9 1805.6,980.9 1808.2,984.0 1810.8,987.2 1813.2,990.4 1815.5,993.8 1817.5,997.3 1819.3,1000.9 1820.8,1004.7 1821.5,1008.7 1818.7,1010.9 1814.8,1010.0 1811.1,1008.4 1807.4,1006.6 1803.8,1004.8 1800.2,1002.9 1796.7,1000.9 1793.2,998.8 1789.9,996.5 1786.7,994.0 1783.6,991.4 1780.5,988.7 1777.6,985.9 1774.6,983.1 1771.7,980.3 1768.9,977.4 1766.0,974.5 1763.2,971.6 1760.5,968.6 1757.7,965.6 1755.0,962.6 1752.2,959.6 1749.5,956.7 1746.8,953.7 1744.1,950.6 1741.5,947.5 1739.1,944.2 1736.8,940.8 1734.9,937.3 1733.4,933.5ZM1747.0,941.7 1750.9,942.3 1754.6,944.0 1758.1,945.9 1761.6,947.9 1765.0,950.0 1768.4,952.2 1771.7,954.5 1774.9,956.9 1778.1,959.4 1781.2,961.9 1784.4,964.5 1787.5,967.0 1790.6,969.6 1793.6,972.2 1796.5,975.0 1799.3,977.8 1802.0,980.9 1804.5,984.0 1807.0,987.2 1809.2,990.5 1811.1,994.1 1812.4,997.9 1811.1,1001.4 1807.2,1001.6 1803.4,1000.5 1799.6,999.0 1796.1,997.2 1792.6,995.1 1789.3,992.8 1786.1,990.3 1783.1,987.7 1780.1,985.0 1777.2,982.2 1774.3,979.4 1771.5,976.5 1768.8,973.6 1766.1,970.6 1763.4,967.6 1760.8,964.5 1758.2,961.5 1755.6,958.4 1753.0,955.3 1750.6,952.1 1748.3,948.8 1746.4,945.2ZM1763.0,956.8 1766.9,957.0 1770.6,958.8 1774.1,961.0 1777.5,963.3 1780.8,965.7 1784.1,968.2 1787.3,970.7 1790.5,973.4 1793.5,976.1 1796.4,979.1 1798.9,982.3 1801.2,985.7 1803.0,989.4 1802.9,993.3 1799.0,993.7 1795.2,992.4 1791.6,990.4 1788.2,988.1 1785.0,985.5 1781.9,982.8 1779.0,979.9 1776.2,976.9 1773.4,973.8 1770.8,970.7 1768.2,967.5 1765.8,964.1 1763.7,960.6Z" fill="none" stroke="#31679A" stroke-width="2.6" stroke-linejoin="round"/>
</g>
<path d="M1513.0,970.4H2046.6M1779.8,713.4V1227.4" fill="none" stroke="#000" stroke-width="2.8" stroke-dasharray="12.6 8"/>
<rect x="1513.0" y="713.4" width="533.6" height="514.0" fill="none" stroke="#000" stroke-width="2.8"/>
<path d="M1495,745.6H1513.0" stroke="#000" stroke-width="2.8"/>
<text x="1480.5" y="765.6" text-anchor="end" class="ax">6</text>
<path d="M1495,858.0H1513.0" stroke="#000" stroke-width="2.8"/>
<text x="1480.5" y="878.0" text-anchor="end" class="ax">3</text>
<path d="M1495,970.4H1513.0" stroke="#000" stroke-width="2.8"/>
<text x="1480.5" y="990.4" text-anchor="end" class="ax">0</text>
<path d="M1495,1082.8H1513.0" stroke="#000" stroke-width="2.8"/>
<text x="1480.5" y="1102.8" text-anchor="end" class="ax">-3</text>
<path d="M1495,1195.2H1513.0" stroke="#000" stroke-width="2.8"/>
<text x="1480.5" y="1215.2" text-anchor="end" class="ax">-6</text>
<path d="M1623.3,1227.4V1244.9" stroke="#000" stroke-width="2.8"/>
<text x="1623.3" y="1286.9" text-anchor="middle" class="ax">-1.5</text>
<path d="M1779.8,1227.4V1244.9" stroke="#000" stroke-width="2.8"/>
<text x="1779.8" y="1286.9" text-anchor="middle" class="ax">0</text>
<path d="M1936.3,1227.4V1244.9" stroke="#000" stroke-width="2.8"/>
<text x="1936.3" y="1286.9" text-anchor="middle" class="ax">1.5</text>
<text x="1779.8" y="745.6" text-anchor="middle" class="ttl">Reshuffled countries</text>
<text x="1536" y="788.1" class="let">c</text>
<text x="1779.8" y="1341.9" text-anchor="middle" class="rt">Temperature coef. (×10<tspan dy="-23" font-size="31.5">−2</tspan><tspan dy="23">)</tspan></text>
<text transform="translate(1397,970.4) rotate(-90)" text-anchor="middle" class="rt">Temperature<tspan dy="-23" font-size="31.5">2</tspan><tspan dy="23"> coef. (×10</tspan><tspan dy="-23" font-size="31.5">−4</tspan><tspan dy="23">)</tspan></text>
<g stroke="#B8860B" fill="none" stroke-linecap="round"><circle cx="1644.3" cy="918.9" r="15.2" stroke-width="4"/><path d="M1637.1,911.7l14.4,14.4m0,-14.4l-14.4,14.4" stroke-width="3.6"/></g>
</g>
<g id="pe">
<g clip-path="url(#clipe)">
<polygon points="2046.6,1520.0 2046.6,1520.0 2046.4,1523.0 2046.1,1525.9 2045.8,1528.9 2045.4,1531.9 2045.0,1534.8 2044.5,1537.8 2044.0,1540.8 2043.4,1543.7 2042.7,1546.7 2041.9,1549.7 2041.1,1552.6 2040.1,1555.6 2039.0,1558.5 2037.7,1561.5 2036.0,1564.5 2034.2,1567.4 2032.1,1570.4 2030.0,1573.4 2027.7,1576.3 2025.1,1579.3 2022.2,1582.3 2019.1,1585.2 2015.8,1588.2 2012.2,1591.2 2008.1,1594.1 2003.4,1597.1 1998.4,1600.1 1993.3,1603.0 1988.4,1606.0 1983.9,1609.0 1979.4,1611.9 1975.0,1614.9 1970.8,1617.8 1966.8,1620.8 1963.1,1623.8 1959.6,1626.7 1956.3,1629.7 1953.5,1632.7 1951.8,1635.6 1950.3,1638.6 1949.1,1641.6 1948.1,1644.5 1947.5,1647.5 1947.4,1650.5 1947.7,1653.4 1948.2,1656.4 1949.0,1659.4 1949.9,1662.3 1951.1,1665.3 1953.4,1668.3 1956.7,1671.2 1960.3,1674.2 1964.0,1677.2 1968.1,1680.1 1972.6,1683.1 1977.3,1686.0 1982.1,1689.0 1987.0,1692.0 1992.4,1694.9 1998.2,1697.9 2004.0,1700.9 2009.5,1703.8 2014.3,1706.8 2018.2,1709.8 2021.7,1712.7 2024.9,1715.7 2027.8,1718.7 2030.4,1721.6 2032.6,1724.6 2034.5,1727.6 2036.3,1730.5 2037.9,1733.5 2039.3,1736.5 2040.5,1739.4 2041.4,1742.4 2042.2,1745.3 2042.9,1748.3 2043.4,1751.3 2043.9,1754.2 2044.4,1757.2 2044.9,1760.2 2045.3,1763.1 2045.7,1766.1 2046.0,1769.1 2046.3,1772.0 2046.6,1775.0 2046.6,1775.0" fill="#CCCCCC"/>
<polygon points="1575.0,1905.6 1575.0,1905.6 1578.0,1905.6 1581.0,1905.6 1584.0,1905.5 1586.9,1905.5 1589.9,1905.4 1592.9,1905.3 1595.9,1905.2 1598.9,1905.2 1601.9,1905.1 1604.8,1904.9 1607.8,1904.7 1610.8,1904.5 1613.8,1904.3 1616.8,1904.0 1619.8,1903.7 1622.8,1903.3 1625.7,1903.0 1628.7,1902.6 1631.7,1902.1 1634.7,1901.7 1637.7,1901.1 1640.7,1900.5 1643.6,1899.7 1646.6,1898.8 1649.6,1897.8 1652.6,1896.7 1655.6,1895.5 1658.6,1894.1 1661.6,1892.5 1664.5,1890.9 1667.5,1889.1 1670.5,1887.3 1673.5,1885.3 1676.5,1883.2 1679.5,1881.0 1682.4,1878.7 1685.4,1876.5 1688.4,1874.2 1691.4,1871.9 1694.4,1869.6 1697.4,1867.1 1700.3,1864.6 1703.3,1861.9 1706.3,1859.0 1709.3,1855.9 1712.3,1852.9 1715.3,1849.8 1718.3,1846.7 1721.2,1843.7 1724.2,1840.5 1727.2,1837.4 1730.2,1834.4 1733.2,1831.6 1736.2,1829.1 1739.1,1826.7 1742.1,1824.4 1745.1,1822.3 1748.1,1820.4 1751.1,1818.8 1754.1,1817.4 1757.1,1816.2 1760.0,1815.1 1763.0,1814.1 1766.0,1813.3 1769.0,1812.5 1772.0,1811.6 1775.0,1810.9 1777.9,1810.4 1780.9,1810.3 1783.9,1810.4 1786.9,1810.7 1789.9,1811.1 1792.9,1811.5 1795.9,1812.5 1798.8,1813.9 1801.8,1815.4 1804.8,1817.2 1807.8,1819.4 1810.8,1821.9 1813.8,1824.5 1816.7,1827.2 1819.7,1829.9 1822.7,1832.8 1825.7,1835.9 1828.7,1839.0 1831.7,1842.1 1834.7,1845.1 1837.6,1847.9 1840.6,1850.6 1843.6,1853.2 1846.6,1855.9 1849.6,1858.5 1852.6,1861.2 1855.5,1864.0 1858.5,1866.8 1861.5,1869.6 1864.5,1872.3 1867.5,1874.8 1870.5,1877.2 1873.4,1879.4 1876.4,1881.6 1879.4,1883.6 1882.4,1885.6 1885.4,1887.4 1888.4,1889.1 1891.4,1890.7 1894.3,1892.2 1897.3,1893.7 1900.3,1895.0 1903.3,1896.3 1906.3,1897.5 1909.3,1898.7 1912.2,1899.8 1915.2,1900.8 1918.2,1901.6 1921.2,1902.3 1924.2,1902.9 1927.2,1903.4 1930.2,1903.9 1933.1,1904.3 1936.1,1904.5 1939.1,1904.7 1942.1,1904.9 1945.1,1905.1 1948.1,1905.3 1951.0,1905.4 1954.0,1905.5 1957.0,1905.6 1960.0,1905.6 1960.0,1905.6" fill="#CCCCCC"/>
<path d="M1631.5,1528.1 1633.4,1528.9 1634.3,1530.8 1635.3,1532.8 1636.8,1534.3 1638.6,1535.5 1640.1,1537.2 1641.6,1538.7 1643.6,1539.8 1645.6,1540.5 1647.8,1540.3 1649.6,1539.2 1651.4,1538.0 1653.2,1539.1 1654.5,1540.9 1655.6,1542.8 1657.3,1544.1 1659.4,1544.6 1661.4,1543.7 1663.5,1543.9 1664.6,1545.8 1665.3,1547.9 1666.4,1549.7 1668.3,1550.9 1670.3,1551.8 1672.4,1552.0 1674.4,1551.2 1676.5,1551.9 1678.5,1552.9 1680.2,1554.2 1681.2,1556.1 1682.3,1558.0 1684.1,1559.3 1686.2,1559.7 1688.2,1558.8 1689.9,1557.4 1691.5,1555.9 1693.3,1554.8 1695.1,1555.9 1696.9,1557.2 1699.0,1557.6 1701.1,1557.1 1702.9,1558.3 1704.7,1559.6 1706.8,1560.1 1708.8,1559.3 1710.8,1559.3 1712.1,1561.1 1713.5,1562.8 1714.9,1564.4 1716.2,1566.3 1716.6,1568.4 1717.5,1570.4 1718.1,1572.5 1719.2,1574.4 1721.0,1575.7 1723.1,1576.2 1725.1,1576.9 1726.4,1578.7 1727.7,1580.4 1729.6,1581.5 1731.8,1581.6 1734.0,1581.5 1736.1,1581.4 1738.0,1580.3 1740.0,1580.4 1741.2,1582.3 1742.8,1583.8 1744.7,1584.9 1746.4,1586.2 1748.3,1587.4 1750.4,1587.5 1752.3,1586.4 1753.9,1584.8 1754.9,1582.9 1754.7,1580.8 1753.6,1578.9 1753.2,1576.9 1754.7,1575.4 1756.8,1575.5 1758.5,1576.9 1760.0,1578.6 1760.8,1580.6 1760.8,1582.7 1760.6,1584.8 1761.6,1586.8 1763.3,1588.1 1765.0,1589.5 1764.2,1591.3 1762.1,1591.7 1760.1,1592.8 1758.7,1594.5 1757.9,1596.5 1758.6,1598.6 1760.0,1600.3 1761.9,1601.4 1764.0,1601.4 1765.9,1600.4 1767.9,1600.4 1769.6,1601.7 1771.6,1602.7 1773.7,1603.6 1775.7,1604.3 1777.7,1605.1 1779.5,1606.4 1781.5,1607.2 1783.6,1607.6 1784.1,1609.6 1783.3,1611.6 1782.8,1613.8 1782.9,1615.9 1783.8,1617.9 1785.3,1619.6 1787.1,1620.8 1789.2,1621.2 1791.3,1620.3 1792.9,1618.8 1794.3,1617.2 1796.3,1617.2 1798.2,1618.3 1800.3,1618.5 1802.4,1618.4 1802.9,1620.3 1801.2,1621.7 1799.8,1623.4 1799.0,1625.4 1799.6,1627.5 1800.9,1629.2 1802.8,1630.3 1804.9,1630.5 1806.8,1629.4 1808.4,1627.9 1810.4,1627.8 1812.0,1629.4 1813.3,1631.2 1814.2,1633.2 1815.7,1634.8 1817.6,1635.7 1819.8,1635.8 1822.0,1635.5 1823.9,1634.4 1825.6,1632.9 1827.5,1633.4 1829.3,1634.7 1830.9,1636.3 1831.2,1638.3 1830.5,1640.3 1831.0,1642.4 1830.9,1644.5 1830.0,1646.5 1830.2,1648.7 1831.3,1650.6 1832.8,1652.2 1834.4,1653.7 1836.1,1655.0 1837.8,1656.4 1839.5,1657.8 1841.4,1658.9 1843.6,1658.9 1845.7,1658.4 1847.8,1657.8 1849.8,1656.9 1851.9,1656.5 1853.9,1655.4 1855.8,1654.6 1858.0,1654.4 1860.1,1654.2 1861.7,1655.8 1862.8,1657.6 1864.3,1659.2 1865.1,1661.1 1864.1,1663.1 1863.3,1665.2 1863.1,1667.3 1864.1,1669.3 1865.5,1670.9 1867.1,1672.4 1868.6,1674.0 1869.8,1675.8 1869.9,1678.0 1870.9,1680.0 1872.5,1681.5 1874.5,1682.2 1876.7,1682.0 1878.6,1683.0 1880.2,1684.5 1881.9,1685.9 1883.9,1686.7 1885.9,1687.4 1886.5,1689.4 1886.6,1691.6 1887.7,1693.5 1889.4,1694.9 1891.4,1695.9 1893.5,1695.9 1895.4,1694.9 1897.5,1694.9 1899.0,1696.5 1898.4,1698.5 1897.3,1700.4 1896.8,1702.5 1897.2,1704.6 1898.1,1706.6 1899.6,1708.2 1901.6,1709.2 1903.7,1709.8 1905.9,1709.8 1907.7,1711.0 1909.4,1712.4 1911.2,1713.6 1913.3,1714.2 1915.2,1715.2 1916.2,1717.2 1917.3,1719.1 1918.7,1720.7 1919.0,1722.9 1919.8,1724.9 1921.4,1726.4 1923.4,1727.2 1925.6,1727.7 1927.5,1728.7 1929.6,1729.1 1931.7,1729.2 1933.1,1730.9 1934.6,1732.5 1934.3,1734.5 1933.0,1736.3 1932.5,1738.4 1933.3,1740.4 1934.7,1742.1 1935.9,1744.0 1937.0,1745.9 1937.5,1748.0 1938.4,1750.0 1939.9,1751.6 1941.5,1753.0 1942.0,1755.2 1943.0,1757.1 1944.4,1758.8 1945.9,1760.4 1947.3,1762.1 1948.8,1763.7 1950.3,1765.3 1951.8,1767.0 1953.6,1768.1 1954.6,1769.9 1953.0,1771.4 1951.0,1770.7 1949.0,1770.0 1946.9,1770.8 1945.0,1771.9 1942.8,1771.8 1940.8,1771.1 1939.3,1769.5 1937.9,1767.8 1935.9,1766.7 1933.8,1766.8 1931.9,1767.8 1929.8,1767.4 1927.8,1766.6 1925.7,1767.1 1923.9,1768.4 1922.2,1769.8 1920.2,1769.5 1919.1,1767.7 1919.8,1765.6 1919.8,1763.5 1918.7,1761.6 1917.1,1760.0 1915.3,1758.9 1913.1,1758.4 1911.4,1757.1 1910.0,1755.4 1908.4,1754.0 1906.4,1753.0 1904.5,1751.9 1902.7,1750.6 1900.7,1750.0 1898.6,1750.7 1896.7,1751.9 1894.8,1751.2 1892.8,1750.2 1890.7,1749.5 1888.5,1749.4 1886.5,1750.2 1884.8,1751.6 1883.0,1752.8 1880.8,1753.2 1878.9,1752.2 1876.8,1751.4 1874.8,1750.6 1874.2,1748.6 1873.6,1746.5 1872.5,1744.5 1870.8,1743.2 1868.8,1742.6 1866.7,1743.4 1865.0,1744.7 1863.0,1744.3 1861.5,1742.8 1860.6,1740.8 1859.7,1738.8 1858.2,1737.1 1856.7,1735.5 1855.3,1733.8 1853.7,1732.4 1851.7,1731.5 1849.5,1731.3 1847.6,1730.3 1845.4,1730.1 1843.3,1730.6 1841.5,1729.4 1839.6,1728.3 1837.5,1727.9 1835.6,1726.9 1834.0,1725.4 1832.5,1723.8 1831.1,1722.1 1829.3,1720.9 1827.1,1720.4 1825.0,1721.0 1823.1,1722.0 1821.1,1722.6 1820.1,1720.8 1819.4,1718.7 1818.0,1717.0 1816.1,1715.9 1814.9,1714.1 1815.1,1711.9 1814.2,1709.9 1812.9,1708.2 1811.2,1706.7 1809.3,1705.7 1807.2,1705.9 1805.3,1707.1 1803.4,1707.5 1801.7,1706.1 1800.4,1704.3 1798.6,1703.0 1796.5,1702.4 1794.7,1701.4 1793.4,1699.6 1792.3,1697.7 1790.9,1695.9 1789.2,1694.6 1787.5,1693.3 1786.0,1691.7 1784.5,1690.0 1782.5,1689.1 1780.4,1688.5 1778.6,1687.3 1776.5,1686.5 1774.5,1687.3 1772.7,1688.6 1770.8,1689.0 1769.3,1687.4 1768.1,1685.6 1766.3,1684.4 1764.1,1684.2 1762.1,1685.1 1760.2,1684.5 1759.1,1682.6 1758.6,1680.4 1757.8,1678.4 1756.6,1676.5 1757.0,1674.4 1756.5,1672.3 1755.2,1670.6 1753.5,1669.2 1751.6,1668.0 1749.5,1667.5 1747.5,1668.3 1745.5,1669.3 1743.7,1668.1 1741.8,1666.9 1739.7,1666.4 1737.6,1666.7 1735.7,1667.8 1733.8,1669.0 1731.7,1668.5 1729.6,1668.2 1729.2,1666.3 1730.8,1664.9 1732.4,1663.3 1733.4,1661.4 1733.2,1659.3 1732.0,1657.4 1730.4,1656.0 1728.4,1655.1 1726.3,1655.6 1724.2,1656.0 1722.0,1655.6 1719.9,1655.2 1718.5,1653.6 1719.2,1651.7 1720.6,1650.0 1721.5,1648.0 1721.0,1645.9 1719.7,1644.2 1718.0,1642.8 1717.1,1640.8 1716.2,1638.8 1714.6,1637.3 1712.6,1636.5 1710.4,1636.7 1708.2,1636.5 1706.2,1637.4 1704.3,1638.5 1702.4,1638.1 1701.4,1636.1 1701.1,1634.0 1700.7,1631.9 1699.6,1630.0 1699.7,1627.9 1700.6,1625.9 1700.2,1623.8 1699.0,1621.9 1697.1,1620.8 1695.1,1620.0 1692.9,1620.3 1691.0,1621.4 1689.4,1622.9 1687.5,1624.0 1685.9,1625.5 1683.9,1626.1 1682.9,1624.3 1683.5,1622.2 1683.1,1620.1 1681.9,1618.3 1680.1,1617.0 1678.0,1616.4 1676.0,1615.4 1674.2,1614.3 1672.0,1614.2 1670.0,1615.0 1668.1,1614.0 1666.7,1612.3 1667.1,1610.2 1667.5,1608.1 1666.6,1606.1 1664.9,1604.6 1663.4,1603.1 1663.5,1600.9 1663.1,1598.8 1663.3,1596.7 1663.3,1594.5 1662.2,1592.6 1660.6,1591.1 1658.7,1590.1 1656.6,1590.5 1654.7,1591.7 1653.4,1593.4 1652.0,1595.1 1650.2,1594.4 1649.5,1592.3 1649.6,1590.2 1650.5,1588.2 1650.1,1586.1 1648.9,1584.3 1647.1,1583.0 1645.0,1582.3 1643.1,1581.1 1641.2,1580.1 1639.0,1579.9 1637.8,1578.3 1638.1,1576.1 1637.3,1574.1 1635.9,1572.4 1634.2,1571.0 1633.0,1569.2 1633.2,1567.0 1632.7,1564.9 1631.6,1563.0 1629.7,1561.9 1627.7,1561.1 1626.3,1559.5 1627.2,1557.5 1627.6,1555.4 1626.7,1553.4 1625.3,1551.7 1623.3,1550.7 1621.2,1550.7 1619.3,1551.7 1617.5,1553.0 1615.4,1553.2 1614.3,1551.4 1615.4,1549.6 1617.1,1548.2 1618.3,1546.4 1619.8,1544.8 1621.8,1544.0 1623.8,1543.0 1625.2,1541.3 1626.1,1539.3 1626.3,1537.2 1627.8,1535.5 1629.2,1533.9 1630.0,1531.8 1630.0,1529.7Z" fill="#9E9E9E" fill-rule="evenodd"/>
<polyline points="1845.5,1658.7 1783.7,1685.7 1702.1,1637.5 1985.1,1777.5 1635.1,1523.6 1619.5,1531.4 1923.7,1767.9 1725.5,1575.3 1624.9,1531.8 1790.8,1625.3 1850.0,1661.6 1830.4,1655.8 1940.5,1705.6 1885.1,1746.6 1894.0,1706.6 1786.1,1708.7 1716.2,1636.2 1698.2,1616.7 1759.3,1681.5 1719.4,1562.5 1710.9,1558.3 1715.4,1566.7 1838.5,1657.4 1891.5,1696.5 1683.3,1614.8 1692.0,1618.0 1722.1,1648.7 1870.9,1682.3 1808.8,1739.3 1756.8,1575.7 1735.0,1655.4 1682.6,1562.9 1827.6,1650.6 1673.4,1609.4 1666.5,1612.0 1664.8,1553.8 1929.1,1713.2 1940.2,1756.1 1920.0,1762.4 1872.5,1682.4 1909.6,1702.7 1805.0,1632.0 1807.4,1619.6 1894.1,1746.6 1860.8,1655.1 1704.4,1626.3 1735.3,1677.7 1778.7,1685.7 1851.1,1651.5 1916.0,1718.6 1768.8,1602.5 1665.1,1602.8 1722.5,1660.8 1765.3,1682.1 1787.3,1693.5 1802.7,1633.9 1915.8,1713.6 1809.9,1701.4 1669.6,1615.0 1634.0,1531.2 1710.8,1636.4 1709.7,1545.8 1949.4,1781.6 1857.1,1735.9 1779.7,1617.6 1846.3,1735.0 1803.7,1713.1 1922.7,1730.0 1787.8,1688.3 1909.6,1713.1 1663.7,1541.7 1984.7,1772.7 1913.3,1754.0 1842.0,1727.8 1689.3,1561.3 1831.3,1637.2 1678.3,1621.7 1836.2,1659.1 1723.2,1646.1 1896.5,1701.1 1749.5,1589.8 1652.0,1595.5 1883.0,1666.2 1815.9,1639.5 1751.3,1570.8 1819.7,1636.2 1806.5,1633.7 1935.2,1771.4 1725.4,1576.8 1676.4,1556.6 1948.9,1775.2 1895.6,1750.5 1618.3,1551.8 1836.0,1724.1 1837.7,1724.9 1664.1,1592.3 1631.9,1558.2 1892.5,1748.0 1892.1,1749.4 1647.3,1579.4 1625.9,1561.4 1793.3,1620.0 1741.8,1558.5 1873.0,1682.4 1662.8,1603.6 1830.9,1656.0 1905.5,1749.8 1729.1,1654.3 1630.0,1541.7 1909.4,1751.6 1680.2,1557.9 1829.6,1649.4 1689.9,1634.5 1812.9,1590.4 1620.6,1548.4 1632.1,1532.1 1701.9,1545.5 1694.1,1615.8 1618.9,1546.4 1751.4,1665.1 1886.2,1674.8 1947.2,1754.5 1923.6,1763.9 1662.5,1590.5 1665.9,1550.6 1616.6,1536.0 1785.8,1623.4 1749.3,1712.6 1886.7,1686.5 1809.9,1627.7 1610.1,1554.2 1940.5,1767.3 1966.4,1777.9 1801.3,1701.7 1699.2,1629.1 1653.7,1529.9 1913.5,1755.5 1846.8,1741.7 1726.9,1652.9 1714.8,1636.4 1795.9,1630.1 1843.4,1645.4 1676.3,1614.9 1858.5,1665.9 1742.1,1665.4 1761.1,1678.1 1879.0,1683.8 1865.7,1755.6 1830.8,1729.2 1815.9,1726.6 1732.8,1657.6 1814.5,1634.6 1940.1,1758.3 1782.0,1609.3 1635.3,1564.3 1922.3,1728.6 1676.9,1556.3 1904.2,1750.9 1825.9,1632.1 1783.9,1618.9 1783.3,1607.3 1918.6,1721.1 1736.0,1677.2 1753.8,1597.4 1657.5,1547.3 1886.9,1693.4 1855.5,1635.0 1788.9,1625.3 1654.1,1541.7 1963.7,1763.5 1736.0,1661.6 1608.0,1542.7 1859.6,1642.7 1687.5,1543.2 1803.9,1625.7 1669.0,1552.2 1801.2,1718.4 1897.5,1748.2 1899.0,1748.3 1836.7,1660.4 1873.2,1685.7 1783.1,1621.3 1930.9,1740.8 1829.6,1652.8 1700.4,1621.7 1703.0,1630.0 1820.5,1723.9 1836.0,1655.3 1688.9,1559.3 1689.1,1622.7 1783.2,1610.7 1774.0,1684.7 1618.7,1579.5 1745.3,1669.4 1684.4,1626.7 1782.3,1612.9 1880.0,1688.7 1702.5,1640.7 1755.4,1665.9 1615.3,1552.8 1652.6,1593.9 1827.1,1636.8 1698.0,1619.1 1623.5,1544.6 1909.0,1764.2 1671.3,1553.1 1730.2,1655.1 1899.1,1745.9 1668.4,1551.5 1777.7,1608.6 1935.5,1733.0 1823.5,1718.2 1674.8,1551.2 1718.5,1640.2 1851.4,1728.8 1638.9,1536.0 1868.5,1678.9 1695.9,1616.2 1813.9,1704.4 1624.4,1543.4 1934.3,1742.1 1697.4,1620.2 1856.9,1657.5 1872.0,1753.0 1720.0,1577.7 1934.4,1742.5 1695.1,1616.1 1653.2,1589.0 1761.6,1602.3 1628.2,1555.1 1906.6,1710.0 1918.8,1761.0 1956.0,1768.6 1742.8,1586.6 1908.1,1716.4 1655.4,1523.7 1803.2,1737.1 1700.9,1618.5 1625.6,1551.2 1825.2,1720.3 1777.1,1604.8 1936.0,1745.1 1843.4,1739.8 1723.1,1645.1 1833.3,1721.3 1779.4,1616.0 1719.8,1637.4 1869.7,1675.0 1886.3,1697.3 1803.0,1619.2 1701.7,1621.3 1641.5,1573.0 1727.1,1581.2 1864.4,1671.6 1897.0,1705.6 1835.3,1657.3 1932.3,1745.5 1744.0,1667.8 1859.8,1668.9 1751.8,1567.8 1664.4,1546.4 1946.3,1735.2 1893.5,1703.8 1930.9,1744.1 1822.0,1714.9 1833.7,1655.6 1710.4,1562.6 1779.5,1614.1 1932.3,1732.4 1913.4,1717.1 1944.0,1764.8 1783.7,1607.1 1851.1,1730.3 1900.9,1772.2 1677.1,1613.9 1595.5,1523.8 1658.4,1546.6 1795.7,1702.3 1760.8,1581.6 1884.7,1692.0 1794.6,1609.6 1734.0,1668.8 1896.5,1694.7 1639.1,1569.5 1768.7,1594.3 1826.6,1649.2 1693.6,1554.1 1944.1,1730.4 1702.4,1622.1 1645.5,1587.7 1757.6,1688.3 1701.3,1634.7 1921.0,1707.8 1943.0,1769.7 1877.0,1682.2 1817.9,1711.6 1899.1,1749.5 1694.3,1617.2 1819.6,1710.9 1901.6,1709.7 1875.0,1686.0 1765.4,1589.1 1635.7,1563.6 1605.9,1534.6 1812.0,1600.0 1884.6,1689.9 1701.5,1619.0 1902.8,1680.5 1900.5,1709.6 1636.8,1580.4 1754.1,1667.9 1808.0,1701.9 1886.3,1688.2 1738.4,1666.1 1953.3,1794.8 1814.9,1715.2 1912.8,1718.6 1838.2,1733.0 1951.5,1709.2 1873.0,1741.8 1923.3,1690.1 1734.1,1686.0 1732.9,1581.7 1946.9,1765.2 1720.2,1578.7 1812.6,1630.4 1701.5,1620.4 1780.1,1614.9 1865.6,1660.1 1831.1,1643.4 1649.5,1595.7 1732.9,1565.2 1770.0,1688.3 1904.2,1712.1 1633.1,1533.5 1727.3,1580.7 1782.5,1616.0 1778.5,1684.7 1776.6,1698.8 1829.5,1641.3 1760.1,1687.5 1781.5,1688.4 1759.6,1592.4 1854.0,1728.9 1831.3,1652.1 1752.5,1667.6 1814.5,1706.1 1950.3,1739.5 1669.4,1555.6 1794.7,1625.1 1739.9,1578.5 1845.5,1727.6 1842.8,1661.9 1781.3,1613.4 1724.6,1578.7 1692.4,1616.9 1686.4,1622.2 1699.6,1644.9 1792.1,1696.7 1860.9,1742.2 1841.6,1638.5 1907.2,1765.6 1909.1,1752.5 1904.6,1747.3 1932.0,1743.1 1633.3,1564.1 1779.1,1686.7 1660.2,1586.9 1843.8,1661.9 1929.0,1736.6 1719.7,1654.4 1943.9,1760.6 1774.3,1685.4 1630.7,1561.7 1857.0,1649.3 1639.9,1538.6 1658.1,1547.2 1642.0,1579.8 1832.1,1652.1 1882.7,1690.5 1729.0,1565.4 1769.2,1692.5 1932.5,1764.9 1829.1,1636.1 1629.8,1591.9 1748.0,1590.5 1855.7,1733.2 1901.2,1760.4 1921.8,1728.8 1653.6,1546.3 1862.7,1736.6 1761.8,1681.6 1888.9,1697.9 1729.6,1651.5 1799.5,1613.3 1776.8,1699.0 1634.7,1571.3 1712.6,1652.2 1874.3,1655.6 1830.8,1653.6 1686.4,1563.6 1773.0,1699.7 1738.5,1581.4 1769.7,1604.1 1626.6,1559.4 1693.2,1617.5 1717.3,1642.5 1892.5,1701.8 1644.0,1540.5 1799.5,1630.8 1831.4,1721.7 1629.8,1534.1 1793.8,1622.0 1893.0,1705.0 1896.2,1709.8 1830.1,1653.7 1806.3,1704.3 1754.2,1585.1 1883.9,1752.1 1713.5,1632.8 1756.8,1676.7 1895.4,1709.5 1875.4,1683.2 1834.4,1658.9 1880.8,1753.1 1619.0,1544.3 1630.3,1533.0 1951.8,1768.3 1755.5,1589.3 1942.3,1721.6 1824.9,1740.9 1931.3,1729.0 1864.3,1744.9 1807.4,1703.5 1667.9,1602.3 1826.6,1641.5 1717.4,1571.1 1811.5,1704.0 1762.1,1605.7 1827.8,1648.6 1681.2,1552.5 1779.4,1619.3 1658.2,1595.4 1884.3,1689.1 1699.4,1561.6 1829.1,1719.6 1634.6,1584.3 1919.1,1725.1 1745.0,1585.5 1794.2,1699.8 1756.9,1671.0 1765.4,1604.3 1811.8,1633.2 1685.1,1560.4 1896.3,1751.8 1757.8,1598.2 1693.8,1616.7 1665.7,1552.2 1642.1,1575.9 1721.9,1641.4 1625.6,1546.4 1907.8,1712.4 1888.3,1673.7 1681.2,1558.6 1865.7,1671.5 1720.6,1637.8 1906.0,1710.5 1800.1,1621.9 1945.2,1701.1 1778.9,1617.9 1631.4,1527.3 1607.6,1531.3 1888.1,1749.1 1928.6,1763.7 1651.1,1532.5 1922.7,1774.9 1707.1,1636.2 1820.5,1719.3 1726.4,1581.8 1729.2,1666.4 1812.7,1707.6 1633.2,1568.7 1585.4,1522.3 1833.2,1653.5 1875.6,1750.7 1696.5,1617.0 1757.5,1596.4 1861.3,1735.9 1873.7,1745.6 1681.1,1552.9 1894.9,1706.0 1772.1,1603.1 1756.7,1671.5 1701.6,1557.0 1897.4,1747.5 1831.1,1653.0 1783.4,1619.2 1681.7,1559.3 1837.6,1656.9 1878.3,1686.4 1927.8,1737.6 1691.6,1620.2 1823.4,1717.1 1899.5,1696.9 1659.6,1588.6 1760.4,1673.6 1898.8,1749.1 1694.1,1619.2 1736.9,1565.8 1895.6,1750.2 1619.2,1507.1 1869.1,1674.7 1952.9,1771.2 1798.1,1631.2 1662.4,1547.1 1819.0,1724.2 1711.8,1548.2 1886.6,1686.5 1652.2,1588.7 1942.4,1747.8 1942.0,1771.5 1609.0,1547.6 1664.7,1535.0 1680.4,1560.5 1904.7,1751.6 1927.3,1763.6 1791.8,1596.3 1976.9,1774.7 1783.5,1685.9 1929.5,1718.8 1781.0,1685.5 1798.9,1620.7 1833.0,1623.5 1768.3,1594.8 1701.8,1630.8 1650.6,1539.0 1753.4,1668.5 1626.2,1551.8 1762.8,1591.0 1708.5,1562.2 1794.1,1698.0 1895.6,1705.5 1801.9,1705.5 1887.9,1745.4 1880.9,1673.2 1949.1,1763.9 1700.6,1618.1 1728.3,1668.8 1796.8,1628.7 1753.2,1578.0 1938.6,1710.2 1908.5,1712.6 1886.9,1745.6 1662.8,1588.5 1867.1,1677.0 1858.0,1730.6 1803.4,1710.8 1776.7,1691.3 1924.2,1765.2 1823.0,1717.3 1866.9,1681.4 1759.7,1578.3 1909.6,1754.3 1925.3,1727.6 1850.4,1730.3 1616.2,1560.6 1653.2,1539.7 1779.0,1685.0 1623.7,1546.3 1905.8,1715.3 1686.8,1563.4 1918.0,1682.8 1701.7,1619.0 1894.9,1706.2 1918.9,1768.3 1792.0,1606.0 1643.0,1576.9 1863.3,1663.9 1874.2,1742.4 1879.1,1750.0 1690.2,1557.5 1794.0,1618.2 1871.3,1740.1 1626.9,1538.7 1916.9,1759.3 1829.8,1635.7 1714.9,1652.9 1901.6,1712.6 1810.1,1705.3 1896.4,1746.9 1940.3,1759.2 1931.0,1767.9 1903.8,1748.3 1605.0,1526.6 1721.3,1650.0 1672.5,1538.9 1747.0,1591.4 1898.7,1697.1 1663.6,1545.2 1577.0,1493.0 1583.0,1520.0 1594.0,1519.0 1560.0,1534.0" fill="none" stroke="none" marker-start="url(#rg)" marker-mid="url(#rg)" marker-end="url(#rg)"/>
<path d="M1666.0,1559.0 1670.0,1558.7 1674.0,1559.0 1677.9,1559.6 1681.8,1560.5 1685.7,1561.5 1689.5,1562.7 1693.3,1564.0 1697.1,1565.4 1700.9,1566.6 1704.7,1567.8 1708.4,1569.3 1712.1,1570.9 1715.7,1572.7 1719.3,1574.4 1723.0,1575.9 1726.7,1577.4 1730.4,1579.0 1734.0,1580.8 1737.4,1582.8 1740.8,1585.0 1744.1,1587.2 1747.5,1589.4 1750.9,1591.5 1754.3,1593.6 1757.8,1595.6 1761.3,1597.6 1764.8,1599.5 1768.4,1601.3 1771.9,1603.1 1775.5,1604.9 1779.1,1606.7 1782.6,1608.7 1786.0,1610.8 1789.4,1612.9 1792.7,1615.1 1796.1,1617.2 1799.5,1619.4 1802.8,1621.7 1806.1,1624.0 1809.3,1626.4 1812.5,1628.7 1815.8,1631.0 1819.1,1633.2 1822.5,1635.4 1825.8,1637.7 1829.0,1640.1 1832.1,1642.7 1835.1,1645.2 1838.2,1647.8 1841.2,1650.5 1844.2,1653.1 1847.2,1655.7 1850.3,1658.3 1853.5,1660.7 1856.8,1663.0 1860.1,1665.2 1863.4,1667.5 1866.5,1670.0 1869.4,1672.8 1872.1,1675.8 1874.6,1678.9 1876.9,1682.2 1879.2,1685.5 1881.5,1688.7 1883.9,1692.0 1886.5,1695.0 1889.4,1697.7 1892.5,1700.3 1895.5,1702.9 1898.6,1705.5 1901.6,1708.2 1904.4,1711.0 1906.8,1714.2 1908.6,1717.8 1909.4,1721.7 1909.2,1725.7 1908.1,1729.5 1906.2,1733.0 1903.4,1735.8 1899.8,1737.7 1896.0,1738.7 1892.0,1739.1 1888.0,1739.1 1884.0,1738.8 1880.0,1738.3 1876.0,1737.7 1872.1,1736.9 1868.2,1736.1 1864.3,1735.1 1860.5,1733.9 1856.7,1732.5 1853.0,1731.0 1849.4,1729.4 1845.7,1727.7 1842.1,1726.0 1838.5,1724.3 1834.9,1722.6 1831.3,1720.8 1827.6,1719.2 1823.9,1717.7 1820.2,1716.1 1816.5,1714.5 1813.0,1712.7 1809.5,1710.7 1806.2,1708.4 1803.0,1706.0 1799.7,1703.7 1796.4,1701.5 1793.0,1699.4 1789.5,1697.4 1786.0,1695.4 1782.5,1693.5 1779.0,1691.5 1775.7,1689.3 1772.5,1686.9 1769.4,1684.3 1766.3,1681.8 1763.1,1679.4 1759.8,1677.1 1756.5,1674.9 1753.2,1672.7 1749.9,1670.4 1746.6,1668.0 1743.4,1665.6 1740.2,1663.2 1736.9,1661.0 1733.5,1658.8 1730.2,1656.6 1726.9,1654.3 1724.0,1651.6 1721.2,1648.8 1718.4,1645.9 1715.5,1643.1 1712.5,1640.4 1709.4,1637.9 1706.3,1635.4 1703.1,1632.9 1699.9,1630.5 1696.8,1628.0 1693.7,1625.5 1690.7,1622.8 1687.8,1620.0 1685.0,1617.2 1682.2,1614.3 1679.4,1611.4 1676.8,1608.5 1674.3,1605.3 1672.2,1601.9 1670.2,1598.4 1668.2,1594.9 1666.2,1591.5 1664.0,1588.1 1661.7,1584.8 1659.6,1581.4 1657.8,1577.9 1656.5,1574.1 1656.1,1570.1 1657.0,1566.2 1659.2,1562.9 1662.3,1560.4ZM1677.0,1573.0 1681.0,1572.6 1684.9,1573.3 1688.8,1574.4 1692.7,1575.3 1696.7,1576.1 1700.6,1576.7 1704.6,1577.5 1708.5,1578.4 1712.4,1579.4 1716.3,1580.5 1720.1,1581.7 1723.9,1583.0 1727.7,1584.5 1731.3,1586.2 1734.8,1588.1 1738.3,1590.2 1741.7,1592.3 1745.1,1594.4 1748.6,1596.4 1752.1,1598.4 1755.6,1600.3 1759.2,1602.2 1762.8,1604.0 1766.4,1605.8 1770.0,1607.6 1773.5,1609.5 1777.0,1611.5 1780.5,1613.5 1783.9,1615.6 1787.4,1617.7 1790.8,1619.9 1794.2,1622.0 1797.5,1624.3 1800.8,1626.6 1804.0,1629.0 1807.2,1631.5 1810.4,1633.9 1813.6,1636.3 1816.9,1638.6 1820.3,1640.9 1823.5,1643.2 1826.7,1645.6 1829.8,1648.2 1832.9,1650.8 1835.9,1653.5 1838.9,1656.2 1841.9,1658.8 1845.1,1661.3 1848.3,1663.7 1851.6,1666.0 1854.9,1668.4 1858.1,1670.8 1861.1,1673.4 1863.9,1676.3 1866.6,1679.3 1869.0,1682.5 1871.3,1685.8 1873.5,1689.2 1875.5,1692.7 1877.6,1696.1 1879.9,1699.5 1882.3,1702.6 1884.9,1705.7 1887.3,1708.9 1889.5,1712.3 1891.2,1716.0 1891.5,1719.9 1889.7,1723.5 1886.6,1726.0 1882.8,1727.4 1878.8,1727.9 1874.8,1727.9 1870.8,1727.5 1866.9,1726.8 1863.0,1725.8 1859.2,1724.5 1855.4,1723.0 1851.7,1721.4 1848.1,1719.7 1844.4,1718.1 1840.7,1716.6 1836.9,1715.3 1833.0,1714.0 1829.2,1712.8 1825.4,1711.5 1821.6,1710.1 1818.0,1708.4 1814.5,1706.4 1811.1,1704.2 1807.8,1702.0 1804.4,1699.8 1801.0,1697.7 1797.5,1695.7 1794.0,1693.7 1790.4,1691.8 1786.9,1689.8 1783.4,1687.8 1780.1,1685.6 1776.8,1683.3 1773.6,1680.9 1770.3,1678.5 1767.1,1676.2 1763.8,1673.9 1760.4,1671.6 1757.1,1669.3 1753.9,1667.0 1750.7,1664.5 1747.5,1662.1 1744.3,1659.6 1741.0,1657.4 1737.6,1655.1 1734.3,1652.8 1731.2,1650.3 1728.2,1647.6 1725.4,1644.7 1722.5,1641.9 1719.5,1639.2 1716.5,1636.5 1713.5,1633.8 1710.6,1631.1 1707.6,1628.4 1704.6,1625.7 1701.7,1622.9 1699.0,1619.9 1696.4,1616.9 1693.7,1613.9 1690.8,1611.1 1688.0,1608.2 1685.3,1605.2 1682.9,1602.0 1680.9,1598.5 1679.1,1594.9 1677.5,1591.2 1676.2,1587.4 1675.0,1583.6 1674.0,1579.7 1674.2,1575.7ZM1696.0,1585.0 1700.0,1584.6 1704.0,1584.5 1708.1,1584.7 1712.1,1585.1 1716.0,1585.8 1720.0,1586.6 1723.8,1587.8 1727.6,1589.3 1731.2,1591.0 1734.7,1592.9 1738.2,1594.9 1741.7,1596.9 1745.3,1598.9 1748.8,1600.7 1752.4,1602.6 1756.0,1604.3 1759.6,1606.1 1763.2,1607.9 1766.8,1609.8 1770.3,1611.7 1773.8,1613.8 1777.3,1615.8 1780.7,1617.9 1784.2,1620.0 1787.6,1622.1 1791.1,1624.2 1794.4,1626.4 1797.7,1628.7 1800.9,1631.2 1804.1,1633.7 1807.2,1636.2 1810.4,1638.6 1813.7,1640.9 1817.1,1643.2 1820.4,1645.5 1823.6,1647.9 1826.6,1650.5 1829.6,1653.3 1832.6,1656.0 1835.6,1658.7 1838.7,1661.3 1841.8,1663.7 1845.1,1666.1 1848.3,1668.5 1851.5,1671.0 1854.6,1673.5 1857.6,1676.3 1860.3,1679.2 1862.9,1682.3 1865.3,1685.5 1867.4,1689.0 1869.2,1692.6 1870.7,1696.3 1872.1,1700.1 1873.4,1703.9 1874.7,1707.7 1875.5,1711.6 1874.4,1715.4 1870.9,1717.4 1866.9,1717.8 1862.9,1717.3 1859.0,1716.5 1855.1,1715.3 1851.3,1714.2 1847.4,1713.0 1843.5,1712.0 1839.6,1711.0 1835.7,1710.0 1831.9,1708.9 1828.0,1707.7 1824.2,1706.3 1820.6,1704.6 1817.0,1702.7 1813.5,1700.7 1810.1,1698.6 1806.6,1696.5 1803.2,1694.5 1799.6,1692.6 1796.1,1690.7 1792.5,1688.8 1789.0,1686.8 1785.6,1684.7 1782.2,1682.5 1778.9,1680.2 1775.6,1677.9 1772.3,1675.6 1769.0,1673.3 1765.7,1671.0 1762.3,1668.8 1759.0,1666.5 1755.8,1664.1 1752.6,1661.6 1749.5,1659.1 1746.3,1656.6 1743.0,1654.3 1739.6,1652.0 1736.4,1649.6 1733.4,1647.0 1730.5,1644.2 1727.6,1641.4 1724.6,1638.7 1721.6,1636.0 1718.7,1633.2 1715.8,1630.4 1713.1,1627.5 1710.3,1624.5 1707.7,1621.4 1705.2,1618.3 1702.8,1615.1 1700.1,1612.1 1697.3,1609.2 1694.4,1606.4 1691.8,1603.3 1689.7,1599.9 1688.3,1596.1 1687.7,1592.1 1688.9,1588.4 1692.1,1586.0ZM1704.0,1591.0 1708.0,1590.3 1712.0,1590.2 1716.0,1590.5 1720.0,1591.2 1723.8,1592.3 1727.6,1593.7 1731.3,1595.3 1734.9,1597.1 1738.4,1598.9 1742.0,1600.7 1745.7,1602.5 1749.3,1604.2 1752.9,1605.9 1756.6,1607.7 1760.2,1609.4 1763.7,1611.3 1767.2,1613.3 1770.7,1615.3 1774.1,1617.4 1777.6,1619.4 1781.1,1621.5 1784.6,1623.5 1788.0,1625.6 1791.4,1627.8 1794.7,1630.1 1797.9,1632.5 1801.0,1635.0 1804.1,1637.6 1807.3,1640.0 1810.6,1642.4 1813.9,1644.6 1817.2,1646.9 1820.4,1649.3 1823.5,1651.9 1826.5,1654.6 1829.4,1657.4 1832.3,1660.2 1835.4,1662.8 1838.5,1665.3 1841.7,1667.7 1844.9,1670.1 1848.1,1672.6 1851.1,1675.3 1854.0,1678.0 1856.8,1681.0 1859.3,1684.1 1861.5,1687.4 1863.3,1691.0 1864.5,1694.9 1864.9,1698.9 1864.2,1702.8 1862.2,1706.2 1858.6,1708.1 1854.7,1708.6 1850.6,1708.5 1846.6,1708.1 1842.7,1707.5 1838.7,1706.7 1834.8,1705.8 1830.9,1704.8 1827.1,1703.5 1823.4,1701.9 1819.8,1700.2 1816.2,1698.3 1812.7,1696.4 1809.2,1694.4 1805.7,1692.4 1802.1,1690.5 1798.6,1688.7 1795.0,1686.8 1791.5,1684.8 1788.1,1682.7 1784.7,1680.5 1781.4,1678.3 1778.1,1676.0 1774.7,1673.7 1771.4,1671.5 1768.0,1669.3 1764.7,1667.1 1761.4,1664.8 1758.2,1662.3 1755.0,1659.8 1751.9,1657.3 1748.7,1654.9 1745.4,1652.5 1742.2,1650.2 1739.0,1647.7 1736.0,1645.0 1733.1,1642.2 1730.1,1639.5 1727.1,1636.8 1724.2,1634.1 1721.3,1631.3 1718.6,1628.3 1716.1,1625.2 1713.7,1622.0 1711.4,1618.6 1709.2,1615.3 1706.9,1612.0 1704.2,1609.0 1701.5,1606.0 1699.0,1602.9 1697.3,1599.3 1697.6,1595.3 1700.3,1592.5ZM1714.0,1595.9 1718.0,1595.9 1722.0,1596.5 1725.9,1597.5 1729.7,1598.8 1733.5,1600.3 1737.2,1601.8 1740.9,1603.4 1744.6,1605.1 1748.3,1606.7 1751.9,1608.3 1755.6,1609.9 1759.2,1611.7 1762.8,1613.6 1766.2,1615.7 1769.7,1617.8 1773.1,1619.8 1776.6,1621.8 1780.1,1623.8 1783.6,1625.8 1787.1,1627.9 1790.4,1630.1 1793.7,1632.5 1796.9,1635.0 1800.0,1637.5 1803.1,1640.1 1806.3,1642.5 1809.6,1644.8 1812.9,1647.1 1816.2,1649.4 1819.4,1651.9 1822.4,1654.6 1825.3,1657.4 1828.2,1660.2 1831.1,1662.9 1834.2,1665.5 1837.3,1668.0 1840.5,1670.5 1843.7,1673.0 1846.7,1675.6 1849.7,1678.4 1852.4,1681.3 1854.9,1684.4 1857.1,1687.8 1858.6,1691.6 1859.0,1695.6 1857.8,1699.4 1854.9,1702.1 1851.1,1703.5 1847.1,1703.9 1843.1,1703.8 1839.1,1703.3 1835.2,1702.5 1831.3,1701.5 1827.4,1700.2 1823.7,1698.7 1820.1,1697.0 1816.5,1695.2 1812.9,1693.3 1809.4,1691.4 1805.8,1689.5 1802.2,1687.7 1798.7,1685.8 1795.1,1683.9 1791.7,1681.8 1788.3,1679.7 1784.9,1677.5 1781.6,1675.2 1778.2,1673.0 1774.9,1670.7 1771.5,1668.6 1768.1,1666.4 1764.7,1664.1 1761.5,1661.8 1758.3,1659.3 1755.2,1656.7 1752.0,1654.2 1748.8,1651.8 1745.6,1649.5 1742.4,1647.0 1739.4,1644.3 1736.4,1641.5 1733.5,1638.8 1730.5,1636.1 1727.5,1633.4 1724.7,1630.6 1722.1,1627.5 1719.7,1624.2 1717.6,1620.8 1715.6,1617.3 1713.8,1613.7 1711.9,1610.2 1709.7,1606.8 1707.7,1603.3 1707.2,1599.4 1710.1,1596.8ZM1722.0,1602.8 1726.0,1602.6 1730.0,1603.2 1733.9,1604.2 1737.7,1605.5 1741.5,1606.8 1745.3,1608.3 1749.1,1609.7 1752.8,1611.3 1756.5,1613.0 1760.0,1614.8 1763.5,1616.9 1767.0,1619.0 1770.4,1621.0 1774.0,1623.0 1777.5,1624.9 1781.0,1626.9 1784.5,1629.0 1787.9,1631.1 1791.2,1633.5 1794.4,1636.0 1797.5,1638.5 1800.6,1641.1 1803.7,1643.6 1807.0,1645.9 1810.4,1648.2 1813.7,1650.5 1816.9,1652.9 1819.9,1655.6 1822.8,1658.5 1825.6,1661.3 1828.5,1664.1 1831.5,1666.8 1834.6,1669.4 1837.8,1671.9 1840.9,1674.5 1843.9,1677.2 1846.8,1680.0 1849.4,1683.0 1851.7,1686.4 1853.3,1690.0 1853.5,1694.0 1851.5,1697.4 1848.0,1699.4 1844.0,1700.1 1840.0,1700.0 1836.0,1699.5 1832.0,1698.6 1828.2,1697.4 1824.4,1696.0 1820.7,1694.3 1817.1,1692.5 1813.5,1690.7 1809.9,1688.9 1806.3,1687.1 1802.7,1685.3 1799.1,1683.4 1795.6,1681.4 1792.2,1679.2 1788.8,1677.0 1785.5,1674.8 1782.1,1672.6 1778.7,1670.4 1775.3,1668.2 1771.9,1666.1 1768.5,1663.9 1765.1,1661.7 1761.9,1659.2 1758.8,1656.7 1755.7,1654.1 1752.5,1651.6 1749.2,1649.2 1746.0,1646.8 1743.0,1644.2 1740.0,1641.4 1737.1,1638.6 1734.2,1635.9 1731.2,1633.2 1728.3,1630.3 1725.7,1627.2 1723.5,1623.9 1721.6,1620.3 1720.1,1616.5 1718.9,1612.7 1718.1,1608.8 1718.7,1604.8ZM1728.0,1608.8 1732.0,1608.2 1736.0,1608.6 1739.9,1609.5 1743.8,1610.6 1747.6,1611.9 1751.4,1613.3 1755.0,1615.0 1758.6,1616.9 1762.1,1618.9 1765.5,1620.9 1769.1,1622.9 1772.6,1624.8 1776.2,1626.7 1779.7,1628.6 1783.2,1630.6 1786.6,1632.8 1789.8,1635.2 1793.0,1637.7 1796.0,1640.3 1799.1,1642.9 1802.3,1645.4 1805.6,1647.7 1809.0,1649.9 1812.3,1652.2 1815.4,1654.8 1818.4,1657.5 1821.2,1660.4 1824.0,1663.3 1826.9,1666.1 1829.8,1668.9 1832.9,1671.5 1836.0,1674.1 1839.0,1676.7 1841.9,1679.5 1844.6,1682.5 1846.9,1685.8 1848.2,1689.6 1847.3,1693.4 1844.0,1695.7 1840.1,1696.4 1836.1,1696.3 1832.1,1695.6 1828.2,1694.5 1824.5,1693.1 1820.8,1691.4 1817.1,1689.7 1813.5,1687.9 1809.9,1686.2 1806.2,1684.5 1802.7,1682.6 1799.1,1680.6 1795.7,1678.6 1792.3,1676.4 1788.9,1674.2 1785.6,1672.0 1782.2,1669.8 1778.8,1667.6 1775.3,1665.6 1771.9,1663.5 1768.5,1661.3 1765.2,1659.0 1762.0,1656.5 1758.9,1653.9 1755.8,1651.4 1752.6,1648.9 1749.4,1646.5 1746.3,1643.9 1743.3,1641.1 1740.5,1638.3 1737.6,1635.5 1734.7,1632.7 1731.8,1629.9 1729.3,1626.8 1727.2,1623.3 1725.8,1619.5 1725.0,1615.6 1725.3,1611.6ZM1734.0,1613.7 1738.0,1613.1 1742.0,1613.6 1745.9,1614.5 1749.8,1615.7 1753.5,1617.2 1757.1,1619.1 1760.6,1621.0 1764.2,1623.0 1767.8,1624.8 1771.4,1626.6 1775.0,1628.4 1778.5,1630.3 1782.0,1632.4 1785.4,1634.6 1788.6,1637.0 1791.7,1639.6 1794.8,1642.3 1797.9,1644.9 1801.1,1647.3 1804.4,1649.6 1807.8,1651.8 1811.1,1654.2 1814.2,1656.8 1817.1,1659.6 1819.8,1662.5 1822.6,1665.5 1825.3,1668.4 1828.2,1671.3 1831.2,1674.0 1834.2,1676.7 1837.2,1679.4 1839.8,1682.5 1841.8,1686.0 1841.9,1689.9 1838.7,1692.2 1834.7,1692.5 1830.7,1692.0 1826.9,1690.8 1823.1,1689.4 1819.4,1687.8 1815.7,1686.1 1812.0,1684.5 1808.3,1682.8 1804.7,1681.0 1801.2,1679.0 1797.8,1676.9 1794.4,1674.7 1791.0,1672.5 1787.6,1670.3 1784.2,1668.2 1780.7,1666.1 1777.2,1664.1 1773.7,1662.0 1770.3,1659.9 1767.0,1657.6 1763.8,1655.1 1760.7,1652.5 1757.6,1649.9 1754.4,1647.5 1751.2,1645.0 1748.2,1642.3 1745.3,1639.5 1742.5,1636.5 1739.7,1633.6 1736.9,1630.8 1734.2,1627.7 1732.1,1624.3 1730.9,1620.5 1731.2,1616.5ZM1740.0,1618.6 1744.0,1618.1 1747.9,1618.8 1751.8,1620.1 1755.4,1621.7 1759.1,1623.5 1762.7,1625.2 1766.4,1626.8 1770.1,1628.5 1773.7,1630.2 1777.3,1632.1 1780.7,1634.1 1784.1,1636.4 1787.3,1638.9 1790.3,1641.5 1793.4,1644.1 1796.4,1646.7 1799.7,1649.2 1803.0,1651.5 1806.3,1653.7 1809.5,1656.1 1812.6,1658.7 1815.4,1661.6 1818.0,1664.7 1820.6,1667.8 1823.2,1670.8 1825.9,1673.8 1828.7,1676.7 1831.5,1679.7 1833.9,1682.9 1833.6,1686.6 1829.8,1687.3 1825.9,1686.4 1822.0,1685.2 1818.2,1683.8 1814.5,1682.3 1810.8,1680.8 1807.1,1679.1 1803.5,1677.2 1800.1,1675.2 1796.7,1673.1 1793.3,1670.9 1789.9,1668.7 1786.4,1666.6 1783.0,1664.5 1779.4,1662.6 1775.9,1660.6 1772.5,1658.5 1769.1,1656.3 1765.9,1653.8 1762.8,1651.3 1759.7,1648.7 1756.6,1646.2 1753.5,1643.6 1750.5,1640.9 1747.8,1637.9 1745.2,1634.8 1742.6,1631.8 1740.0,1628.6 1737.9,1625.2 1737.3,1621.3ZM1749.0,1625.7 1753.0,1625.7 1756.9,1626.7 1760.8,1627.8 1764.6,1629.1 1768.4,1630.5 1772.1,1632.1 1775.7,1633.9 1779.2,1636.0 1782.5,1638.3 1785.7,1640.8 1788.7,1643.4 1791.7,1646.1 1794.8,1648.8 1797.9,1651.2 1801.2,1653.6 1804.5,1655.9 1807.7,1658.3 1810.7,1661.1 1813.4,1664.1 1815.7,1667.4 1817.8,1670.8 1819.5,1674.5 1818.4,1677.8 1814.5,1677.7 1810.6,1676.6 1806.8,1675.1 1803.2,1673.3 1799.7,1671.3 1796.3,1669.2 1792.9,1667.1 1789.4,1665.0 1785.9,1663.0 1782.3,1661.1 1778.8,1659.2 1775.2,1657.2 1771.8,1655.1 1768.6,1652.7 1765.5,1650.1 1762.4,1647.5 1759.3,1644.9 1756.2,1642.3 1753.4,1639.5 1750.9,1636.3 1748.9,1632.8 1747.5,1629.0ZM1758.0,1632.8 1761.9,1632.3 1765.9,1633.0 1769.7,1634.3 1773.4,1635.9 1776.9,1637.9 1780.1,1640.2 1783.2,1642.7 1786.2,1645.5 1789.1,1648.3 1792.0,1651.0 1795.0,1653.7 1798.2,1656.1 1801.4,1658.6 1804.4,1661.2 1806.9,1664.3 1806.6,1667.8 1802.8,1667.3 1799.1,1665.7 1795.6,1663.8 1792.0,1661.9 1788.4,1660.1 1784.8,1658.4 1781.2,1656.7 1777.6,1654.9 1774.1,1652.8 1770.9,1650.5 1767.8,1647.9 1764.7,1645.3 1761.7,1642.6 1758.9,1639.8 1756.9,1636.3Z" fill="none" stroke="#31679A" stroke-width="2.6" stroke-linejoin="round"/>
</g>
<path d="M1513.0,1648.6H2046.6M1779.8,1391.6V1905.6" fill="none" stroke="#000" stroke-width="2.8" stroke-dasharray="12.6 8"/>
<rect x="1513.0" y="1391.6" width="533.6" height="514.0" fill="none" stroke="#000" stroke-width="2.8"/>
<path d="M1495,1463.2H1513.0" stroke="#000" stroke-width="2.8"/>
<text x="1480.5" y="1483.2" text-anchor="end" class="ax">2</text>
<path d="M1495,1555.9H1513.0" stroke="#000" stroke-width="2.8"/>
<text x="1480.5" y="1575.9" text-anchor="end" class="ax">1</text>
<path d="M1495,1648.6H1513.0" stroke="#000" stroke-width="2.8"/>
<text x="1480.5" y="1668.6" text-anchor="end" class="ax">0</text>
<path d="M1495,1741.3H1513.0" stroke="#000" stroke-width="2.8"/>
<text x="1480.5" y="1761.3" text-anchor="end" class="ax">-1</text>
<path d="M1495,1834.0H1513.0" stroke="#000" stroke-width="2.8"/>
<text x="1480.5" y="1854.0" text-anchor="end" class="ax">-2</text>
<path d="M1630.0,1905.6V1923.1" stroke="#000" stroke-width="2.8"/>
<text x="1630.0" y="1965.1" text-anchor="middle" class="ax">-1</text>
<path d="M1779.8,1905.6V1923.1" stroke="#000" stroke-width="2.8"/>
<text x="1779.8" y="1965.1" text-anchor="middle" class="ax">0</text>
<path d="M1929.6,1905.6V1923.1" stroke="#000" stroke-width="2.8"/>
<text x="1929.6" y="1965.1" text-anchor="middle" class="ax">1</text>
<text x="1779.8" y="1423.8" text-anchor="middle" class="ttl">Reshuffled years</text>
<text x="1536" y="1466.3" class="let">e</text>
<text x="1779.8" y="2020.1" text-anchor="middle" class="rt">Precipitation coef. (×10<tspan dy="-23" font-size="31.5">−4</tspan><tspan dy="23">)</tspan></text>
<text transform="translate(1397,1648.6) rotate(-90)" text-anchor="middle" class="rt">Precipitation<tspan dy="-23" font-size="31.5">2</tspan><tspan dy="23"> coef. &#160;(×10</tspan><tspan dy="-23" font-size="31.5">−7</tspan><tspan dy="23">)</tspan></text>
<g stroke="#B8860B" fill="none" stroke-linecap="round"><circle cx="1981.3" cy="1777.6" r="15.2" stroke-width="4"/><path d="M1974.1,1770.4l14.4,14.4m0,-14.4l-14.4,14.4" stroke-width="3.6"/></g>
</g>
<g id="pf">
<g clip-path="url(#clipf)">
<polygon points="2046.6,2198.4 2046.5,2198.4 2046.4,2201.4 2046.2,2204.4 2045.8,2207.4 2045.4,2210.4 2044.9,2213.4 2044.3,2216.4 2043.7,2219.4 2042.8,2222.4 2041.8,2225.4 2040.7,2228.4 2039.5,2231.4 2038.3,2234.4 2036.9,2237.4 2035.4,2240.4 2033.7,2243.4 2031.9,2246.4 2029.8,2249.4 2027.6,2252.4 2025.0,2255.4 2022.0,2258.4 2018.6,2261.4 2015.1,2264.3 2011.3,2267.3 2007.3,2270.3 2002.6,2273.3 1997.5,2276.3 1992.2,2279.3 1987.3,2282.3 1982.9,2285.3 1979.1,2288.3 1975.5,2291.3 1972.2,2294.3 1969.0,2297.3 1966.0,2300.3 1963.2,2303.3 1960.4,2306.3 1957.6,2309.3 1955.0,2312.3 1952.8,2315.3 1951.1,2318.3 1949.9,2321.3 1948.9,2324.3 1948.4,2327.3 1948.6,2330.3 1949.1,2333.3 1949.9,2336.3 1950.8,2339.3 1952.1,2342.3 1954.2,2345.3 1956.7,2348.2 1959.5,2351.2 1962.5,2354.2 1965.9,2357.2 1969.8,2360.2 1974.0,2363.2 1978.3,2366.2 1982.4,2369.2 1986.5,2372.2 1990.8,2375.2 1995.1,2378.2 1999.4,2381.2 2003.5,2384.2 2007.5,2387.2 2011.4,2390.2 2015.3,2393.2 2019.1,2396.2 2022.5,2399.2 2025.5,2402.2 2028.2,2405.2 2030.6,2408.2 2032.9,2411.2 2034.9,2414.2 2036.6,2417.2 2038.1,2420.2 2039.4,2423.2 2040.5,2426.2 2041.6,2429.1 2042.5,2432.1 2043.3,2435.1 2044.0,2438.1 2044.6,2441.1 2045.2,2444.1 2045.8,2447.1 2046.2,2450.1 2046.5,2453.1 2046.6,2453.1" fill="#CCCCCC"/>
<polygon points="1573.7,2583.8 1573.7,2583.8 1576.7,2583.8 1579.7,2583.8 1582.7,2583.8 1585.7,2583.7 1588.7,2583.6 1591.7,2583.5 1594.7,2583.4 1597.6,2583.3 1600.6,2583.1 1603.6,2583.0 1606.6,2582.9 1609.6,2582.7 1612.6,2582.5 1615.6,2582.3 1618.6,2582.1 1621.6,2581.8 1624.6,2581.6 1627.6,2581.3 1630.5,2580.9 1633.5,2580.5 1636.5,2580.1 1639.5,2579.4 1642.5,2578.5 1645.5,2577.5 1648.5,2576.4 1651.5,2575.2 1654.5,2573.7 1657.5,2572.0 1660.4,2570.1 1663.4,2568.1 1666.4,2566.1 1669.4,2564.2 1672.4,2562.2 1675.4,2560.2 1678.4,2558.1 1681.4,2555.9 1684.4,2553.6 1687.4,2551.2 1690.3,2548.6 1693.3,2545.9 1696.3,2543.1 1699.3,2540.2 1702.3,2537.4 1705.3,2534.4 1708.3,2531.4 1711.3,2528.3 1714.3,2525.3 1717.3,2522.4 1720.3,2519.5 1723.2,2516.6 1726.2,2513.8 1729.2,2511.1 1732.2,2508.5 1735.2,2506.3 1738.2,2504.2 1741.2,2502.3 1744.2,2500.5 1747.2,2498.8 1750.2,2497.3 1753.1,2495.8 1756.1,2494.4 1759.1,2493.0 1762.1,2491.8 1765.1,2490.8 1768.1,2490.0 1771.1,2489.3 1774.1,2488.7 1777.1,2488.3 1780.1,2488.0 1783.0,2488.0 1786.0,2488.3 1789.0,2488.7 1792.0,2489.3 1795.0,2490.0 1798.0,2491.0 1801.0,2492.4 1804.0,2494.1 1807.0,2495.9 1810.0,2497.7 1813.0,2499.8 1815.9,2502.0 1818.9,2504.4 1821.9,2506.9 1824.9,2509.6 1827.9,2512.6 1830.9,2515.7 1833.9,2518.8 1836.9,2522.0 1839.9,2525.3 1842.9,2528.7 1845.8,2532.1 1848.8,2535.4 1851.8,2538.5 1854.8,2541.4 1857.8,2544.2 1860.8,2546.9 1863.8,2549.5 1866.8,2552.1 1869.8,2554.6 1872.8,2557.2 1875.7,2559.8 1878.7,2562.3 1881.7,2564.6 1884.7,2566.6 1887.7,2568.5 1890.7,2570.1 1893.7,2571.7 1896.7,2573.2 1899.7,2574.5 1902.7,2575.6 1905.7,2576.7 1908.6,2577.7 1911.6,2578.6 1914.6,2579.5 1917.6,2580.2 1920.6,2580.8 1923.6,2581.4 1926.6,2582.0 1929.6,2582.5 1932.6,2582.9 1935.6,2583.1 1938.5,2583.3 1941.5,2583.4 1944.5,2583.6 1947.5,2583.7 1950.5,2583.8 1953.5,2583.8 1956.5,2583.8 1959.5,2583.8 1962.5,2583.8 1962.5,2583.8" fill="#CCCCCC"/>
<path d="M1601.5,2182.2 1603.6,2182.9 1605.6,2184.0 1607.8,2184.4 1609.7,2185.3 1610.8,2187.2 1611.9,2189.2 1611.9,2191.4 1610.2,2192.6 1608.0,2193.2 1606.2,2194.4 1604.6,2196.0 1603.0,2197.6 1601.0,2198.5 1598.8,2197.9 1596.6,2197.8 1594.6,2197.1 1593.6,2195.2 1594.7,2193.3 1596.1,2191.5 1597.2,2189.6 1597.7,2187.4 1598.5,2185.4 1599.7,2183.5ZM1616.0,2198.8 1618.1,2199.7 1619.7,2201.5 1618.8,2203.6 1616.4,2204.2 1614.4,2203.2 1614.7,2200.8ZM1627.0,2199.2 1629.1,2200.0 1630.8,2201.4 1632.1,2203.1 1632.2,2205.1 1630.2,2205.3 1628.0,2204.9 1626.1,2203.9 1624.5,2202.3 1625.2,2200.4ZM1646.0,2206.2 1648.1,2206.4 1649.8,2207.8 1651.5,2209.2 1653.5,2210.1 1655.6,2210.1 1657.7,2209.4 1659.7,2210.3 1661.8,2211.0 1663.7,2211.9 1664.4,2213.9 1665.2,2215.9 1666.2,2217.9 1667.3,2219.8 1669.2,2221.0 1671.3,2221.5 1673.4,2220.8 1675.5,2220.3 1677.6,2219.6 1679.4,2220.6 1680.8,2222.3 1682.3,2223.9 1684.1,2225.2 1686.1,2225.9 1688.2,2225.3 1689.9,2224.0 1691.1,2222.1 1692.9,2221.1 1694.7,2222.3 1696.0,2224.0 1697.8,2225.3 1699.9,2225.8 1702.0,2225.7 1704.0,2226.7 1706.2,2227.0 1708.2,2227.4 1709.4,2229.3 1710.4,2231.2 1712.0,2232.7 1714.1,2233.4 1716.2,2233.9 1717.7,2235.5 1718.8,2237.3 1720.6,2238.6 1722.5,2239.7 1724.7,2239.6 1726.8,2239.2 1728.5,2240.5 1730.4,2241.6 1732.5,2242.0 1734.6,2241.4 1736.5,2240.2 1738.5,2240.2 1740.6,2240.9 1742.7,2240.3 1744.8,2240.4 1746.4,2241.9 1747.9,2243.5 1749.7,2244.8 1751.8,2245.4 1753.9,2245.3 1755.1,2247.0 1753.8,2248.7 1752.3,2250.3 1750.7,2251.9 1749.7,2253.8 1749.7,2255.9 1750.8,2257.8 1752.4,2259.3 1754.4,2260.3 1756.5,2260.7 1758.4,2261.9 1760.5,2262.3 1762.5,2261.4 1764.1,2259.8 1765.6,2258.3 1767.5,2259.0 1769.4,2260.1 1771.5,2260.1 1773.4,2259.0 1775.1,2257.6 1777.1,2257.7 1777.6,2259.7 1777.7,2261.9 1778.8,2263.8 1780.5,2265.1 1780.9,2267.1 1779.8,2269.0 1779.6,2271.1 1780.5,2273.1 1781.1,2275.2 1782.2,2277.1 1783.9,2278.6 1785.9,2279.4 1788.0,2278.7 1790.0,2279.1 1790.8,2281.1 1791.6,2283.2 1792.9,2284.9 1794.8,2286.1 1796.8,2287.0 1798.2,2288.6 1799.1,2290.6 1800.4,2292.4 1802.2,2293.5 1804.2,2294.5 1806.3,2294.7 1808.3,2293.7 1809.9,2292.2 1811.8,2291.6 1813.3,2293.2 1815.0,2294.6 1817.0,2295.5 1818.9,2296.5 1820.5,2298.0 1822.3,2299.3 1823.7,2301.0 1824.7,2302.9 1825.3,2305.0 1824.0,2306.7 1823.0,2308.7 1823.4,2310.8 1824.6,2312.6 1826.4,2313.9 1828.5,2314.3 1830.6,2313.5 1832.7,2313.8 1834.8,2314.4 1836.8,2313.7 1838.6,2312.5 1840.6,2311.9 1842.8,2311.5 1844.8,2310.9 1846.2,2312.4 1846.0,2314.6 1846.8,2316.6 1848.2,2318.3 1849.4,2320.1 1848.9,2322.2 1849.6,2324.3 1851.0,2326.0 1852.9,2327.1 1855.0,2327.1 1856.9,2326.1 1858.8,2325.2 1860.8,2326.1 1863.0,2326.3 1865.1,2326.8 1866.1,2328.6 1865.0,2330.5 1864.4,2332.6 1864.2,2334.7 1862.8,2336.4 1861.7,2338.3 1861.5,2340.4 1862.5,2342.4 1863.3,2344.4 1864.2,2346.4 1865.7,2348.0 1867.7,2348.9 1869.8,2348.5 1871.6,2347.3 1873.0,2345.6 1874.9,2344.7 1876.7,2346.0 1878.3,2347.4 1879.6,2349.2 1880.9,2351.0 1882.5,2352.5 1883.8,2354.3 1885.6,2355.5 1887.7,2355.7 1889.7,2354.7 1891.7,2354.4 1892.9,2356.2 1892.9,2358.4 1893.7,2360.4 1895.2,2362.0 1897.1,2363.0 1898.8,2364.4 1900.4,2366.0 1901.2,2367.9 1900.4,2369.9 1900.8,2372.1 1901.4,2374.1 1900.1,2375.8 1898.2,2377.0 1896.8,2378.7 1895.7,2380.6 1895.6,2382.7 1896.7,2384.7 1898.4,2386.1 1900.2,2387.3 1901.9,2388.6 1903.9,2389.6 1906.0,2389.6 1908.0,2388.7 1910.2,2388.3 1912.1,2387.3 1913.9,2385.9 1915.9,2386.2 1917.3,2387.8 1916.6,2389.9 1915.9,2391.9 1916.7,2394.0 1918.1,2395.7 1919.5,2397.4 1919.4,2399.5 1919.8,2401.6 1921.0,2403.5 1922.9,2404.6 1925.0,2405.1 1926.9,2406.0 1928.3,2407.8 1928.9,2409.9 1929.7,2411.9 1931.1,2413.6 1932.4,2415.4 1933.4,2417.3 1934.7,2419.1 1934.1,2421.0 1932.7,2422.7 1931.1,2424.3 1929.2,2425.3 1927.5,2426.6 1926.3,2428.5 1926.1,2430.6 1927.1,2432.5 1928.7,2434.0 1930.8,2434.8 1932.8,2434.2 1934.6,2432.9 1936.2,2431.4 1938.1,2430.6 1940.1,2431.5 1941.7,2433.0 1941.5,2435.1 1941.0,2437.2 1941.8,2439.2 1942.4,2441.2 1942.8,2443.4 1942.1,2445.3 1940.1,2445.6 1937.9,2445.7 1935.9,2446.5 1934.3,2448.0 1933.2,2450.0 1931.8,2451.6 1929.8,2451.3 1928.4,2449.6 1926.6,2448.3 1924.6,2447.6 1922.4,2447.2 1920.2,2447.5 1918.3,2446.8 1916.7,2445.2 1915.7,2443.3 1914.9,2441.3 1913.4,2439.7 1911.4,2438.7 1909.3,2438.4 1907.5,2437.0 1906.2,2435.3 1904.5,2433.9 1902.6,2432.8 1900.6,2431.8 1898.5,2431.3 1896.4,2430.7 1894.4,2431.5 1892.6,2432.9 1890.8,2433.9 1889.1,2432.6 1887.7,2430.9 1886.0,2429.5 1884.0,2428.6 1881.9,2429.0 1880.0,2430.1 1878.0,2430.4 1876.6,2428.7 1875.3,2427.0 1873.4,2425.9 1871.2,2425.9 1869.2,2425.2 1867.8,2423.6 1866.3,2421.9 1864.4,2420.9 1862.6,2419.6 1860.8,2418.3 1858.7,2417.8 1856.7,2418.6 1855.1,2420.1 1854.1,2422.1 1853.9,2424.2 1852.7,2426.1 1851.2,2427.7 1849.2,2427.6 1848.3,2425.8 1848.5,2423.6 1847.9,2421.5 1848.5,2419.4 1848.8,2417.3 1849.7,2415.3 1851.0,2413.5 1851.5,2411.4 1850.6,2409.4 1849.1,2407.8 1847.2,2406.9 1845.1,2407.1 1843.2,2408.3 1841.2,2408.2 1839.8,2406.5 1838.3,2404.9 1836.6,2403.5 1834.6,2402.7 1832.5,2403.2 1830.5,2404.0 1828.8,2402.6 1827.8,2400.7 1826.6,2398.8 1825.6,2396.8 1824.1,2395.3 1822.1,2394.3 1820.0,2394.7 1818.0,2395.7 1815.8,2395.8 1813.9,2396.8 1811.8,2396.8 1810.0,2395.6 1808.2,2394.3 1806.8,2392.6 1805.6,2390.8 1803.9,2389.4 1801.9,2388.7 1799.8,2389.5 1798.1,2390.9 1796.0,2391.2 1793.8,2391.1 1792.0,2390.0 1790.4,2388.4 1789.2,2386.6 1787.8,2385.0 1785.9,2383.9 1783.7,2384.0 1781.6,2383.7 1779.8,2382.4 1778.3,2380.9 1776.4,2379.7 1774.3,2379.3 1772.2,2379.5 1770.5,2378.2 1768.8,2376.7 1769.1,2374.7 1770.0,2372.7 1769.5,2370.6 1768.2,2368.8 1766.8,2367.2 1766.1,2365.1 1765.3,2363.1 1764.1,2361.2 1762.4,2359.9 1760.3,2359.2 1758.2,2359.8 1756.2,2359.6 1754.9,2357.9 1753.8,2356.0 1752.3,2354.3 1750.7,2352.9 1749.0,2351.5 1747.3,2350.0 1745.4,2348.9 1743.3,2349.0 1741.3,2350.0 1739.6,2351.3 1737.6,2352.3 1735.6,2352.0 1734.3,2350.2 1732.8,2348.6 1730.9,2347.7 1728.8,2346.9 1726.9,2345.9 1724.9,2344.9 1723.3,2343.4 1721.5,2342.2 1719.9,2340.7 1720.2,2338.6 1720.6,2336.5 1719.7,2334.5 1718.1,2333.0 1716.5,2331.5 1714.9,2330.0 1712.9,2328.9 1710.8,2329.0 1709.0,2330.2 1707.6,2331.9 1706.1,2333.5 1704.7,2335.2 1702.7,2335.2 1701.4,2333.5 1702.4,2331.7 1703.6,2329.9 1704.0,2327.8 1703.1,2325.8 1702.3,2323.7 1702.0,2321.6 1701.0,2319.6 1700.5,2317.5 1701.1,2315.4 1700.4,2313.3 1698.9,2311.7 1696.9,2310.8 1694.8,2310.7 1692.6,2310.1 1690.7,2309.1 1690.5,2307.1 1691.0,2305.0 1690.2,2303.0 1688.8,2301.3 1687.8,2299.5 1688.0,2297.3 1687.1,2295.3 1685.5,2293.8 1683.5,2292.8 1681.4,2293.2 1679.6,2294.5 1678.4,2296.3 1677.3,2298.2 1675.4,2299.0 1673.6,2297.8 1671.9,2296.4 1670.4,2294.8 1670.1,2292.6 1669.2,2290.6 1667.9,2288.8 1666.5,2287.1 1664.8,2285.8 1663.8,2283.9 1664.0,2281.8 1664.0,2279.6 1664.6,2277.5 1664.2,2275.3 1663.4,2273.3 1661.9,2271.7 1660.1,2270.5 1658.0,2269.7 1656.0,2270.5 1654.2,2271.8 1652.3,2272.2 1651.4,2270.3 1652.1,2268.2 1651.7,2266.1 1650.7,2264.1 1649.5,2262.3 1647.9,2260.9 1645.8,2260.2 1643.6,2260.3 1641.6,2259.4 1640.0,2257.9 1640.1,2255.8 1640.5,2253.7 1640.0,2251.6 1639.0,2249.7 1637.6,2247.9 1637.7,2245.8 1637.5,2243.6 1636.4,2241.6 1634.7,2240.3 1632.7,2239.6 1630.5,2239.7 1629.4,2238.0 1630.7,2236.2 1631.8,2234.3 1632.3,2232.2 1633.5,2230.4 1634.5,2228.4 1634.3,2226.3 1633.2,2224.4 1631.8,2222.7 1630.6,2220.9 1629.1,2219.3 1627.2,2218.2 1626.0,2216.5 1627.5,2215.1 1629.7,2215.3 1631.7,2214.5 1633.4,2213.1 1635.1,2211.7 1637.2,2211.8 1639.4,2211.5 1641.4,2210.7 1643.1,2209.3 1644.2,2207.4ZM1622.0,2215.7 1624.1,2216.2 1624.8,2218.0 1623.3,2219.7 1621.6,2221.1 1619.9,2222.6 1617.9,2223.0 1616.2,2221.6 1616.5,2219.6 1618.4,2218.5 1620.3,2217.2ZM1785.0,2251.3 1786.7,2252.0 1786.8,2253.9 1785.4,2255.3 1783.7,2254.6 1783.7,2252.8ZM1937.5,2401.2 1939.8,2401.6 1941.3,2403.4 1940.1,2405.4 1938.0,2405.4 1936.7,2403.3Z" fill="#9E9E9E" fill-rule="evenodd"/>
<polyline points="1630.0,2239.8 1761.2,2379.5 1790.4,2268.5 1734.3,2355.5 1989.7,2459.7 1623.0,2182.3 1627.1,2233.1 1917.9,2396.0 1759.4,2264.4 1818.1,2299.4 1931.1,2363.2 1901.2,2391.3 1972.3,2466.1 1708.5,2235.5 1892.3,2380.6 1696.0,2309.9 1649.8,2211.2 1679.3,2227.0 1896.6,2363.9 1678.3,2219.3 1920.4,2403.9 1900.2,2375.4 1770.5,2375.3 1716.8,2331.8 1751.6,2348.6 1866.5,2328.0 1738.3,2227.8 1656.3,2291.7 1791.4,2284.2 1784.4,2379.4 1858.5,2414.6 1932.6,2396.7 1688.1,2226.1 1707.3,2331.5 1755.9,2359.7 1707.8,2227.1 1852.3,2421.6 1688.1,2310.5 1830.9,2316.4 1894.2,2426.6 1903.2,2393.9 1887.8,2428.5 1753.1,2249.1 1720.1,2243.4 1894.7,2430.1 1843.2,2424.5 1691.7,2220.8 1910.0,2362.6 1876.3,2445.2 1929.3,2424.6 1635.1,2228.5 1639.9,2246.8 1675.4,2222.2 1665.5,2217.2 1889.4,2432.3 1613.8,2222.1 1637.3,2232.1 1914.5,2390.2 1748.9,2251.2 1800.2,2296.0 1842.1,2403.0 1743.9,2215.5 1884.1,2341.6 1751.8,2233.1 1709.4,2226.4 1870.4,2425.7 1880.1,2350.7 1789.2,2383.5 1716.9,2233.6 1729.4,2358.8 1829.0,2396.4 1798.3,2287.0 1840.7,2412.2 1936.8,2425.1 1925.8,2405.5 1810.2,2389.3 1819.9,2307.0 1696.5,2209.3 1931.1,2429.9 1670.0,2224.5 1608.9,2237.9 1640.9,2240.8 1702.6,2321.2 1650.3,2305.2 1643.9,2260.0 1697.9,2227.6 1889.1,2357.1 1691.9,2195.2 1911.0,2369.9 1866.8,2349.6 1672.1,2293.7 1768.1,2361.5 1941.1,2432.4 1697.7,2309.3 1797.0,2417.7 1963.0,2455.7 1629.4,2227.6 1621.9,2215.4 1759.1,2358.8 1896.6,2385.5 1668.5,2288.7 1897.6,2386.7 1662.2,2211.4 1892.0,2353.2 1611.8,2189.6 1878.0,2353.9 1617.6,2240.1 1672.9,2209.3 1744.0,2240.2 1825.1,2408.2 1670.7,2293.1 1780.1,2265.5 1852.8,2418.7 1629.6,2203.0 1894.6,2426.9 1805.4,2283.5 1667.1,2282.3 1943.2,2400.7 1909.1,2464.8 1894.3,2332.5 1788.6,2405.9 1939.3,2378.3 1901.3,2390.6 1900.9,2392.1 1872.1,2352.2 1709.0,2230.3 1629.3,2216.6 1944.9,2449.2 1715.4,2222.8 1622.8,2219.6 1958.6,2435.8 1630.9,2218.0 1721.7,2240.0 1693.8,2300.8 1837.5,2415.8 1799.9,2294.7 1725.2,2241.8 1779.1,2275.7 1690.0,2292.2 1780.3,2273.7 1992.5,2446.1 1863.2,2425.8 1935.0,2454.0 1756.4,2360.5 1678.5,2300.6 1698.3,2230.4 1885.8,2360.2 1762.9,2237.0 1847.5,2310.5 1858.8,2305.2 1618.3,2203.5 1697.9,2228.6 1894.6,2351.3 1894.5,2429.5 1845.4,2402.8 1895.3,2383.5 1597.9,2186.9 1683.1,2309.1 1877.7,2431.8 1767.8,2364.7 1845.3,2405.5 1732.9,2344.1 1650.8,2276.1 1654.6,2269.8 1841.8,2405.8 1630.6,2204.9 1907.1,2433.9 1620.1,2228.8 1833.4,2447.1 1908.7,2388.7 1780.6,2280.8 1859.3,2345.3 1889.9,2431.0 1900.9,2429.4 1902.6,2390.4 1854.4,2419.9 1832.0,2316.7 1629.7,2210.4 1852.3,2296.6 1825.8,2316.3 1871.0,2422.8 1860.2,2417.5 1766.2,2363.4 1785.1,2389.1 1883.6,2359.2 1821.4,2313.3 1667.2,2298.4 1704.6,2227.3 1657.2,2298.7 1911.4,2434.2 1615.2,2200.0 1932.0,2415.4 1924.4,2447.3 1663.6,2269.5 1781.3,2280.5 1773.1,2370.7 1919.3,2386.8 1720.6,2239.3 1718.1,2328.0 1761.2,2399.0 1673.7,2221.2 1790.3,2286.3 1811.1,2289.2 1839.7,2312.1 1919.1,2447.5 1845.1,2317.0 1883.1,2332.5 1864.6,2419.3 1688.0,2300.1 1649.0,2260.9 1843.6,2317.0 1629.3,2238.6 1648.2,2206.5 1635.6,2225.5 1658.0,2209.7 1924.4,2431.6 1849.0,2417.7 1638.4,2258.9 1651.5,2209.8 1828.1,2417.4 1897.1,2428.5 1827.7,2315.2 1942.6,2444.2 1641.0,2250.4 1641.2,2256.5 1819.0,2408.2 1641.6,2241.9 1766.8,2389.0 1662.7,2270.0 1910.7,2390.9 1842.6,2317.4 1962.0,2465.9 1733.8,2242.2 1834.7,2402.1 1861.4,2350.0 1684.5,2292.1 1872.4,2351.0 1906.7,2378.0 1803.0,2294.7 1893.2,2382.2 1913.8,2449.4 1756.1,2260.7 1700.7,2317.7 1892.6,2356.6 1947.5,2431.4 1821.9,2301.9 1798.1,2286.7 1705.9,2327.5 1655.9,2269.9 1874.5,2347.7 1615.3,2196.2 1745.0,2364.3 1771.3,2373.1 1718.4,2341.5 1812.3,2293.5 1766.2,2361.6 1872.8,2421.7 1822.5,2390.6 1842.0,2406.5 1848.3,2326.0 1638.1,2230.0 1930.2,2413.1 1864.3,2307.2 1652.7,2260.0 1744.8,2232.4 1763.3,2249.3 1938.1,2445.3 1868.0,2418.5 1768.5,2363.0 1626.4,2267.3 1694.0,2228.0 1815.3,2285.5 1880.3,2294.1 1869.8,2349.4 1821.6,2438.2 1706.0,2331.7 1780.4,2255.6 1892.4,2378.8 1907.9,2437.3 1653.9,2268.0 1704.3,2336.2 1861.9,2321.2 1919.6,2397.4 1644.8,2206.3 1701.8,2319.7 1739.0,2351.3 1765.8,2257.9 1699.4,2220.6 1724.7,2192.5 1751.2,2263.2 1633.1,2204.7 1705.6,2321.3 1666.1,2222.5 1804.9,2276.2 1891.3,2433.9 1801.2,2385.2 1924.3,2435.1 1759.8,2265.9 1749.4,2351.4 1635.3,2230.6 1642.2,2250.7 1630.5,2201.1 1859.8,2432.2 1864.6,2334.4 1747.5,2366.5 1640.7,2246.9 1830.4,2403.9 1895.1,2382.7 1881.1,2428.8 1832.5,2314.4 1748.6,2379.9 1681.7,2223.9 1600.3,2182.7 1903.4,2390.1 1608.3,2205.9 1652.3,2276.2 1728.7,2232.8 1735.7,2363.0 1916.0,2444.1 1942.7,2421.1 1766.5,2358.8 1891.6,2437.5 1719.9,2340.4 1764.3,2360.6 1725.0,2344.8 1752.2,2218.4 1853.6,2424.5 1933.6,2419.0 1853.7,2322.1 1808.6,2392.3 1872.1,2348.5 1681.1,2292.7 1873.7,2343.2 1762.6,2356.2 1829.8,2398.3 1874.0,2425.0 1667.9,2207.9 1904.5,2430.9 1752.9,2354.2 1759.7,2242.1 1694.7,2223.5 1740.3,2348.4 1621.8,2196.8 1709.2,2234.4 1848.5,2406.5 1713.5,2233.9 1918.6,2399.4 1862.8,2343.4 1695.2,2310.4 1667.9,2208.0 1805.6,2298.7 1817.8,2395.4 1909.8,2438.1 1689.9,2310.1 1929.7,2420.5 1720.4,2242.7 1786.5,2256.3 1732.3,2359.3 1651.2,2264.2 1796.2,2290.1 1775.5,2257.3 1906.1,2459.3 1815.9,2418.9 1913.5,2395.6 1694.4,2308.4 1753.2,2262.4 1948.6,2363.0 1901.4,2367.2 1747.1,2243.5 1883.5,2355.6 1690.6,2308.7 1867.3,2314.0 1658.5,2268.5 1737.3,2240.0 1928.7,2414.3 1836.4,2318.4 1745.3,2374.2 1849.5,2433.4 1764.4,2264.8 1807.1,2386.2 1822.7,2390.4 1878.4,2347.6 1898.5,2350.1 1914.1,2385.8 1860.6,2333.9 1663.8,2271.1 1884.4,2425.2 1923.9,2434.7 1701.2,2333.4 1660.1,2269.4 1750.8,2376.3 1773.7,2372.0 1850.3,2326.2 1607.9,2188.9 1809.0,2296.9 1851.5,2415.6 1827.1,2399.1 1690.1,2228.3 1892.7,2352.9 1912.8,2395.0 1740.0,2244.6 1908.8,2360.2 1634.2,2234.6 1856.7,2414.6 1851.6,2427.0 1793.5,2390.9 1885.5,2428.4 1853.6,2330.2 1779.8,2274.1 1888.5,2429.7 1639.9,2246.9 1921.8,2405.0 1586.2,2268.7 1654.6,2196.2 1856.2,2329.2 1845.9,2323.3 1641.9,2288.9 1864.9,2348.8 1706.7,2232.2 1807.2,2390.1 1703.7,2227.6 1650.3,2210.3 1940.4,2439.6 1663.1,2220.7 1818.6,2295.8 1674.9,2298.5 1900.0,2371.3 1766.4,2366.9 1888.8,2440.7 1859.7,2341.8 1769.7,2368.9 1797.4,2391.1 1932.1,2404.6 1824.7,2287.9 1767.5,2363.1 1899.3,2391.0 1882.8,2452.3 1787.1,2252.1 1627.2,2202.5 1694.4,2216.3 1895.6,2378.6 1680.9,2329.0 1901.7,2374.5 1658.8,2287.6 1715.2,2349.3 1667.6,2208.6 1829.1,2288.7 1873.9,2435.6 1636.1,2225.7 1637.6,2247.8 1940.2,2419.7 1848.3,2403.7 1765.9,2261.6 1778.1,2396.1 1661.0,2270.5 1849.7,2319.3 1716.1,2233.5 1836.9,2421.1 1912.0,2437.3 1875.8,2422.6 1651.6,2270.8 1894.5,2382.4 1779.4,2380.3 1713.1,2221.1 1928.5,2463.8 1946.2,2436.5 1742.3,2348.9 1882.1,2352.7 1800.5,2296.8 1745.4,2229.5 1805.8,2390.2 1940.9,2403.8 1932.5,2450.0 1748.1,2260.8 1710.6,2326.9 1670.9,2292.0 1638.1,2245.8 1745.5,2384.1 1938.2,2407.6 1903.5,2391.3 1945.4,2450.9 1894.8,2381.4 1843.1,2431.1 1872.4,2348.5 1633.7,2222.5 1968.7,2449.8 1627.8,2215.7 1964.0,2461.7 1828.0,2309.2 1897.0,2369.3 1683.0,2288.3 1632.0,2204.9 1711.4,2234.5 1926.4,2412.7 1889.4,2426.9 1633.2,2218.0 1812.4,2294.5 1956.0,2446.5 1900.2,2387.7 1753.5,2245.5 1807.9,2298.8 1848.3,2406.1 1836.2,2399.7 1754.8,2409.3 1898.0,2363.4 1856.2,2416.9 1700.3,2307.9 1930.4,2436.7 1851.4,2407.0 1776.7,2258.2 1835.8,2288.0 1690.6,2302.7 1768.1,2376.4 1930.5,2413.5 1751.8,2247.8 1780.1,2273.8 1916.4,2329.6 1899.5,2431.2 1664.1,2280.5 1914.4,2394.3 1917.7,2457.7 1882.6,2357.0 1751.4,2258.9 1664.7,2275.8 1735.9,2242.8 1862.0,2348.5 1785.9,2280.1 1768.5,2363.7 1898.8,2388.6 1851.8,2413.4 1823.1,2392.3 1932.8,2447.5 1814.5,2295.0 1817.5,2393.3 1790.9,2411.3 1821.5,2307.8 1677.0,2223.2 1866.2,2279.5 1769.3,2375.9 1877.1,2426.8 1639.1,2212.1 1829.1,2301.0 1811.8,2295.0 1934.7,2397.6 1723.5,2335.7 1751.4,2233.0 1901.8,2392.1 1821.5,2311.4 1824.0,2391.9 1692.7,2297.8 1860.5,2338.1 1849.5,2329.8 1774.6,2262.4 1871.4,2327.4 1939.3,2419.9 1898.4,2349.6 1812.9,2397.2 1783.0,2246.5 1671.8,2288.3 1930.2,2451.8 1632.7,2218.5 1626.2,2217.6 1781.2,2266.2 1915.4,2401.9 1918.1,2405.2 1640.7,2252.6 1616.2,2240.1 1871.0,2424.1 1620.7,2219.6 1936.7,2431.3 1780.2,2382.6 1756.6,2360.2 1695.2,2226.2 1679.8,2221.8 1676.5,2202.3 1838.9,2404.9 1822.3,2299.9 1809.5,2388.9 1822.0,2300.3 1902.9,2432.5 1772.5,2379.6 1817.2,2298.3 1829.6,2403.5 1772.9,2233.3 1748.6,2382.6 1749.0,2229.2 1887.0,2429.3 1837.9,2399.8 1633.7,2239.1 1639.2,2245.8 1862.3,2326.9 1680.8,2312.7 1746.5,2242.5 1846.3,2403.8 1905.2,2433.5 1856.0,2411.1 1861.5,2416.1 1896.6,2378.2 1807.6,2394.6 1844.6,2310.9 1617.4,2219.7 1790.5,2280.2 1826.2,2396.5 1702.6,2324.5 1729.8,2347.1 1726.8,2239.1 1792.0,2273.9 1861.8,2347.1 1642.4,2214.5 1927.4,2438.4 1605.9,2185.4 1613.3,2194.4 1586.4,2194.5 1574.1,2171.5 1588.6,2179.7 1584.9,2150.0 1601.8,2194.8 1568.3,2205.4 1571.5,2192.6 1615.2,2204.1 1601.4,2214.6 1607.8,2189.4 1556.4,2193.5 1599.0,2192.9 1613.1,2220.5 1576.5,2138.7 1580.8,2190.3 1564.9,2118.6 1588.6,2125.4 1547.3,2146.8 1605.2,2170.9 1558.4,2168.7 1576.7,2243.4 1616.3,2181.0 1602.8,2177.4 1519.4,2141.7 1576.3,2191.3 1600.8,2189.2 1606.2,2192.2 1542.8,2173.3 1577.8,2193.2 1584.2,2151.8 1576.0,2174.2 1632.0,2218.0 1589.7,2155.2 1595.2,2198.0 1639.1,2196.6 1568.2,2199.6 1593.7,2195.0 1602.0,2197.9 1610.1,2183.6 1563.7,2164.1 1630.2,2156.5 1657.6,2201.9 1547.0,2166.4 1656.2,2171.4 1591.6,2212.8 1604.6,2145.4 1635.2,2194.2 1551.9,2182.2 1600.3,2197.9 1639.2,2176.6 1576.5,2213.8 1600.6,2236.9 1598.7,2190.9 1624.2,2203.2 1592.7,2159.7 1590.6,2219.6 1593.2,2172.8 1604.5,2195.5 1574.4,2151.9 1590.7,2168.6 1611.7,2164.5 1609.9,2238.1 1637.3,2216.1 1545.5,2183.1 1575.1,2176.3 1629.5,2194.5 1543.0,2143.0 1593.4,2172.5 1596.7,2191.7 1643.8,2214.3 1625.3,2203.2 1609.1,2159.6 1599.8,2169.8 1568.9,2220.3 1656.2,2214.5 1533.5,2133.0 1999.3,2464.8 1957.0,2486.6 1968.0,2480.0" fill="none" stroke="none" marker-start="url(#rg)" marker-mid="url(#rg)" marker-end="url(#rg)"/>
<path d="M1662.0,2227.8 1666.0,2227.2 1669.9,2227.7 1673.7,2229.0 1677.4,2230.8 1680.9,2232.7 1684.4,2234.6 1688.1,2236.3 1691.9,2237.6 1695.8,2238.6 1699.7,2239.4 1703.7,2240.1 1707.6,2241.0 1711.5,2242.1 1715.2,2243.5 1718.9,2245.1 1722.6,2246.7 1726.3,2248.2 1730.1,2249.8 1733.7,2251.4 1737.3,2253.2 1740.9,2255.2 1744.4,2257.1 1747.9,2259.1 1751.4,2261.0 1754.9,2263.1 1758.3,2265.2 1761.7,2267.3 1765.2,2269.4 1768.6,2271.4 1772.0,2273.6 1775.3,2275.8 1778.6,2278.2 1781.9,2280.5 1785.2,2282.7 1788.7,2284.9 1792.1,2286.9 1795.5,2289.1 1798.9,2291.3 1802.2,2293.5 1805.6,2295.8 1808.9,2298.0 1812.2,2300.3 1815.5,2302.6 1818.8,2305.0 1822.0,2307.3 1825.2,2309.7 1828.4,2312.2 1831.5,2314.8 1834.5,2317.5 1837.6,2320.1 1840.7,2322.5 1844.0,2324.9 1847.3,2327.2 1850.6,2329.6 1853.7,2332.0 1856.7,2334.7 1859.6,2337.6 1862.2,2340.6 1864.6,2343.8 1867.1,2347.0 1869.8,2350.0 1872.8,2352.6 1876.0,2355.1 1879.1,2357.6 1882.1,2360.3 1884.7,2363.4 1887.1,2366.6 1889.3,2370.0 1891.5,2373.3 1893.7,2376.7 1896.0,2380.0 1898.3,2383.3 1900.6,2386.6 1902.8,2390.0 1904.6,2393.6 1905.8,2397.4 1906.6,2401.4 1907.1,2405.4 1906.4,2409.3 1904.1,2412.6 1900.9,2414.9 1897.2,2416.5 1893.2,2417.4 1889.2,2417.6 1885.2,2417.3 1881.3,2416.5 1877.4,2415.5 1873.5,2414.4 1869.6,2413.5 1865.7,2412.5 1861.8,2411.4 1858.0,2410.2 1854.3,2408.7 1850.6,2407.1 1846.9,2405.6 1843.1,2404.0 1839.4,2402.6 1835.6,2401.1 1831.9,2399.5 1828.3,2397.8 1824.8,2395.9 1821.3,2393.8 1818.0,2391.6 1814.6,2389.4 1811.3,2387.1 1807.9,2384.9 1804.5,2382.7 1801.1,2380.6 1797.7,2378.6 1794.1,2376.7 1790.5,2374.9 1786.9,2373.2 1783.2,2371.4 1779.7,2369.5 1776.3,2367.3 1773.2,2364.9 1770.2,2362.1 1767.2,2359.4 1764.2,2356.8 1761.0,2354.4 1757.6,2352.2 1754.1,2350.2 1750.6,2348.2 1747.1,2346.2 1743.7,2344.1 1740.5,2341.7 1737.5,2339.0 1734.6,2336.2 1731.7,2333.4 1728.8,2330.6 1725.8,2327.9 1722.9,2325.1 1720.1,2322.2 1717.2,2319.4 1714.3,2316.7 1711.1,2314.2 1707.9,2311.7 1704.7,2309.3 1701.6,2306.8 1698.6,2304.2 1695.6,2301.4 1692.7,2298.6 1689.9,2295.7 1687.2,2292.8 1684.7,2289.7 1682.2,2286.5 1679.8,2283.3 1677.2,2280.1 1674.5,2277.2 1671.5,2274.5 1668.4,2271.9 1665.6,2269.1 1663.3,2265.8 1661.7,2262.1 1660.8,2258.2 1659.9,2254.2 1658.8,2250.4 1657.2,2246.7 1655.3,2243.2 1653.6,2239.5 1653.3,2235.6 1655.3,2232.1 1658.4,2229.6ZM1680.0,2248.7 1684.0,2248.3 1688.0,2248.4 1692.0,2248.6 1696.0,2248.7 1700.0,2248.9 1704.0,2249.2 1708.0,2249.8 1711.9,2250.7 1715.8,2251.8 1719.6,2253.1 1723.4,2254.4 1727.1,2256.0 1730.6,2257.8 1734.1,2259.8 1737.6,2261.9 1741.1,2263.8 1744.7,2265.5 1748.4,2267.1 1752.0,2268.9 1755.6,2270.7 1759.1,2272.7 1762.6,2274.7 1766.0,2276.7 1769.4,2278.9 1772.7,2281.2 1776.0,2283.5 1779.3,2285.8 1782.6,2288.0 1786.0,2290.2 1789.4,2292.3 1792.8,2294.5 1796.2,2296.6 1799.6,2298.7 1803.0,2300.9 1806.3,2303.1 1809.5,2305.5 1812.6,2308.0 1815.8,2310.5 1819.0,2313.0 1822.2,2315.4 1825.4,2317.8 1828.5,2320.4 1831.6,2322.9 1834.7,2325.5 1837.8,2327.9 1841.0,2330.4 1844.2,2332.8 1847.3,2335.4 1850.3,2338.1 1853.1,2340.9 1855.7,2344.0 1858.1,2347.2 1860.5,2350.4 1863.2,2353.4 1866.2,2356.1 1869.2,2358.7 1872.2,2361.4 1874.8,2364.5 1876.9,2367.9 1878.5,2371.5 1880.1,2375.2 1881.8,2378.9 1883.5,2382.5 1885.1,2386.2 1886.2,2390.0 1886.7,2394.0 1885.9,2397.9 1883.4,2401.0 1879.8,2402.7 1875.9,2403.6 1871.9,2404.1 1867.9,2404.0 1863.9,2403.5 1860.0,2402.5 1856.3,2401.1 1852.5,2399.6 1848.8,2398.1 1845.0,2396.8 1841.2,2395.4 1837.5,2394.1 1833.8,2392.5 1830.2,2390.7 1826.7,2388.7 1823.3,2386.5 1820.0,2384.3 1816.6,2382.2 1813.1,2380.1 1809.6,2378.1 1806.1,2376.3 1802.5,2374.4 1798.9,2372.7 1795.3,2371.0 1791.6,2369.2 1788.1,2367.4 1784.6,2365.5 1781.2,2363.2 1778.1,2360.8 1775.0,2358.2 1771.9,2355.7 1768.7,2353.2 1765.4,2350.9 1762.1,2348.6 1758.7,2346.5 1755.2,2344.5 1751.8,2342.4 1748.4,2340.3 1745.2,2337.9 1742.1,2335.2 1739.2,2332.5 1736.3,2329.7 1733.4,2326.9 1730.5,2324.2 1727.6,2321.4 1724.7,2318.6 1721.8,2315.8 1718.9,2313.1 1715.8,2310.5 1712.8,2307.9 1709.7,2305.3 1706.8,2302.6 1703.9,2299.8 1701.1,2296.9 1698.3,2294.0 1695.7,2290.9 1693.2,2287.8 1690.7,2284.7 1688.3,2281.4 1686.0,2278.1 1683.7,2274.9 1681.3,2271.7 1678.7,2268.6 1676.3,2265.4 1674.5,2261.8 1673.8,2257.9 1674.4,2253.9 1676.5,2250.5ZM1698.0,2256.9 1702.0,2256.3 1706.0,2256.3 1710.0,2256.6 1713.9,2257.4 1717.8,2258.5 1721.5,2259.9 1725.1,2261.7 1728.6,2263.6 1732.1,2265.7 1735.7,2267.5 1739.4,2269.0 1743.2,2270.3 1746.9,2271.7 1750.6,2273.3 1754.3,2275.0 1757.8,2276.8 1761.4,2278.7 1764.8,2280.7 1768.2,2282.9 1771.5,2285.1 1774.8,2287.4 1778.1,2289.7 1781.5,2291.9 1784.8,2294.2 1788.2,2296.3 1791.6,2298.5 1795.0,2300.5 1798.4,2302.6 1801.8,2304.8 1805.0,2307.2 1808.1,2309.8 1811.2,2312.3 1814.4,2314.8 1817.6,2317.1 1820.9,2319.5 1824.1,2321.9 1827.2,2324.5 1830.3,2327.0 1833.3,2329.6 1836.4,2332.2 1839.5,2334.8 1842.5,2337.4 1845.5,2340.1 1848.3,2343.0 1850.9,2346.0 1853.3,2349.2 1855.7,2352.5 1858.3,2355.5 1861.1,2358.4 1864.0,2361.1 1866.7,2364.1 1868.9,2367.5 1870.2,2371.2 1870.9,2375.2 1871.5,2379.2 1871.8,2383.2 1871.5,2387.1 1869.9,2390.8 1866.7,2393.2 1862.8,2394.0 1858.8,2393.7 1854.9,2392.9 1851.0,2391.9 1847.1,2391.0 1843.2,2390.0 1839.3,2388.9 1835.6,2387.5 1832.0,2385.8 1828.5,2383.8 1825.1,2381.7 1821.6,2379.6 1818.1,2377.6 1814.6,2375.8 1811.0,2374.0 1807.4,2372.2 1803.8,2370.5 1800.1,2368.8 1796.5,2367.1 1792.9,2365.3 1789.4,2363.3 1786.0,2361.2 1782.7,2358.9 1779.4,2356.6 1776.2,2354.2 1773.0,2351.8 1769.8,2349.4 1766.5,2347.1 1763.2,2344.9 1759.8,2342.7 1756.3,2340.7 1752.9,2338.6 1749.6,2336.3 1746.5,2333.7 1743.6,2331.0 1740.7,2328.2 1737.7,2325.5 1734.7,2322.8 1731.8,2320.1 1728.9,2317.3 1726.1,2314.5 1723.2,2311.7 1720.3,2308.9 1717.3,2306.2 1714.4,2303.4 1711.6,2300.6 1708.9,2297.6 1706.3,2294.5 1703.8,2291.4 1701.4,2288.2 1698.9,2285.0 1696.5,2281.8 1694.3,2278.5 1692.3,2275.0 1690.6,2271.4 1689.3,2267.6 1688.9,2263.6 1690.7,2260.1 1694.2,2258.1ZM1705.0,2265.0 1708.9,2264.0 1712.9,2264.2 1716.8,2265.2 1720.6,2266.6 1724.2,2268.2 1727.9,2269.9 1731.6,2271.3 1735.5,2272.5 1739.3,2273.6 1743.2,2274.7 1747.0,2276.0 1750.8,2277.5 1754.4,2279.1 1758.1,2280.8 1761.6,2282.7 1765.1,2284.7 1768.5,2286.8 1771.8,2289.1 1775.1,2291.3 1778.4,2293.6 1781.7,2295.9 1785.1,2298.2 1788.5,2300.3 1791.9,2302.4 1795.4,2304.4 1798.7,2306.6 1802.0,2309.0 1805.1,2311.5 1808.2,2314.1 1811.4,2316.6 1814.6,2318.9 1817.9,2321.3 1821.1,2323.6 1824.3,2326.1 1827.3,2328.7 1830.3,2331.4 1833.3,2334.2 1836.2,2336.9 1839.1,2339.7 1842.0,2342.4 1844.8,2345.3 1847.4,2348.4 1849.7,2351.7 1852.0,2354.9 1854.6,2358.1 1857.3,2361.0 1860.0,2364.0 1862.2,2367.3 1863.4,2371.1 1863.4,2375.1 1862.4,2379.0 1860.2,2382.3 1856.8,2384.4 1852.9,2385.2 1848.9,2385.3 1844.9,2385.0 1840.9,2384.3 1837.1,2383.1 1833.4,2381.5 1829.9,2379.6 1826.4,2377.6 1822.8,2375.7 1819.2,2373.9 1815.6,2372.2 1812.0,2370.5 1808.3,2368.8 1804.7,2367.2 1801.0,2365.5 1797.4,2363.7 1793.9,2361.8 1790.4,2359.8 1786.9,2357.7 1783.6,2355.5 1780.3,2353.3 1777.0,2350.9 1773.7,2348.6 1770.5,2346.2 1767.2,2343.8 1763.9,2341.6 1760.5,2339.5 1757.1,2337.4 1753.7,2335.2 1750.5,2332.7 1747.5,2330.1 1744.5,2327.4 1741.6,2324.7 1738.6,2322.0 1735.6,2319.3 1732.7,2316.5 1729.8,2313.7 1727.0,2310.8 1724.2,2308.0 1721.3,2305.1 1718.5,2302.2 1715.9,2299.2 1713.4,2296.1 1711.2,2292.7 1709.1,2289.3 1707.2,2285.8 1705.1,2282.3 1703.1,2278.8 1701.4,2275.2 1700.8,2271.2 1701.9,2267.5ZM1720.0,2275.0 1724.0,2275.0 1728.0,2275.5 1732.0,2276.1 1735.9,2276.9 1739.8,2277.7 1743.7,2278.7 1747.5,2279.9 1751.3,2281.3 1755.0,2282.8 1758.7,2284.4 1762.2,2286.3 1765.7,2288.3 1769.1,2290.5 1772.4,2292.7 1775.7,2295.0 1779.0,2297.4 1782.2,2299.7 1785.6,2301.8 1789.1,2303.9 1792.5,2305.9 1795.9,2308.0 1799.2,2310.4 1802.3,2312.9 1805.4,2315.5 1808.5,2318.0 1811.8,2320.3 1815.1,2322.6 1818.3,2325.0 1821.5,2327.5 1824.5,2330.1 1827.4,2332.9 1830.2,2335.7 1833.0,2338.6 1835.8,2341.5 1838.7,2344.3 1841.4,2347.2 1843.9,2350.4 1846.1,2353.7 1848.2,2357.1 1850.6,2360.4 1853.1,2363.5 1855.4,2366.8 1856.7,2370.5 1855.9,2374.4 1853.4,2377.5 1849.7,2379.1 1845.8,2379.7 1841.8,2379.4 1837.9,2378.4 1834.2,2376.9 1830.6,2375.2 1826.9,2373.5 1823.2,2371.9 1819.5,2370.3 1815.8,2368.8 1812.2,2367.2 1808.5,2365.5 1804.9,2363.8 1801.2,2362.1 1797.6,2360.3 1794.1,2358.4 1790.6,2356.5 1787.2,2354.4 1783.8,2352.3 1780.4,2350.1 1777.2,2347.7 1773.9,2345.3 1770.8,2342.9 1767.5,2340.6 1764.1,2338.4 1760.7,2336.2 1757.4,2334.1 1754.1,2331.7 1751.0,2329.2 1748.0,2326.5 1745.0,2323.9 1742.0,2321.2 1739.0,2318.5 1736.1,2315.8 1733.3,2312.9 1730.5,2310.0 1727.8,2307.1 1725.0,2304.2 1722.3,2301.2 1719.8,2298.0 1717.6,2294.7 1715.8,2291.1 1714.6,2287.3 1713.9,2283.4 1714.0,2279.4 1716.2,2276.1ZM1727.0,2280.9 1731.0,2280.6 1735.0,2280.8 1739.0,2281.4 1743.0,2282.2 1746.9,2283.2 1750.8,2284.3 1754.6,2285.7 1758.3,2287.4 1761.9,2289.2 1765.4,2291.2 1768.8,2293.4 1772.1,2295.7 1775.4,2298.0 1778.7,2300.4 1782.0,2302.6 1785.5,2304.7 1789.0,2306.7 1792.4,2308.8 1795.8,2311.1 1798.9,2313.6 1802.0,2316.2 1805.2,2318.7 1808.4,2321.1 1811.7,2323.4 1815.0,2325.7 1818.3,2328.2 1821.3,2330.8 1824.2,2333.7 1826.9,2336.7 1829.5,2339.7 1832.2,2342.7 1835.0,2345.7 1837.6,2348.7 1840.0,2352.0 1842.0,2355.5 1843.7,2359.1 1845.5,2362.8 1847.2,2366.4 1847.3,2370.3 1844.2,2372.7 1840.2,2372.9 1836.2,2372.1 1832.4,2371.0 1828.5,2369.8 1824.6,2368.6 1820.8,2367.3 1817.0,2365.9 1813.3,2364.3 1809.6,2362.7 1805.9,2361.1 1802.3,2359.4 1798.6,2357.6 1795.0,2355.7 1791.5,2353.8 1788.0,2351.8 1784.5,2349.7 1781.2,2347.5 1777.9,2345.1 1774.8,2342.6 1771.6,2340.1 1768.3,2337.8 1764.9,2335.6 1761.5,2333.4 1758.1,2331.2 1754.9,2328.7 1751.8,2326.2 1748.7,2323.6 1745.6,2320.9 1742.6,2318.2 1739.7,2315.4 1736.9,2312.5 1734.2,2309.5 1731.6,2306.5 1728.8,2303.5 1726.2,2300.4 1723.9,2297.1 1722.0,2293.6 1720.9,2289.7 1721.1,2285.7 1723.3,2282.4ZM1732.0,2285.7 1736.0,2285.3 1740.1,2285.5 1744.1,2286.1 1748.1,2286.9 1752.0,2288.0 1755.8,2289.4 1759.5,2291.1 1763.0,2293.0 1766.5,2295.1 1769.9,2297.3 1773.2,2299.6 1776.5,2302.0 1779.9,2304.3 1783.4,2306.4 1786.9,2308.4 1790.4,2310.5 1793.7,2312.8 1796.9,2315.3 1800.0,2317.9 1803.2,2320.4 1806.5,2322.8 1809.8,2325.1 1813.1,2327.4 1816.3,2329.9 1819.3,2332.6 1822.0,2335.6 1824.5,2338.8 1827.0,2342.0 1829.6,2345.2 1832.2,2348.3 1834.5,2351.6 1836.3,2355.2 1837.2,2359.2 1836.4,2363.1 1833.0,2365.1 1829.0,2365.3 1825.0,2364.7 1821.1,2363.7 1817.2,2362.4 1813.5,2360.9 1809.7,2359.4 1806.0,2357.8 1802.3,2356.2 1798.6,2354.4 1795.0,2352.6 1791.4,2350.7 1787.8,2348.8 1784.4,2346.6 1781.1,2344.2 1777.9,2341.7 1774.8,2339.1 1771.6,2336.7 1768.2,2334.4 1764.8,2332.2 1761.4,2330.0 1758.0,2327.7 1754.8,2325.2 1751.7,2322.7 1748.6,2320.0 1745.6,2317.3 1742.7,2314.4 1740.1,2311.4 1737.5,2308.2 1735.0,2305.1 1732.4,2302.0 1729.9,2298.8 1727.9,2295.2 1727.0,2291.3 1728.5,2287.6ZM1738.0,2290.8 1742.0,2290.2 1746.0,2290.5 1749.9,2291.2 1753.8,2292.3 1757.5,2293.8 1761.1,2295.5 1764.7,2297.3 1768.1,2299.4 1771.5,2301.6 1774.8,2303.9 1778.1,2306.2 1781.5,2308.2 1785.0,2310.2 1788.4,2312.3 1791.7,2314.6 1794.9,2317.1 1798.0,2319.7 1801.1,2322.1 1804.4,2324.4 1807.7,2326.7 1811.0,2329.0 1814.2,2331.5 1817.0,2334.3 1819.5,2337.4 1821.7,2340.8 1823.9,2344.2 1826.1,2347.5 1828.3,2350.9 1829.6,2354.7 1828.4,2358.3 1824.7,2359.6 1820.7,2359.2 1816.8,2358.2 1813.0,2357.0 1809.2,2355.7 1805.5,2354.2 1801.8,2352.6 1798.1,2351.0 1794.5,2349.3 1790.9,2347.4 1787.4,2345.4 1784.1,2343.1 1781.0,2340.6 1777.9,2338.0 1774.8,2335.5 1771.5,2333.2 1768.1,2331.1 1764.7,2328.9 1761.4,2326.7 1758.2,2324.3 1755.0,2321.9 1751.9,2319.3 1748.9,2316.6 1746.2,2313.7 1743.8,2310.4 1741.7,2307.0 1739.5,2303.7 1737.2,2300.4 1735.1,2297.0 1734.9,2293.1ZM1750.0,2297.9 1754.1,2297.8 1758.1,2298.6 1761.9,2299.9 1765.6,2301.6 1769.1,2303.7 1772.6,2305.9 1776.0,2308.1 1779.5,2310.2 1783.0,2312.3 1786.5,2314.4 1789.8,2316.8 1792.9,2319.4 1796.1,2321.9 1799.4,2324.3 1802.8,2326.6 1806.2,2328.9 1809.5,2331.3 1812.5,2334.0 1815.1,2337.2 1817.1,2340.7 1818.7,2344.5 1819.9,2348.4 1818.5,2351.9 1814.6,2352.5 1810.5,2351.8 1806.6,2350.7 1802.8,2349.4 1799.0,2347.9 1795.2,2346.2 1791.6,2344.4 1788.1,2342.4 1784.8,2339.9 1781.7,2337.3 1778.6,2334.6 1775.4,2332.1 1772.0,2329.9 1768.5,2327.8 1765.0,2325.6 1761.7,2323.3 1758.4,2320.8 1755.2,2318.3 1752.3,2315.5 1749.8,2312.3 1748.0,2308.6 1747.2,2304.6 1747.3,2300.6ZM1759.0,2304.8 1763.0,2305.2 1766.7,2306.6 1770.2,2308.6 1773.6,2310.7 1777.1,2312.8 1780.5,2314.9 1783.9,2317.1 1787.1,2319.5 1790.2,2322.0 1793.5,2324.4 1796.8,2326.6 1800.2,2328.7 1803.5,2331.0 1806.6,2333.5 1809.3,2336.5 1811.0,2340.1 1810.5,2344.0 1806.8,2345.3 1802.8,2344.7 1799.0,2343.7 1795.2,2342.2 1791.6,2340.4 1788.3,2338.2 1785.2,2335.6 1782.3,2332.9 1779.2,2330.3 1775.9,2328.1 1772.4,2326.0 1769.0,2323.9 1765.6,2321.7 1762.4,2319.4 1759.2,2316.9 1756.4,2314.0 1754.7,2310.4 1755.5,2306.6Z" fill="none" stroke="#31679A" stroke-width="2.6" stroke-linejoin="round"/>
</g>
<path d="M1513.0,2326.8H2046.6M1779.8,2069.8V2583.8" fill="none" stroke="#000" stroke-width="2.8" stroke-dasharray="12.6 8"/>
<rect x="1513.0" y="2069.8" width="533.6" height="514.0" fill="none" stroke="#000" stroke-width="2.8"/>
<path d="M1495,2141.4H1513.0" stroke="#000" stroke-width="2.8"/>
<text x="1480.5" y="2161.4" text-anchor="end" class="ax">2</text>
<path d="M1495,2234.1H1513.0" stroke="#000" stroke-width="2.8"/>
<text x="1480.5" y="2254.1" text-anchor="end" class="ax">1</text>
<path d="M1495,2326.8H1513.0" stroke="#000" stroke-width="2.8"/>
<text x="1480.5" y="2346.8" text-anchor="end" class="ax">0</text>
<path d="M1495,2419.5H1513.0" stroke="#000" stroke-width="2.8"/>
<text x="1480.5" y="2439.5" text-anchor="end" class="ax">-1</text>
<path d="M1495,2512.2H1513.0" stroke="#000" stroke-width="2.8"/>
<text x="1480.5" y="2532.2" text-anchor="end" class="ax">-2</text>
<path d="M1630.0,2583.8V2601.3" stroke="#000" stroke-width="2.8"/>
<text x="1630.0" y="2643.3" text-anchor="middle" class="ax">-1</text>
<path d="M1779.8,2583.8V2601.3" stroke="#000" stroke-width="2.8"/>
<text x="1779.8" y="2643.3" text-anchor="middle" class="ax">0</text>
<path d="M1929.6,2583.8V2601.3" stroke="#000" stroke-width="2.8"/>
<text x="1929.6" y="2643.3" text-anchor="middle" class="ax">1</text>
<text x="1779.8" y="2102.0" text-anchor="middle" class="ttl">Reshuffled countries</text>
<text x="1536" y="2144.5" class="let">f</text>
<text x="1779.8" y="2698.3" text-anchor="middle" class="rt">Precipitation coef. (×10<tspan dy="-23" font-size="31.5">−4</tspan><tspan dy="23">)</tspan></text>
<text transform="translate(1397,2326.8) rotate(-90)" text-anchor="middle" class="rt">Precipitation<tspan dy="-23" font-size="31.5">2</tspan><tspan dy="23"> coef. &#160;(×10</tspan><tspan dy="-23" font-size="31.5">−7</tspan><tspan dy="23">)</tspan></text>
<g stroke="#B8860B" fill="none" stroke-linecap="round"><circle cx="1981.3" cy="2455.3" r="15.2" stroke-width="4"/><path d="M1974.1,2448.1l14.4,14.4m0,-14.4l-14.4,14.4" stroke-width="3.6"/></g>
</g>
<g fill="#B8860B" class="ann" text-anchor="middle"><text x="1545.5" y="347.3">Sample</text><text x="1545.8" y="386.3">estimate</text></g>
<g fill="none" stroke="#B8860B" stroke-width="4.5" stroke-linecap="round" stroke-linejoin="round"><path d="M1546.3,312C1562,284 1582,256 1615.2,240.3"/><path d="M1596.2,239.9L1615.2,240.3L1606.2,258"/></g>
<g fill="#4D4D4D" class="ann" text-anchor="middle"><text x="1903.5" y="148.3">Reshuffled</text><text x="1903" y="186.7">estimates</text><text x="1903" y="226.7">(n=10<tspan dy="-18" font-size="25">4</tspan><tspan dy="18">)</tspan></text></g>
<g fill="none" stroke="#4D4D4D" stroke-width="3.8" stroke-linecap="round" stroke-linejoin="round"><path d="M1903.3,235C1893,254 1876,266 1852.5,268.3"/><path d="M1866.7,256.7L1852.5,268.3L1870,274.2"/></g>
</svg></body></html>
